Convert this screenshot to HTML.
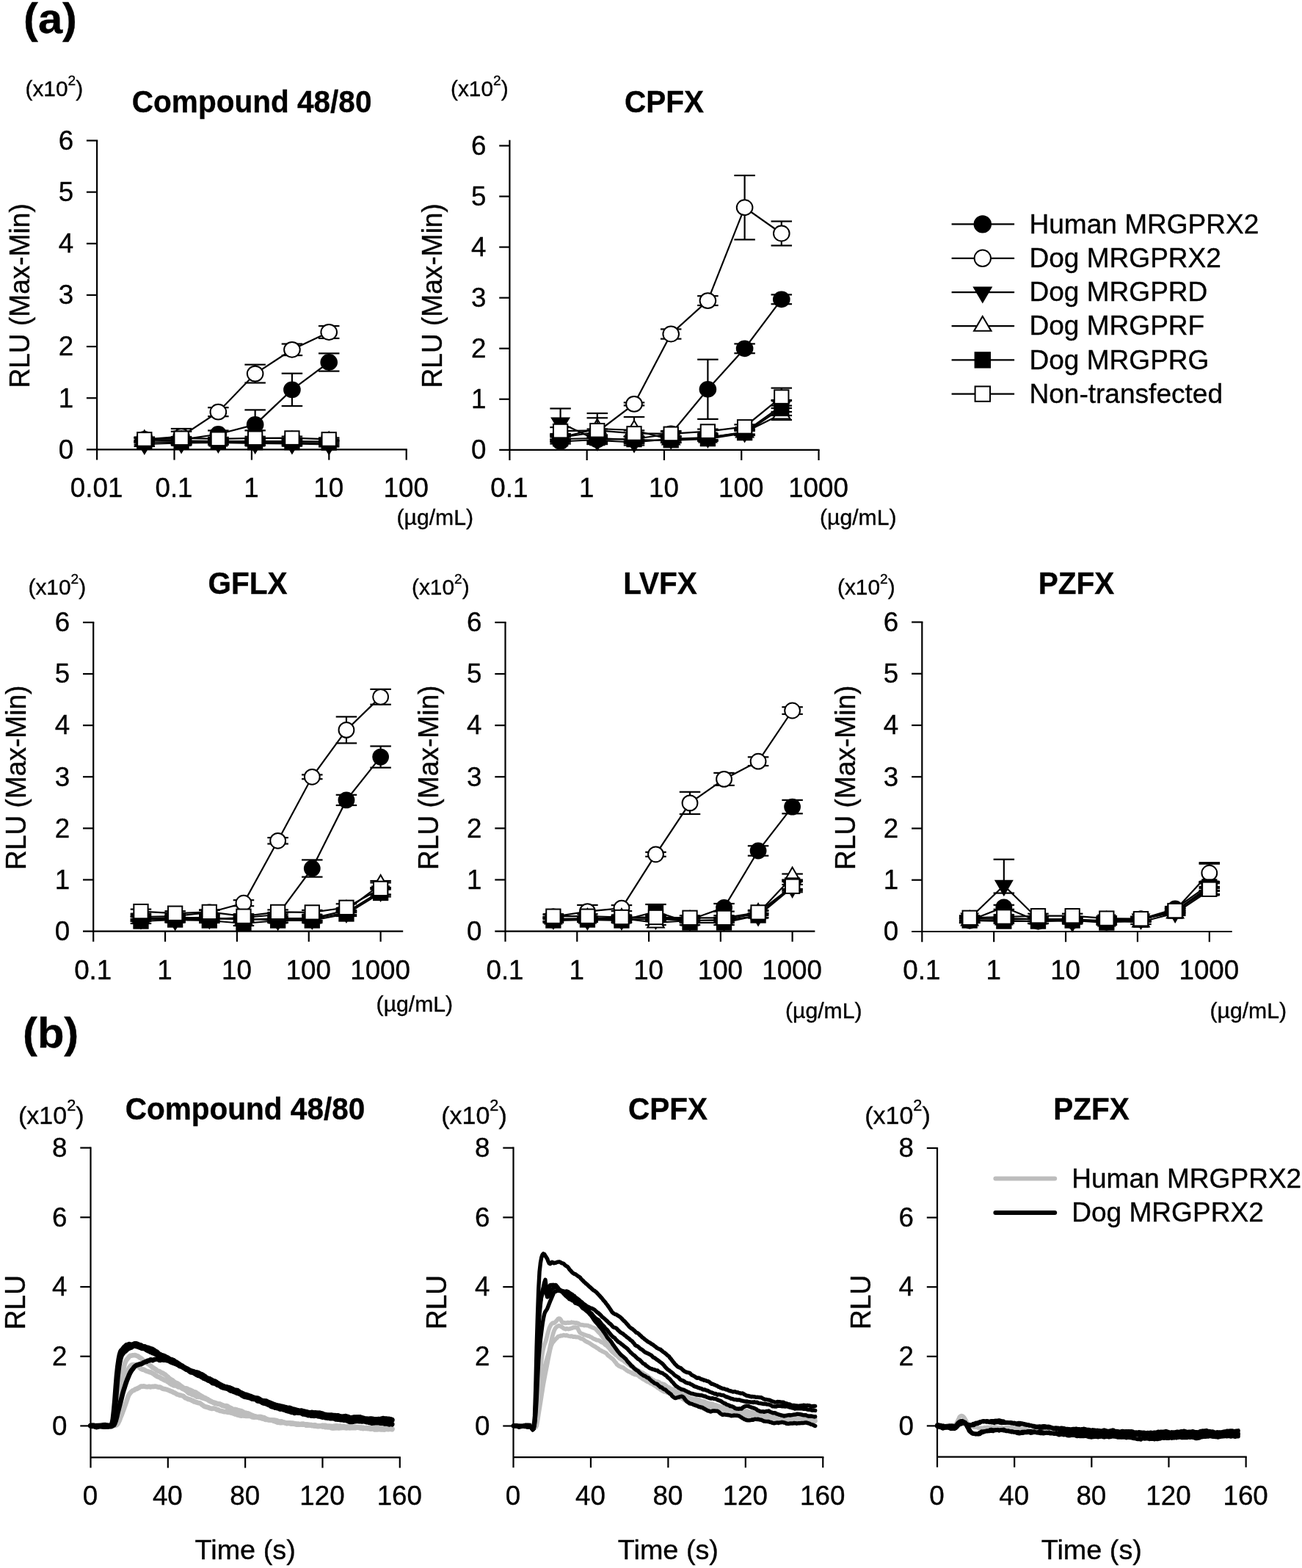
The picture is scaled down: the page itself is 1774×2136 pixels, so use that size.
<!DOCTYPE html>
<html lang="en">
<head>
<meta charset="utf-8">
<title>MRGPRX2 responses</title>
<style>
html,body{margin:0;padding:0;background:#fff;}
svg{display:block;}
text{font-family:"Liberation Sans",Arial,Helvetica,sans-serif;fill:#000;stroke:#000;stroke-width:0.35px;}
</style>
</head>
<body>
<svg width="1774" height="2136" viewBox="0 0 1774 2136">
<rect width="1774" height="2136" fill="#fff"/>
<line x1="132.1" y1="191.4" x2="132.1" y2="626.6" stroke="#000" stroke-width="2.2" stroke-linecap="butt"/>
<line x1="117.9" y1="612.4" x2="554.8" y2="612.4" stroke="#000" stroke-width="2.2" stroke-linecap="butt"/>
<line x1="117.9" y1="542.25" x2="132.1" y2="542.25" stroke="#000" stroke-width="2.2" stroke-linecap="butt"/>
<line x1="117.9" y1="472.1" x2="132.1" y2="472.1" stroke="#000" stroke-width="2.2" stroke-linecap="butt"/>
<line x1="117.9" y1="401.95" x2="132.1" y2="401.95" stroke="#000" stroke-width="2.2" stroke-linecap="butt"/>
<line x1="117.9" y1="331.8" x2="132.1" y2="331.8" stroke="#000" stroke-width="2.2" stroke-linecap="butt"/>
<line x1="117.9" y1="261.65" x2="132.1" y2="261.65" stroke="#000" stroke-width="2.2" stroke-linecap="butt"/>
<line x1="117.9" y1="191.5" x2="133.2" y2="191.5" stroke="#000" stroke-width="2.2" stroke-linecap="butt"/>
<text transform="translate(100.1,624.66) scale(0.98,1)" font-size="37.5" text-anchor="end">0</text>
<text transform="translate(100.1,554.51) scale(0.98,1)" font-size="37.5" text-anchor="end">1</text>
<text transform="translate(100.1,484.36) scale(0.98,1)" font-size="37.5" text-anchor="end">2</text>
<text transform="translate(100.1,414.21) scale(0.98,1)" font-size="37.5" text-anchor="end">3</text>
<text transform="translate(100.1,344.06) scale(0.98,1)" font-size="37.5" text-anchor="end">4</text>
<text transform="translate(100.1,273.91) scale(0.98,1)" font-size="37.5" text-anchor="end">5</text>
<text transform="translate(100.1,203.76) scale(0.98,1)" font-size="37.5" text-anchor="end">6</text>
<text transform="translate(131.6,677.4) scale(0.98,1)" font-size="37.5" text-anchor="middle">0.01</text>
<line x1="237.5" y1="612.4" x2="237.5" y2="626.6" stroke="#000" stroke-width="2.2" stroke-linecap="butt"/>
<text transform="translate(237,677.4) scale(0.98,1)" font-size="37.5" text-anchor="middle">0.1</text>
<line x1="342.9" y1="612.4" x2="342.9" y2="626.6" stroke="#000" stroke-width="2.2" stroke-linecap="butt"/>
<text transform="translate(342.4,677.4) scale(0.98,1)" font-size="37.5" text-anchor="middle">1</text>
<line x1="448.3" y1="612.4" x2="448.3" y2="626.6" stroke="#000" stroke-width="2.2" stroke-linecap="butt"/>
<text transform="translate(447.8,677.4) scale(0.98,1)" font-size="37.5" text-anchor="middle">10</text>
<line x1="553.7" y1="612.4" x2="553.7" y2="626.6" stroke="#000" stroke-width="2.2" stroke-linecap="butt"/>
<text transform="translate(553.2,677.4) scale(0.98,1)" font-size="37.5" text-anchor="middle">100</text>
<text transform="translate(343.1,152.9) scale(0.95,1)" font-size="42.7" text-anchor="middle" font-weight="bold">Compound 48/80</text>
<text transform="translate(34.5,131.2) scale(1.03,1)" font-size="29" text-anchor="start">(x10<tspan font-size="18.56" dy="-14.79">2</tspan><tspan dy="14.79">)</tspan></text>
<text transform="translate(540.5,714.5) scale(1.04,1)" font-size="29" text-anchor="start">(µg/mL)</text>
<text transform="translate(40,402.9) rotate(-90) scale(1.03,1.07)" font-size="36" text-anchor="middle">RLU (Max-Min)</text>
<polyline points="196.8,599.5 247.08,599 297.36,591.5 347.64,578.4 397.92,530.9 448.2,493.5" fill="none" stroke="#000" stroke-width="2.2" stroke-linejoin="miter" stroke-linecap="butt"/>
<line x1="196.8" y1="596.5" x2="196.8" y2="602.5" stroke="#000" stroke-width="2.2" stroke-linecap="butt"/>
<line x1="182.55" y1="596.5" x2="211.05" y2="596.5" stroke="#000" stroke-width="2.2" stroke-linecap="butt"/>
<line x1="182.55" y1="602.5" x2="211.05" y2="602.5" stroke="#000" stroke-width="2.2" stroke-linecap="butt"/>
<line x1="247.08" y1="595" x2="247.08" y2="603" stroke="#000" stroke-width="2.2" stroke-linecap="butt"/>
<line x1="232.83" y1="595" x2="261.33" y2="595" stroke="#000" stroke-width="2.2" stroke-linecap="butt"/>
<line x1="232.83" y1="603" x2="261.33" y2="603" stroke="#000" stroke-width="2.2" stroke-linecap="butt"/>
<line x1="297.36" y1="586.5" x2="297.36" y2="596.5" stroke="#000" stroke-width="2.2" stroke-linecap="butt"/>
<line x1="283.11" y1="586.5" x2="311.61" y2="586.5" stroke="#000" stroke-width="2.2" stroke-linecap="butt"/>
<line x1="283.11" y1="596.5" x2="311.61" y2="596.5" stroke="#000" stroke-width="2.2" stroke-linecap="butt"/>
<line x1="347.64" y1="558.4" x2="347.64" y2="586.4" stroke="#000" stroke-width="2.2" stroke-linecap="butt"/>
<line x1="333.39" y1="558.4" x2="361.89" y2="558.4" stroke="#000" stroke-width="2.2" stroke-linecap="butt"/>
<line x1="333.39" y1="586.4" x2="361.89" y2="586.4" stroke="#000" stroke-width="2.2" stroke-linecap="butt"/>
<line x1="397.92" y1="508.7" x2="397.92" y2="553.1" stroke="#000" stroke-width="2.2" stroke-linecap="butt"/>
<line x1="383.67" y1="508.7" x2="412.17" y2="508.7" stroke="#000" stroke-width="2.2" stroke-linecap="butt"/>
<line x1="383.67" y1="553.1" x2="412.17" y2="553.1" stroke="#000" stroke-width="2.2" stroke-linecap="butt"/>
<line x1="448.2" y1="481.4" x2="448.2" y2="505.6" stroke="#000" stroke-width="2.2" stroke-linecap="butt"/>
<line x1="433.95" y1="481.4" x2="462.45" y2="481.4" stroke="#000" stroke-width="2.2" stroke-linecap="butt"/>
<line x1="433.95" y1="505.6" x2="462.45" y2="505.6" stroke="#000" stroke-width="2.2" stroke-linecap="butt"/>
<ellipse cx="196.8" cy="599.5" rx="10.82" ry="10.4" fill="#000" stroke="#000" stroke-width="2"/>
<ellipse cx="247.08" cy="599" rx="10.82" ry="10.4" fill="#000" stroke="#000" stroke-width="2"/>
<ellipse cx="297.36" cy="591.5" rx="10.82" ry="10.4" fill="#000" stroke="#000" stroke-width="2"/>
<ellipse cx="347.64" cy="578.4" rx="10.82" ry="10.4" fill="#000" stroke="#000" stroke-width="2"/>
<ellipse cx="397.92" cy="530.9" rx="10.82" ry="10.4" fill="#000" stroke="#000" stroke-width="2"/>
<ellipse cx="448.2" cy="493.5" rx="10.82" ry="10.4" fill="#000" stroke="#000" stroke-width="2"/>
<polyline points="196.8,598.5 247.08,594.5 297.36,561.2 347.64,509.1 397.92,476.3 448.2,452.5" fill="none" stroke="#000" stroke-width="2.2" stroke-linejoin="miter" stroke-linecap="butt"/>
<line x1="196.8" y1="595.5" x2="196.8" y2="601.5" stroke="#000" stroke-width="2.2" stroke-linecap="butt"/>
<line x1="182.55" y1="595.5" x2="211.05" y2="595.5" stroke="#000" stroke-width="2.2" stroke-linecap="butt"/>
<line x1="182.55" y1="601.5" x2="211.05" y2="601.5" stroke="#000" stroke-width="2.2" stroke-linecap="butt"/>
<line x1="247.08" y1="584" x2="247.08" y2="605" stroke="#000" stroke-width="2.2" stroke-linecap="butt"/>
<line x1="232.83" y1="584" x2="261.33" y2="584" stroke="#000" stroke-width="2.2" stroke-linecap="butt"/>
<line x1="232.83" y1="605" x2="261.33" y2="605" stroke="#000" stroke-width="2.2" stroke-linecap="butt"/>
<line x1="297.36" y1="555.2" x2="297.36" y2="567.2" stroke="#000" stroke-width="2.2" stroke-linecap="butt"/>
<line x1="283.11" y1="555.2" x2="311.61" y2="555.2" stroke="#000" stroke-width="2.2" stroke-linecap="butt"/>
<line x1="283.11" y1="567.2" x2="311.61" y2="567.2" stroke="#000" stroke-width="2.2" stroke-linecap="butt"/>
<line x1="347.64" y1="496.7" x2="347.64" y2="521.5" stroke="#000" stroke-width="2.2" stroke-linecap="butt"/>
<line x1="333.39" y1="496.7" x2="361.89" y2="496.7" stroke="#000" stroke-width="2.2" stroke-linecap="butt"/>
<line x1="333.39" y1="521.5" x2="361.89" y2="521.5" stroke="#000" stroke-width="2.2" stroke-linecap="butt"/>
<line x1="397.92" y1="468.5" x2="397.92" y2="484.1" stroke="#000" stroke-width="2.2" stroke-linecap="butt"/>
<line x1="383.67" y1="468.5" x2="412.17" y2="468.5" stroke="#000" stroke-width="2.2" stroke-linecap="butt"/>
<line x1="383.67" y1="484.1" x2="412.17" y2="484.1" stroke="#000" stroke-width="2.2" stroke-linecap="butt"/>
<line x1="448.2" y1="444.1" x2="448.2" y2="460.9" stroke="#000" stroke-width="2.2" stroke-linecap="butt"/>
<line x1="433.95" y1="444.1" x2="462.45" y2="444.1" stroke="#000" stroke-width="2.2" stroke-linecap="butt"/>
<line x1="433.95" y1="460.9" x2="462.45" y2="460.9" stroke="#000" stroke-width="2.2" stroke-linecap="butt"/>
<ellipse cx="196.8" cy="598.5" rx="10.82" ry="10.4" fill="#fff" stroke="#000" stroke-width="2"/>
<ellipse cx="247.08" cy="594.5" rx="10.82" ry="10.4" fill="#fff" stroke="#000" stroke-width="2"/>
<ellipse cx="297.36" cy="561.2" rx="10.82" ry="10.4" fill="#fff" stroke="#000" stroke-width="2"/>
<ellipse cx="347.64" cy="509.1" rx="10.82" ry="10.4" fill="#fff" stroke="#000" stroke-width="2"/>
<ellipse cx="397.92" cy="476.3" rx="10.82" ry="10.4" fill="#fff" stroke="#000" stroke-width="2"/>
<ellipse cx="448.2" cy="452.5" rx="10.82" ry="10.4" fill="#fff" stroke="#000" stroke-width="2"/>
<polyline points="196.8,605 247.08,603.5 297.36,603 347.64,604 397.92,604.5 448.2,605.5" fill="none" stroke="#000" stroke-width="2.2" stroke-linejoin="miter" stroke-linecap="butt"/>
<line x1="196.8" y1="602" x2="196.8" y2="608" stroke="#000" stroke-width="2.2" stroke-linecap="butt"/>
<line x1="182.55" y1="602" x2="211.05" y2="602" stroke="#000" stroke-width="2.2" stroke-linecap="butt"/>
<line x1="182.55" y1="608" x2="211.05" y2="608" stroke="#000" stroke-width="2.2" stroke-linecap="butt"/>
<line x1="247.08" y1="600.5" x2="247.08" y2="606.5" stroke="#000" stroke-width="2.2" stroke-linecap="butt"/>
<line x1="232.83" y1="600.5" x2="261.33" y2="600.5" stroke="#000" stroke-width="2.2" stroke-linecap="butt"/>
<line x1="232.83" y1="606.5" x2="261.33" y2="606.5" stroke="#000" stroke-width="2.2" stroke-linecap="butt"/>
<line x1="297.36" y1="600" x2="297.36" y2="606" stroke="#000" stroke-width="2.2" stroke-linecap="butt"/>
<line x1="283.11" y1="600" x2="311.61" y2="600" stroke="#000" stroke-width="2.2" stroke-linecap="butt"/>
<line x1="283.11" y1="606" x2="311.61" y2="606" stroke="#000" stroke-width="2.2" stroke-linecap="butt"/>
<line x1="347.64" y1="601" x2="347.64" y2="607" stroke="#000" stroke-width="2.2" stroke-linecap="butt"/>
<line x1="333.39" y1="601" x2="361.89" y2="601" stroke="#000" stroke-width="2.2" stroke-linecap="butt"/>
<line x1="333.39" y1="607" x2="361.89" y2="607" stroke="#000" stroke-width="2.2" stroke-linecap="butt"/>
<line x1="397.92" y1="601.5" x2="397.92" y2="607.5" stroke="#000" stroke-width="2.2" stroke-linecap="butt"/>
<line x1="383.67" y1="601.5" x2="412.17" y2="601.5" stroke="#000" stroke-width="2.2" stroke-linecap="butt"/>
<line x1="383.67" y1="607.5" x2="412.17" y2="607.5" stroke="#000" stroke-width="2.2" stroke-linecap="butt"/>
<line x1="448.2" y1="602.5" x2="448.2" y2="608.5" stroke="#000" stroke-width="2.2" stroke-linecap="butt"/>
<line x1="433.95" y1="602.5" x2="462.45" y2="602.5" stroke="#000" stroke-width="2.2" stroke-linecap="butt"/>
<line x1="433.95" y1="608.5" x2="462.45" y2="608.5" stroke="#000" stroke-width="2.2" stroke-linecap="butt"/>
<polygon points="196.8,618 185.1,598.5 208.5,598.5" fill="#000" stroke="#000" stroke-width="2" stroke-linejoin="miter"/>
<polygon points="247.08,616.5 235.38,597 258.78,597" fill="#000" stroke="#000" stroke-width="2" stroke-linejoin="miter"/>
<polygon points="297.36,616 285.66,596.5 309.06,596.5" fill="#000" stroke="#000" stroke-width="2" stroke-linejoin="miter"/>
<polygon points="347.64,617 335.94,597.5 359.34,597.5" fill="#000" stroke="#000" stroke-width="2" stroke-linejoin="miter"/>
<polygon points="397.92,617.5 386.22,598 409.62,598" fill="#000" stroke="#000" stroke-width="2" stroke-linejoin="miter"/>
<polygon points="448.2,618.5 436.5,599 459.9,599" fill="#000" stroke="#000" stroke-width="2" stroke-linejoin="miter"/>
<polyline points="196.8,599.5 247.08,600.5 297.36,601 347.64,601 397.92,601 448.2,601.5" fill="none" stroke="#000" stroke-width="2.2" stroke-linejoin="miter" stroke-linecap="butt"/>
<line x1="196.8" y1="596.5" x2="196.8" y2="602.5" stroke="#000" stroke-width="2.2" stroke-linecap="butt"/>
<line x1="182.55" y1="596.5" x2="211.05" y2="596.5" stroke="#000" stroke-width="2.2" stroke-linecap="butt"/>
<line x1="182.55" y1="602.5" x2="211.05" y2="602.5" stroke="#000" stroke-width="2.2" stroke-linecap="butt"/>
<line x1="247.08" y1="597.5" x2="247.08" y2="603.5" stroke="#000" stroke-width="2.2" stroke-linecap="butt"/>
<line x1="232.83" y1="597.5" x2="261.33" y2="597.5" stroke="#000" stroke-width="2.2" stroke-linecap="butt"/>
<line x1="232.83" y1="603.5" x2="261.33" y2="603.5" stroke="#000" stroke-width="2.2" stroke-linecap="butt"/>
<line x1="297.36" y1="598" x2="297.36" y2="604" stroke="#000" stroke-width="2.2" stroke-linecap="butt"/>
<line x1="283.11" y1="598" x2="311.61" y2="598" stroke="#000" stroke-width="2.2" stroke-linecap="butt"/>
<line x1="283.11" y1="604" x2="311.61" y2="604" stroke="#000" stroke-width="2.2" stroke-linecap="butt"/>
<line x1="347.64" y1="598" x2="347.64" y2="604" stroke="#000" stroke-width="2.2" stroke-linecap="butt"/>
<line x1="333.39" y1="598" x2="361.89" y2="598" stroke="#000" stroke-width="2.2" stroke-linecap="butt"/>
<line x1="333.39" y1="604" x2="361.89" y2="604" stroke="#000" stroke-width="2.2" stroke-linecap="butt"/>
<line x1="397.92" y1="598" x2="397.92" y2="604" stroke="#000" stroke-width="2.2" stroke-linecap="butt"/>
<line x1="383.67" y1="598" x2="412.17" y2="598" stroke="#000" stroke-width="2.2" stroke-linecap="butt"/>
<line x1="383.67" y1="604" x2="412.17" y2="604" stroke="#000" stroke-width="2.2" stroke-linecap="butt"/>
<line x1="448.2" y1="598.5" x2="448.2" y2="604.5" stroke="#000" stroke-width="2.2" stroke-linecap="butt"/>
<line x1="433.95" y1="598.5" x2="462.45" y2="598.5" stroke="#000" stroke-width="2.2" stroke-linecap="butt"/>
<line x1="433.95" y1="604.5" x2="462.45" y2="604.5" stroke="#000" stroke-width="2.2" stroke-linecap="butt"/>
<polygon points="196.8,586.5 185.1,606 208.5,606" fill="#fff" stroke="#000" stroke-width="2" stroke-linejoin="miter"/>
<polygon points="247.08,587.5 235.38,607 258.78,607" fill="#fff" stroke="#000" stroke-width="2" stroke-linejoin="miter"/>
<polygon points="297.36,588 285.66,607.5 309.06,607.5" fill="#fff" stroke="#000" stroke-width="2" stroke-linejoin="miter"/>
<polygon points="347.64,588 335.94,607.5 359.34,607.5" fill="#fff" stroke="#000" stroke-width="2" stroke-linejoin="miter"/>
<polygon points="397.92,588 386.22,607.5 409.62,607.5" fill="#fff" stroke="#000" stroke-width="2" stroke-linejoin="miter"/>
<polygon points="448.2,588.5 436.5,608 459.9,608" fill="#fff" stroke="#000" stroke-width="2" stroke-linejoin="miter"/>
<polyline points="196.8,602.5 247.08,602 297.36,602.5 347.64,603 397.92,603 448.2,603.5" fill="none" stroke="#000" stroke-width="2.2" stroke-linejoin="miter" stroke-linecap="butt"/>
<line x1="196.8" y1="599.5" x2="196.8" y2="605.5" stroke="#000" stroke-width="2.2" stroke-linecap="butt"/>
<line x1="182.55" y1="599.5" x2="211.05" y2="599.5" stroke="#000" stroke-width="2.2" stroke-linecap="butt"/>
<line x1="182.55" y1="605.5" x2="211.05" y2="605.5" stroke="#000" stroke-width="2.2" stroke-linecap="butt"/>
<line x1="247.08" y1="599" x2="247.08" y2="605" stroke="#000" stroke-width="2.2" stroke-linecap="butt"/>
<line x1="232.83" y1="599" x2="261.33" y2="599" stroke="#000" stroke-width="2.2" stroke-linecap="butt"/>
<line x1="232.83" y1="605" x2="261.33" y2="605" stroke="#000" stroke-width="2.2" stroke-linecap="butt"/>
<line x1="297.36" y1="599.5" x2="297.36" y2="605.5" stroke="#000" stroke-width="2.2" stroke-linecap="butt"/>
<line x1="283.11" y1="599.5" x2="311.61" y2="599.5" stroke="#000" stroke-width="2.2" stroke-linecap="butt"/>
<line x1="283.11" y1="605.5" x2="311.61" y2="605.5" stroke="#000" stroke-width="2.2" stroke-linecap="butt"/>
<line x1="347.64" y1="600" x2="347.64" y2="606" stroke="#000" stroke-width="2.2" stroke-linecap="butt"/>
<line x1="333.39" y1="600" x2="361.89" y2="600" stroke="#000" stroke-width="2.2" stroke-linecap="butt"/>
<line x1="333.39" y1="606" x2="361.89" y2="606" stroke="#000" stroke-width="2.2" stroke-linecap="butt"/>
<line x1="397.92" y1="600" x2="397.92" y2="606" stroke="#000" stroke-width="2.2" stroke-linecap="butt"/>
<line x1="383.67" y1="600" x2="412.17" y2="600" stroke="#000" stroke-width="2.2" stroke-linecap="butt"/>
<line x1="383.67" y1="606" x2="412.17" y2="606" stroke="#000" stroke-width="2.2" stroke-linecap="butt"/>
<line x1="448.2" y1="600.5" x2="448.2" y2="606.5" stroke="#000" stroke-width="2.2" stroke-linecap="butt"/>
<line x1="433.95" y1="600.5" x2="462.45" y2="600.5" stroke="#000" stroke-width="2.2" stroke-linecap="butt"/>
<line x1="433.95" y1="606.5" x2="462.45" y2="606.5" stroke="#000" stroke-width="2.2" stroke-linecap="butt"/>
<rect x="187.15" y="593.22" width="19.3" height="18.56" fill="#000" stroke="#000" stroke-width="2"/>
<rect x="237.43" y="592.72" width="19.3" height="18.56" fill="#000" stroke="#000" stroke-width="2"/>
<rect x="287.71" y="593.22" width="19.3" height="18.56" fill="#000" stroke="#000" stroke-width="2"/>
<rect x="337.99" y="593.72" width="19.3" height="18.56" fill="#000" stroke="#000" stroke-width="2"/>
<rect x="388.27" y="593.72" width="19.3" height="18.56" fill="#000" stroke="#000" stroke-width="2"/>
<rect x="438.55" y="594.22" width="19.3" height="18.56" fill="#000" stroke="#000" stroke-width="2"/>
<polyline points="196.8,598.4 247.08,596.8 297.36,597.8 347.64,596.8 397.92,596.6 448.2,598.4" fill="none" stroke="#000" stroke-width="2.2" stroke-linejoin="miter" stroke-linecap="butt"/>
<line x1="196.8" y1="596.4" x2="196.8" y2="600.4" stroke="#000" stroke-width="2.2" stroke-linecap="butt"/>
<line x1="182.55" y1="596.4" x2="211.05" y2="596.4" stroke="#000" stroke-width="2.2" stroke-linecap="butt"/>
<line x1="182.55" y1="600.4" x2="211.05" y2="600.4" stroke="#000" stroke-width="2.2" stroke-linecap="butt"/>
<line x1="247.08" y1="587.8" x2="247.08" y2="605.8" stroke="#000" stroke-width="2.2" stroke-linecap="butt"/>
<line x1="232.83" y1="587.8" x2="261.33" y2="587.8" stroke="#000" stroke-width="2.2" stroke-linecap="butt"/>
<line x1="232.83" y1="605.8" x2="261.33" y2="605.8" stroke="#000" stroke-width="2.2" stroke-linecap="butt"/>
<line x1="297.36" y1="595.8" x2="297.36" y2="599.8" stroke="#000" stroke-width="2.2" stroke-linecap="butt"/>
<line x1="283.11" y1="595.8" x2="311.61" y2="595.8" stroke="#000" stroke-width="2.2" stroke-linecap="butt"/>
<line x1="283.11" y1="599.8" x2="311.61" y2="599.8" stroke="#000" stroke-width="2.2" stroke-linecap="butt"/>
<line x1="347.64" y1="594.8" x2="347.64" y2="598.8" stroke="#000" stroke-width="2.2" stroke-linecap="butt"/>
<line x1="333.39" y1="594.8" x2="361.89" y2="594.8" stroke="#000" stroke-width="2.2" stroke-linecap="butt"/>
<line x1="333.39" y1="598.8" x2="361.89" y2="598.8" stroke="#000" stroke-width="2.2" stroke-linecap="butt"/>
<line x1="397.92" y1="594.6" x2="397.92" y2="598.6" stroke="#000" stroke-width="2.2" stroke-linecap="butt"/>
<line x1="383.67" y1="594.6" x2="412.17" y2="594.6" stroke="#000" stroke-width="2.2" stroke-linecap="butt"/>
<line x1="383.67" y1="598.6" x2="412.17" y2="598.6" stroke="#000" stroke-width="2.2" stroke-linecap="butt"/>
<line x1="448.2" y1="596.4" x2="448.2" y2="600.4" stroke="#000" stroke-width="2.2" stroke-linecap="butt"/>
<line x1="433.95" y1="596.4" x2="462.45" y2="596.4" stroke="#000" stroke-width="2.2" stroke-linecap="butt"/>
<line x1="433.95" y1="600.4" x2="462.45" y2="600.4" stroke="#000" stroke-width="2.2" stroke-linecap="butt"/>
<rect x="187.15" y="589.12" width="19.3" height="18.56" fill="#fff" stroke="#000" stroke-width="2"/>
<rect x="237.43" y="587.52" width="19.3" height="18.56" fill="#fff" stroke="#000" stroke-width="2"/>
<rect x="287.71" y="588.52" width="19.3" height="18.56" fill="#fff" stroke="#000" stroke-width="2"/>
<rect x="337.99" y="587.52" width="19.3" height="18.56" fill="#fff" stroke="#000" stroke-width="2"/>
<rect x="388.27" y="587.32" width="19.3" height="18.56" fill="#fff" stroke="#000" stroke-width="2"/>
<rect x="438.55" y="589.12" width="19.3" height="18.56" fill="#fff" stroke="#000" stroke-width="2"/>
<line x1="694.4" y1="190.8" x2="694.4" y2="627" stroke="#000" stroke-width="2.2" stroke-linecap="butt"/>
<line x1="680.2" y1="612.8" x2="1116.6" y2="612.8" stroke="#000" stroke-width="2.2" stroke-linecap="butt"/>
<line x1="680.2" y1="543.75" x2="694.4" y2="543.75" stroke="#000" stroke-width="2.2" stroke-linecap="butt"/>
<line x1="680.2" y1="474.7" x2="694.4" y2="474.7" stroke="#000" stroke-width="2.2" stroke-linecap="butt"/>
<line x1="680.2" y1="405.65" x2="694.4" y2="405.65" stroke="#000" stroke-width="2.2" stroke-linecap="butt"/>
<line x1="680.2" y1="336.6" x2="694.4" y2="336.6" stroke="#000" stroke-width="2.2" stroke-linecap="butt"/>
<line x1="680.2" y1="267.55" x2="694.4" y2="267.55" stroke="#000" stroke-width="2.2" stroke-linecap="butt"/>
<line x1="680.2" y1="198.5" x2="694.4" y2="198.5" stroke="#000" stroke-width="2.2" stroke-linecap="butt"/>
<text transform="translate(662.4,625.06) scale(0.98,1)" font-size="37.5" text-anchor="end">0</text>
<text transform="translate(662.4,556.01) scale(0.98,1)" font-size="37.5" text-anchor="end">1</text>
<text transform="translate(662.4,486.96) scale(0.98,1)" font-size="37.5" text-anchor="end">2</text>
<text transform="translate(662.4,417.91) scale(0.98,1)" font-size="37.5" text-anchor="end">3</text>
<text transform="translate(662.4,348.86) scale(0.98,1)" font-size="37.5" text-anchor="end">4</text>
<text transform="translate(662.4,279.81) scale(0.98,1)" font-size="37.5" text-anchor="end">5</text>
<text transform="translate(662.4,210.76) scale(0.98,1)" font-size="37.5" text-anchor="end">6</text>
<text transform="translate(693.9,677.4) scale(0.98,1)" font-size="37.5" text-anchor="middle">0.1</text>
<line x1="799.68" y1="612.8" x2="799.68" y2="627" stroke="#000" stroke-width="2.2" stroke-linecap="butt"/>
<text transform="translate(799.18,677.4) scale(0.98,1)" font-size="37.5" text-anchor="middle">1</text>
<line x1="904.96" y1="612.8" x2="904.96" y2="627" stroke="#000" stroke-width="2.2" stroke-linecap="butt"/>
<text transform="translate(904.46,677.4) scale(0.98,1)" font-size="37.5" text-anchor="middle">10</text>
<line x1="1010.24" y1="612.8" x2="1010.24" y2="627" stroke="#000" stroke-width="2.2" stroke-linecap="butt"/>
<text transform="translate(1009.74,677.4) scale(0.98,1)" font-size="37.5" text-anchor="middle">100</text>
<line x1="1115.52" y1="612.8" x2="1115.52" y2="627" stroke="#000" stroke-width="2.2" stroke-linecap="butt"/>
<text transform="translate(1115.02,677.4) scale(0.98,1)" font-size="37.5" text-anchor="middle">1000</text>
<text transform="translate(905,152.9) scale(0.95,1)" font-size="42.7" text-anchor="middle" font-weight="bold">CPFX</text>
<text transform="translate(614,131.2) scale(1.03,1)" font-size="29" text-anchor="start">(x10<tspan font-size="18.56" dy="-14.79">2</tspan><tspan dy="14.79">)</tspan></text>
<text transform="translate(1117,714.5) scale(1.04,1)" font-size="29" text-anchor="start">(µg/mL)</text>
<text transform="translate(602,402.8) rotate(-90) scale(1.03,1.07)" font-size="36" text-anchor="middle">RLU (Max-Min)</text>
<polyline points="763.6,601.5 813.8,599 864,598 914.2,591 964.4,530.3 1014.6,474.8 1064.8,407.8" fill="none" stroke="#000" stroke-width="2.2" stroke-linejoin="miter" stroke-linecap="butt"/>
<line x1="763.6" y1="598.5" x2="763.6" y2="604.5" stroke="#000" stroke-width="2.2" stroke-linecap="butt"/>
<line x1="749.35" y1="598.5" x2="777.85" y2="598.5" stroke="#000" stroke-width="2.2" stroke-linecap="butt"/>
<line x1="749.35" y1="604.5" x2="777.85" y2="604.5" stroke="#000" stroke-width="2.2" stroke-linecap="butt"/>
<line x1="813.8" y1="596" x2="813.8" y2="602" stroke="#000" stroke-width="2.2" stroke-linecap="butt"/>
<line x1="799.55" y1="596" x2="828.05" y2="596" stroke="#000" stroke-width="2.2" stroke-linecap="butt"/>
<line x1="799.55" y1="602" x2="828.05" y2="602" stroke="#000" stroke-width="2.2" stroke-linecap="butt"/>
<line x1="864" y1="595" x2="864" y2="601" stroke="#000" stroke-width="2.2" stroke-linecap="butt"/>
<line x1="849.75" y1="595" x2="878.25" y2="595" stroke="#000" stroke-width="2.2" stroke-linecap="butt"/>
<line x1="849.75" y1="601" x2="878.25" y2="601" stroke="#000" stroke-width="2.2" stroke-linecap="butt"/>
<line x1="914.2" y1="587" x2="914.2" y2="595" stroke="#000" stroke-width="2.2" stroke-linecap="butt"/>
<line x1="899.95" y1="587" x2="928.45" y2="587" stroke="#000" stroke-width="2.2" stroke-linecap="butt"/>
<line x1="899.95" y1="595" x2="928.45" y2="595" stroke="#000" stroke-width="2.2" stroke-linecap="butt"/>
<line x1="964.4" y1="489.7" x2="964.4" y2="570.9" stroke="#000" stroke-width="2.2" stroke-linecap="butt"/>
<line x1="950.15" y1="489.7" x2="978.65" y2="489.7" stroke="#000" stroke-width="2.2" stroke-linecap="butt"/>
<line x1="950.15" y1="570.9" x2="978.65" y2="570.9" stroke="#000" stroke-width="2.2" stroke-linecap="butt"/>
<line x1="1014.6" y1="468.4" x2="1014.6" y2="481.2" stroke="#000" stroke-width="2.2" stroke-linecap="butt"/>
<line x1="1000.35" y1="468.4" x2="1028.85" y2="468.4" stroke="#000" stroke-width="2.2" stroke-linecap="butt"/>
<line x1="1000.35" y1="481.2" x2="1028.85" y2="481.2" stroke="#000" stroke-width="2.2" stroke-linecap="butt"/>
<line x1="1064.8" y1="401.4" x2="1064.8" y2="414.2" stroke="#000" stroke-width="2.2" stroke-linecap="butt"/>
<line x1="1050.55" y1="401.4" x2="1079.05" y2="401.4" stroke="#000" stroke-width="2.2" stroke-linecap="butt"/>
<line x1="1050.55" y1="414.2" x2="1079.05" y2="414.2" stroke="#000" stroke-width="2.2" stroke-linecap="butt"/>
<ellipse cx="763.6" cy="601.5" rx="10.82" ry="10.4" fill="#000" stroke="#000" stroke-width="2"/>
<ellipse cx="813.8" cy="599" rx="10.82" ry="10.4" fill="#000" stroke="#000" stroke-width="2"/>
<ellipse cx="864" cy="598" rx="10.82" ry="10.4" fill="#000" stroke="#000" stroke-width="2"/>
<ellipse cx="914.2" cy="591" rx="10.82" ry="10.4" fill="#000" stroke="#000" stroke-width="2"/>
<ellipse cx="964.4" cy="530.3" rx="10.82" ry="10.4" fill="#000" stroke="#000" stroke-width="2"/>
<ellipse cx="1014.6" cy="474.8" rx="10.82" ry="10.4" fill="#000" stroke="#000" stroke-width="2"/>
<ellipse cx="1064.8" cy="407.8" rx="10.82" ry="10.4" fill="#000" stroke="#000" stroke-width="2"/>
<polyline points="763.6,596 813.8,588.5 864,550.4 914.2,455 964.4,409.6 1014.6,282.7 1064.8,318" fill="none" stroke="#000" stroke-width="2.2" stroke-linejoin="miter" stroke-linecap="butt"/>
<line x1="763.6" y1="593" x2="763.6" y2="599" stroke="#000" stroke-width="2.2" stroke-linecap="butt"/>
<line x1="749.35" y1="593" x2="777.85" y2="593" stroke="#000" stroke-width="2.2" stroke-linecap="butt"/>
<line x1="749.35" y1="599" x2="777.85" y2="599" stroke="#000" stroke-width="2.2" stroke-linecap="butt"/>
<line x1="813.8" y1="584.5" x2="813.8" y2="592.5" stroke="#000" stroke-width="2.2" stroke-linecap="butt"/>
<line x1="799.55" y1="584.5" x2="828.05" y2="584.5" stroke="#000" stroke-width="2.2" stroke-linecap="butt"/>
<line x1="799.55" y1="592.5" x2="828.05" y2="592.5" stroke="#000" stroke-width="2.2" stroke-linecap="butt"/>
<line x1="864" y1="548.4" x2="864" y2="552.4" stroke="#000" stroke-width="2.2" stroke-linecap="butt"/>
<line x1="849.75" y1="548.4" x2="878.25" y2="548.4" stroke="#000" stroke-width="2.2" stroke-linecap="butt"/>
<line x1="849.75" y1="552.4" x2="878.25" y2="552.4" stroke="#000" stroke-width="2.2" stroke-linecap="butt"/>
<line x1="914.2" y1="448.4" x2="914.2" y2="461.6" stroke="#000" stroke-width="2.2" stroke-linecap="butt"/>
<line x1="899.95" y1="448.4" x2="928.45" y2="448.4" stroke="#000" stroke-width="2.2" stroke-linecap="butt"/>
<line x1="899.95" y1="461.6" x2="928.45" y2="461.6" stroke="#000" stroke-width="2.2" stroke-linecap="butt"/>
<line x1="964.4" y1="403.2" x2="964.4" y2="416" stroke="#000" stroke-width="2.2" stroke-linecap="butt"/>
<line x1="950.15" y1="403.2" x2="978.65" y2="403.2" stroke="#000" stroke-width="2.2" stroke-linecap="butt"/>
<line x1="950.15" y1="416" x2="978.65" y2="416" stroke="#000" stroke-width="2.2" stroke-linecap="butt"/>
<line x1="1014.6" y1="239" x2="1014.6" y2="326.4" stroke="#000" stroke-width="2.2" stroke-linecap="butt"/>
<line x1="1000.35" y1="239" x2="1028.85" y2="239" stroke="#000" stroke-width="2.2" stroke-linecap="butt"/>
<line x1="1000.35" y1="326.4" x2="1028.85" y2="326.4" stroke="#000" stroke-width="2.2" stroke-linecap="butt"/>
<line x1="1064.8" y1="301.5" x2="1064.8" y2="334.5" stroke="#000" stroke-width="2.2" stroke-linecap="butt"/>
<line x1="1050.55" y1="301.5" x2="1079.05" y2="301.5" stroke="#000" stroke-width="2.2" stroke-linecap="butt"/>
<line x1="1050.55" y1="334.5" x2="1079.05" y2="334.5" stroke="#000" stroke-width="2.2" stroke-linecap="butt"/>
<ellipse cx="763.6" cy="596" rx="10.82" ry="10.4" fill="#fff" stroke="#000" stroke-width="2"/>
<ellipse cx="813.8" cy="588.5" rx="10.82" ry="10.4" fill="#fff" stroke="#000" stroke-width="2"/>
<ellipse cx="864" cy="550.4" rx="10.82" ry="10.4" fill="#fff" stroke="#000" stroke-width="2"/>
<ellipse cx="914.2" cy="455" rx="10.82" ry="10.4" fill="#fff" stroke="#000" stroke-width="2"/>
<ellipse cx="964.4" cy="409.6" rx="10.82" ry="10.4" fill="#fff" stroke="#000" stroke-width="2"/>
<ellipse cx="1014.6" cy="282.7" rx="10.82" ry="10.4" fill="#fff" stroke="#000" stroke-width="2"/>
<ellipse cx="1064.8" cy="318" rx="10.82" ry="10.4" fill="#fff" stroke="#000" stroke-width="2"/>
<polyline points="763.6,576 813.8,600 864,602.5 914.2,597.8 964.4,596 1014.6,588.5 1064.8,553" fill="none" stroke="#000" stroke-width="2.2" stroke-linejoin="miter" stroke-linecap="butt"/>
<line x1="763.6" y1="556.5" x2="763.6" y2="595.5" stroke="#000" stroke-width="2.2" stroke-linecap="butt"/>
<line x1="749.35" y1="556.5" x2="777.85" y2="556.5" stroke="#000" stroke-width="2.2" stroke-linecap="butt"/>
<line x1="749.35" y1="595.5" x2="777.85" y2="595.5" stroke="#000" stroke-width="2.2" stroke-linecap="butt"/>
<line x1="813.8" y1="595" x2="813.8" y2="605" stroke="#000" stroke-width="2.2" stroke-linecap="butt"/>
<line x1="799.55" y1="595" x2="828.05" y2="595" stroke="#000" stroke-width="2.2" stroke-linecap="butt"/>
<line x1="799.55" y1="605" x2="828.05" y2="605" stroke="#000" stroke-width="2.2" stroke-linecap="butt"/>
<line x1="864" y1="598.5" x2="864" y2="606.5" stroke="#000" stroke-width="2.2" stroke-linecap="butt"/>
<line x1="849.75" y1="598.5" x2="878.25" y2="598.5" stroke="#000" stroke-width="2.2" stroke-linecap="butt"/>
<line x1="849.75" y1="606.5" x2="878.25" y2="606.5" stroke="#000" stroke-width="2.2" stroke-linecap="butt"/>
<line x1="914.2" y1="594.8" x2="914.2" y2="600.8" stroke="#000" stroke-width="2.2" stroke-linecap="butt"/>
<line x1="899.95" y1="594.8" x2="928.45" y2="594.8" stroke="#000" stroke-width="2.2" stroke-linecap="butt"/>
<line x1="899.95" y1="600.8" x2="928.45" y2="600.8" stroke="#000" stroke-width="2.2" stroke-linecap="butt"/>
<line x1="964.4" y1="593" x2="964.4" y2="599" stroke="#000" stroke-width="2.2" stroke-linecap="butt"/>
<line x1="950.15" y1="593" x2="978.65" y2="593" stroke="#000" stroke-width="2.2" stroke-linecap="butt"/>
<line x1="950.15" y1="599" x2="978.65" y2="599" stroke="#000" stroke-width="2.2" stroke-linecap="butt"/>
<line x1="1014.6" y1="585.5" x2="1014.6" y2="591.5" stroke="#000" stroke-width="2.2" stroke-linecap="butt"/>
<line x1="1000.35" y1="585.5" x2="1028.85" y2="585.5" stroke="#000" stroke-width="2.2" stroke-linecap="butt"/>
<line x1="1000.35" y1="591.5" x2="1028.85" y2="591.5" stroke="#000" stroke-width="2.2" stroke-linecap="butt"/>
<line x1="1064.8" y1="545" x2="1064.8" y2="561" stroke="#000" stroke-width="2.2" stroke-linecap="butt"/>
<line x1="1050.55" y1="545" x2="1079.05" y2="545" stroke="#000" stroke-width="2.2" stroke-linecap="butt"/>
<line x1="1050.55" y1="561" x2="1079.05" y2="561" stroke="#000" stroke-width="2.2" stroke-linecap="butt"/>
<polygon points="763.6,589 751.9,569.5 775.3,569.5" fill="#000" stroke="#000" stroke-width="2" stroke-linejoin="miter"/>
<polygon points="813.8,613 802.1,593.5 825.5,593.5" fill="#000" stroke="#000" stroke-width="2" stroke-linejoin="miter"/>
<polygon points="864,615.5 852.3,596 875.7,596" fill="#000" stroke="#000" stroke-width="2" stroke-linejoin="miter"/>
<polygon points="914.2,610.8 902.5,591.3 925.9,591.3" fill="#000" stroke="#000" stroke-width="2" stroke-linejoin="miter"/>
<polygon points="964.4,609 952.7,589.5 976.1,589.5" fill="#000" stroke="#000" stroke-width="2" stroke-linejoin="miter"/>
<polygon points="1014.6,601.5 1002.9,582 1026.3,582" fill="#000" stroke="#000" stroke-width="2" stroke-linejoin="miter"/>
<polygon points="1064.8,566 1053.1,546.5 1076.5,546.5" fill="#000" stroke="#000" stroke-width="2" stroke-linejoin="miter"/>
<polyline points="763.6,596 813.8,584 864,586 914.2,599 964.4,596 1014.6,589 1064.8,564" fill="none" stroke="#000" stroke-width="2.2" stroke-linejoin="miter" stroke-linecap="butt"/>
<line x1="763.6" y1="591" x2="763.6" y2="601" stroke="#000" stroke-width="2.2" stroke-linecap="butt"/>
<line x1="749.35" y1="591" x2="777.85" y2="591" stroke="#000" stroke-width="2.2" stroke-linecap="butt"/>
<line x1="749.35" y1="601" x2="777.85" y2="601" stroke="#000" stroke-width="2.2" stroke-linecap="butt"/>
<line x1="813.8" y1="563" x2="813.8" y2="605" stroke="#000" stroke-width="2.2" stroke-linecap="butt"/>
<line x1="799.55" y1="563" x2="828.05" y2="563" stroke="#000" stroke-width="2.2" stroke-linecap="butt"/>
<line x1="799.55" y1="605" x2="828.05" y2="605" stroke="#000" stroke-width="2.2" stroke-linecap="butt"/>
<line x1="864" y1="568" x2="864" y2="604" stroke="#000" stroke-width="2.2" stroke-linecap="butt"/>
<line x1="849.75" y1="568" x2="878.25" y2="568" stroke="#000" stroke-width="2.2" stroke-linecap="butt"/>
<line x1="849.75" y1="604" x2="878.25" y2="604" stroke="#000" stroke-width="2.2" stroke-linecap="butt"/>
<line x1="914.2" y1="595" x2="914.2" y2="603" stroke="#000" stroke-width="2.2" stroke-linecap="butt"/>
<line x1="899.95" y1="595" x2="928.45" y2="595" stroke="#000" stroke-width="2.2" stroke-linecap="butt"/>
<line x1="899.95" y1="603" x2="928.45" y2="603" stroke="#000" stroke-width="2.2" stroke-linecap="butt"/>
<line x1="964.4" y1="592" x2="964.4" y2="600" stroke="#000" stroke-width="2.2" stroke-linecap="butt"/>
<line x1="950.15" y1="592" x2="978.65" y2="592" stroke="#000" stroke-width="2.2" stroke-linecap="butt"/>
<line x1="950.15" y1="600" x2="978.65" y2="600" stroke="#000" stroke-width="2.2" stroke-linecap="butt"/>
<line x1="1014.6" y1="585" x2="1014.6" y2="593" stroke="#000" stroke-width="2.2" stroke-linecap="butt"/>
<line x1="1000.35" y1="585" x2="1028.85" y2="585" stroke="#000" stroke-width="2.2" stroke-linecap="butt"/>
<line x1="1000.35" y1="593" x2="1028.85" y2="593" stroke="#000" stroke-width="2.2" stroke-linecap="butt"/>
<line x1="1064.8" y1="556" x2="1064.8" y2="572" stroke="#000" stroke-width="2.2" stroke-linecap="butt"/>
<line x1="1050.55" y1="556" x2="1079.05" y2="556" stroke="#000" stroke-width="2.2" stroke-linecap="butt"/>
<line x1="1050.55" y1="572" x2="1079.05" y2="572" stroke="#000" stroke-width="2.2" stroke-linecap="butt"/>
<polygon points="763.6,583 751.9,602.5 775.3,602.5" fill="#fff" stroke="#000" stroke-width="2" stroke-linejoin="miter"/>
<polygon points="813.8,571 802.1,590.5 825.5,590.5" fill="#fff" stroke="#000" stroke-width="2" stroke-linejoin="miter"/>
<polygon points="864,573 852.3,592.5 875.7,592.5" fill="#fff" stroke="#000" stroke-width="2" stroke-linejoin="miter"/>
<polygon points="914.2,586 902.5,605.5 925.9,605.5" fill="#fff" stroke="#000" stroke-width="2" stroke-linejoin="miter"/>
<polygon points="964.4,583 952.7,602.5 976.1,602.5" fill="#fff" stroke="#000" stroke-width="2" stroke-linejoin="miter"/>
<polygon points="1014.6,576 1002.9,595.5 1026.3,595.5" fill="#fff" stroke="#000" stroke-width="2" stroke-linejoin="miter"/>
<polygon points="1064.8,551 1053.1,570.5 1076.5,570.5" fill="#fff" stroke="#000" stroke-width="2" stroke-linejoin="miter"/>
<polyline points="763.6,598 813.8,597 864,599 914.2,600 964.4,598 1014.6,590 1064.8,556" fill="none" stroke="#000" stroke-width="2.2" stroke-linejoin="miter" stroke-linecap="butt"/>
<line x1="763.6" y1="594" x2="763.6" y2="602" stroke="#000" stroke-width="2.2" stroke-linecap="butt"/>
<line x1="749.35" y1="594" x2="777.85" y2="594" stroke="#000" stroke-width="2.2" stroke-linecap="butt"/>
<line x1="749.35" y1="602" x2="777.85" y2="602" stroke="#000" stroke-width="2.2" stroke-linecap="butt"/>
<line x1="813.8" y1="593" x2="813.8" y2="601" stroke="#000" stroke-width="2.2" stroke-linecap="butt"/>
<line x1="799.55" y1="593" x2="828.05" y2="593" stroke="#000" stroke-width="2.2" stroke-linecap="butt"/>
<line x1="799.55" y1="601" x2="828.05" y2="601" stroke="#000" stroke-width="2.2" stroke-linecap="butt"/>
<line x1="864" y1="595" x2="864" y2="603" stroke="#000" stroke-width="2.2" stroke-linecap="butt"/>
<line x1="849.75" y1="595" x2="878.25" y2="595" stroke="#000" stroke-width="2.2" stroke-linecap="butt"/>
<line x1="849.75" y1="603" x2="878.25" y2="603" stroke="#000" stroke-width="2.2" stroke-linecap="butt"/>
<line x1="914.2" y1="597" x2="914.2" y2="603" stroke="#000" stroke-width="2.2" stroke-linecap="butt"/>
<line x1="899.95" y1="597" x2="928.45" y2="597" stroke="#000" stroke-width="2.2" stroke-linecap="butt"/>
<line x1="899.95" y1="603" x2="928.45" y2="603" stroke="#000" stroke-width="2.2" stroke-linecap="butt"/>
<line x1="964.4" y1="595" x2="964.4" y2="601" stroke="#000" stroke-width="2.2" stroke-linecap="butt"/>
<line x1="950.15" y1="595" x2="978.65" y2="595" stroke="#000" stroke-width="2.2" stroke-linecap="butt"/>
<line x1="950.15" y1="601" x2="978.65" y2="601" stroke="#000" stroke-width="2.2" stroke-linecap="butt"/>
<line x1="1014.6" y1="587" x2="1014.6" y2="593" stroke="#000" stroke-width="2.2" stroke-linecap="butt"/>
<line x1="1000.35" y1="587" x2="1028.85" y2="587" stroke="#000" stroke-width="2.2" stroke-linecap="butt"/>
<line x1="1000.35" y1="593" x2="1028.85" y2="593" stroke="#000" stroke-width="2.2" stroke-linecap="butt"/>
<line x1="1064.8" y1="546" x2="1064.8" y2="566" stroke="#000" stroke-width="2.2" stroke-linecap="butt"/>
<line x1="1050.55" y1="546" x2="1079.05" y2="546" stroke="#000" stroke-width="2.2" stroke-linecap="butt"/>
<line x1="1050.55" y1="566" x2="1079.05" y2="566" stroke="#000" stroke-width="2.2" stroke-linecap="butt"/>
<rect x="753.95" y="588.72" width="19.3" height="18.56" fill="#000" stroke="#000" stroke-width="2"/>
<rect x="804.15" y="587.72" width="19.3" height="18.56" fill="#000" stroke="#000" stroke-width="2"/>
<rect x="854.35" y="589.72" width="19.3" height="18.56" fill="#000" stroke="#000" stroke-width="2"/>
<rect x="904.55" y="590.72" width="19.3" height="18.56" fill="#000" stroke="#000" stroke-width="2"/>
<rect x="954.75" y="588.72" width="19.3" height="18.56" fill="#000" stroke="#000" stroke-width="2"/>
<rect x="1004.95" y="580.72" width="19.3" height="18.56" fill="#000" stroke="#000" stroke-width="2"/>
<rect x="1055.15" y="546.72" width="19.3" height="18.56" fill="#000" stroke="#000" stroke-width="2"/>
<polyline points="763.6,587.1 813.8,586.3 864,590.4 914.2,590.9 964.4,587.6 1014.6,581.4 1064.8,540.6" fill="none" stroke="#000" stroke-width="2.2" stroke-linejoin="miter" stroke-linecap="butt"/>
<line x1="763.6" y1="582.1" x2="763.6" y2="592.1" stroke="#000" stroke-width="2.2" stroke-linecap="butt"/>
<line x1="749.35" y1="582.1" x2="777.85" y2="582.1" stroke="#000" stroke-width="2.2" stroke-linecap="butt"/>
<line x1="749.35" y1="592.1" x2="777.85" y2="592.1" stroke="#000" stroke-width="2.2" stroke-linecap="butt"/>
<line x1="813.8" y1="569.3" x2="813.8" y2="603.3" stroke="#000" stroke-width="2.2" stroke-linecap="butt"/>
<line x1="799.55" y1="569.3" x2="828.05" y2="569.3" stroke="#000" stroke-width="2.2" stroke-linecap="butt"/>
<line x1="799.55" y1="603.3" x2="828.05" y2="603.3" stroke="#000" stroke-width="2.2" stroke-linecap="butt"/>
<line x1="864" y1="586.4" x2="864" y2="594.4" stroke="#000" stroke-width="2.2" stroke-linecap="butt"/>
<line x1="849.75" y1="586.4" x2="878.25" y2="586.4" stroke="#000" stroke-width="2.2" stroke-linecap="butt"/>
<line x1="849.75" y1="594.4" x2="878.25" y2="594.4" stroke="#000" stroke-width="2.2" stroke-linecap="butt"/>
<line x1="914.2" y1="587.9" x2="914.2" y2="593.9" stroke="#000" stroke-width="2.2" stroke-linecap="butt"/>
<line x1="899.95" y1="587.9" x2="928.45" y2="587.9" stroke="#000" stroke-width="2.2" stroke-linecap="butt"/>
<line x1="899.95" y1="593.9" x2="928.45" y2="593.9" stroke="#000" stroke-width="2.2" stroke-linecap="butt"/>
<line x1="964.4" y1="584.6" x2="964.4" y2="590.6" stroke="#000" stroke-width="2.2" stroke-linecap="butt"/>
<line x1="950.15" y1="584.6" x2="978.65" y2="584.6" stroke="#000" stroke-width="2.2" stroke-linecap="butt"/>
<line x1="950.15" y1="590.6" x2="978.65" y2="590.6" stroke="#000" stroke-width="2.2" stroke-linecap="butt"/>
<line x1="1014.6" y1="578.4" x2="1014.6" y2="584.4" stroke="#000" stroke-width="2.2" stroke-linecap="butt"/>
<line x1="1000.35" y1="578.4" x2="1028.85" y2="578.4" stroke="#000" stroke-width="2.2" stroke-linecap="butt"/>
<line x1="1000.35" y1="584.4" x2="1028.85" y2="584.4" stroke="#000" stroke-width="2.2" stroke-linecap="butt"/>
<line x1="1064.8" y1="528.6" x2="1064.8" y2="552.6" stroke="#000" stroke-width="2.2" stroke-linecap="butt"/>
<line x1="1050.55" y1="528.6" x2="1079.05" y2="528.6" stroke="#000" stroke-width="2.2" stroke-linecap="butt"/>
<line x1="1050.55" y1="552.6" x2="1079.05" y2="552.6" stroke="#000" stroke-width="2.2" stroke-linecap="butt"/>
<rect x="753.95" y="577.82" width="19.3" height="18.56" fill="#fff" stroke="#000" stroke-width="2"/>
<rect x="804.15" y="577.02" width="19.3" height="18.56" fill="#fff" stroke="#000" stroke-width="2"/>
<rect x="854.35" y="581.12" width="19.3" height="18.56" fill="#fff" stroke="#000" stroke-width="2"/>
<rect x="904.55" y="581.62" width="19.3" height="18.56" fill="#fff" stroke="#000" stroke-width="2"/>
<rect x="954.75" y="578.32" width="19.3" height="18.56" fill="#fff" stroke="#000" stroke-width="2"/>
<rect x="1004.95" y="572.12" width="19.3" height="18.56" fill="#fff" stroke="#000" stroke-width="2"/>
<rect x="1055.15" y="531.32" width="19.3" height="18.56" fill="#fff" stroke="#000" stroke-width="2"/>
<line x1="127.2" y1="847.9" x2="127.2" y2="1282.8" stroke="#000" stroke-width="2.2" stroke-linecap="butt"/>
<line x1="113" y1="1268.6" x2="549.2" y2="1268.6" stroke="#000" stroke-width="2.2" stroke-linecap="butt"/>
<line x1="113" y1="1198.48" x2="127.2" y2="1198.48" stroke="#000" stroke-width="2.2" stroke-linecap="butt"/>
<line x1="113" y1="1128.36" x2="127.2" y2="1128.36" stroke="#000" stroke-width="2.2" stroke-linecap="butt"/>
<line x1="113" y1="1058.24" x2="127.2" y2="1058.24" stroke="#000" stroke-width="2.2" stroke-linecap="butt"/>
<line x1="113" y1="988.12" x2="127.2" y2="988.12" stroke="#000" stroke-width="2.2" stroke-linecap="butt"/>
<line x1="113" y1="918" x2="127.2" y2="918" stroke="#000" stroke-width="2.2" stroke-linecap="butt"/>
<line x1="113" y1="847.88" x2="128.3" y2="847.88" stroke="#000" stroke-width="2.2" stroke-linecap="butt"/>
<text transform="translate(95.2,1280.86) scale(0.98,1)" font-size="37.5" text-anchor="end">0</text>
<text transform="translate(95.2,1210.74) scale(0.98,1)" font-size="37.5" text-anchor="end">1</text>
<text transform="translate(95.2,1140.62) scale(0.98,1)" font-size="37.5" text-anchor="end">2</text>
<text transform="translate(95.2,1070.5) scale(0.98,1)" font-size="37.5" text-anchor="end">3</text>
<text transform="translate(95.2,1000.38) scale(0.98,1)" font-size="37.5" text-anchor="end">4</text>
<text transform="translate(95.2,930.26) scale(0.98,1)" font-size="37.5" text-anchor="end">5</text>
<text transform="translate(95.2,860.14) scale(0.98,1)" font-size="37.5" text-anchor="end">6</text>
<text transform="translate(126.7,1334) scale(0.98,1)" font-size="37.5" text-anchor="middle">0.1</text>
<line x1="225.05" y1="1268.6" x2="225.05" y2="1282.8" stroke="#000" stroke-width="2.2" stroke-linecap="butt"/>
<text transform="translate(224.55,1334) scale(0.98,1)" font-size="37.5" text-anchor="middle">1</text>
<line x1="322.9" y1="1268.6" x2="322.9" y2="1282.8" stroke="#000" stroke-width="2.2" stroke-linecap="butt"/>
<text transform="translate(322.4,1334) scale(0.98,1)" font-size="37.5" text-anchor="middle">10</text>
<line x1="420.75" y1="1268.6" x2="420.75" y2="1282.8" stroke="#000" stroke-width="2.2" stroke-linecap="butt"/>
<text transform="translate(420.25,1334) scale(0.98,1)" font-size="37.5" text-anchor="middle">100</text>
<line x1="518.6" y1="1268.6" x2="518.6" y2="1282.8" stroke="#000" stroke-width="2.2" stroke-linecap="butt"/>
<text transform="translate(518.1,1334) scale(0.98,1)" font-size="37.5" text-anchor="middle">1000</text>
<text transform="translate(337.5,808.7) scale(0.95,1)" font-size="42.7" text-anchor="middle" font-weight="bold">GFLX</text>
<text transform="translate(38.5,809.6) scale(1.03,1)" font-size="29" text-anchor="start">(x10<tspan font-size="18.56" dy="-14.79">2</tspan><tspan dy="14.79">)</tspan></text>
<text transform="translate(512.6,1378.2) scale(1.04,1)" font-size="29" text-anchor="start">(µg/mL)</text>
<text transform="translate(35,1059.25) rotate(-90) scale(1.03,1.07)" font-size="36" text-anchor="middle">RLU (Max-Min)</text>
<polyline points="191.98,1252 238.64,1251 285.3,1252 331.96,1250 378.62,1246 425.28,1183 471.94,1089.9 518.6,1031.1" fill="none" stroke="#000" stroke-width="2.2" stroke-linejoin="miter" stroke-linecap="butt"/>
<line x1="191.98" y1="1249" x2="191.98" y2="1255" stroke="#000" stroke-width="2.2" stroke-linecap="butt"/>
<line x1="177.73" y1="1249" x2="206.23" y2="1249" stroke="#000" stroke-width="2.2" stroke-linecap="butt"/>
<line x1="177.73" y1="1255" x2="206.23" y2="1255" stroke="#000" stroke-width="2.2" stroke-linecap="butt"/>
<line x1="238.64" y1="1248" x2="238.64" y2="1254" stroke="#000" stroke-width="2.2" stroke-linecap="butt"/>
<line x1="224.39" y1="1248" x2="252.89" y2="1248" stroke="#000" stroke-width="2.2" stroke-linecap="butt"/>
<line x1="224.39" y1="1254" x2="252.89" y2="1254" stroke="#000" stroke-width="2.2" stroke-linecap="butt"/>
<line x1="285.3" y1="1249" x2="285.3" y2="1255" stroke="#000" stroke-width="2.2" stroke-linecap="butt"/>
<line x1="271.05" y1="1249" x2="299.55" y2="1249" stroke="#000" stroke-width="2.2" stroke-linecap="butt"/>
<line x1="271.05" y1="1255" x2="299.55" y2="1255" stroke="#000" stroke-width="2.2" stroke-linecap="butt"/>
<line x1="331.96" y1="1247" x2="331.96" y2="1253" stroke="#000" stroke-width="2.2" stroke-linecap="butt"/>
<line x1="317.71" y1="1247" x2="346.21" y2="1247" stroke="#000" stroke-width="2.2" stroke-linecap="butt"/>
<line x1="317.71" y1="1253" x2="346.21" y2="1253" stroke="#000" stroke-width="2.2" stroke-linecap="butt"/>
<line x1="378.62" y1="1243" x2="378.62" y2="1249" stroke="#000" stroke-width="2.2" stroke-linecap="butt"/>
<line x1="364.37" y1="1243" x2="392.87" y2="1243" stroke="#000" stroke-width="2.2" stroke-linecap="butt"/>
<line x1="364.37" y1="1249" x2="392.87" y2="1249" stroke="#000" stroke-width="2.2" stroke-linecap="butt"/>
<line x1="425.28" y1="1171.4" x2="425.28" y2="1194.6" stroke="#000" stroke-width="2.2" stroke-linecap="butt"/>
<line x1="411.03" y1="1171.4" x2="439.53" y2="1171.4" stroke="#000" stroke-width="2.2" stroke-linecap="butt"/>
<line x1="411.03" y1="1194.6" x2="439.53" y2="1194.6" stroke="#000" stroke-width="2.2" stroke-linecap="butt"/>
<line x1="471.94" y1="1082.8" x2="471.94" y2="1097" stroke="#000" stroke-width="2.2" stroke-linecap="butt"/>
<line x1="457.69" y1="1082.8" x2="486.19" y2="1082.8" stroke="#000" stroke-width="2.2" stroke-linecap="butt"/>
<line x1="457.69" y1="1097" x2="486.19" y2="1097" stroke="#000" stroke-width="2.2" stroke-linecap="butt"/>
<line x1="518.6" y1="1016.5" x2="518.6" y2="1045.7" stroke="#000" stroke-width="2.2" stroke-linecap="butt"/>
<line x1="504.35" y1="1016.5" x2="532.85" y2="1016.5" stroke="#000" stroke-width="2.2" stroke-linecap="butt"/>
<line x1="504.35" y1="1045.7" x2="532.85" y2="1045.7" stroke="#000" stroke-width="2.2" stroke-linecap="butt"/>
<ellipse cx="191.98" cy="1252" rx="10.4" ry="10.4" fill="#000" stroke="#000" stroke-width="2"/>
<ellipse cx="238.64" cy="1251" rx="10.4" ry="10.4" fill="#000" stroke="#000" stroke-width="2"/>
<ellipse cx="285.3" cy="1252" rx="10.4" ry="10.4" fill="#000" stroke="#000" stroke-width="2"/>
<ellipse cx="331.96" cy="1250" rx="10.4" ry="10.4" fill="#000" stroke="#000" stroke-width="2"/>
<ellipse cx="378.62" cy="1246" rx="10.4" ry="10.4" fill="#000" stroke="#000" stroke-width="2"/>
<ellipse cx="425.28" cy="1183" rx="10.4" ry="10.4" fill="#000" stroke="#000" stroke-width="2"/>
<ellipse cx="471.94" cy="1089.9" rx="10.4" ry="10.4" fill="#000" stroke="#000" stroke-width="2"/>
<ellipse cx="518.6" cy="1031.1" rx="10.4" ry="10.4" fill="#000" stroke="#000" stroke-width="2"/>
<polyline points="191.98,1249 238.64,1248 285.3,1243 331.96,1230.2 378.62,1145.3 425.28,1058.3 471.94,994.4 518.6,949.3" fill="none" stroke="#000" stroke-width="2.2" stroke-linejoin="miter" stroke-linecap="butt"/>
<line x1="191.98" y1="1246" x2="191.98" y2="1252" stroke="#000" stroke-width="2.2" stroke-linecap="butt"/>
<line x1="177.73" y1="1246" x2="206.23" y2="1246" stroke="#000" stroke-width="2.2" stroke-linecap="butt"/>
<line x1="177.73" y1="1252" x2="206.23" y2="1252" stroke="#000" stroke-width="2.2" stroke-linecap="butt"/>
<line x1="238.64" y1="1245" x2="238.64" y2="1251" stroke="#000" stroke-width="2.2" stroke-linecap="butt"/>
<line x1="224.39" y1="1245" x2="252.89" y2="1245" stroke="#000" stroke-width="2.2" stroke-linecap="butt"/>
<line x1="224.39" y1="1251" x2="252.89" y2="1251" stroke="#000" stroke-width="2.2" stroke-linecap="butt"/>
<line x1="285.3" y1="1240" x2="285.3" y2="1246" stroke="#000" stroke-width="2.2" stroke-linecap="butt"/>
<line x1="271.05" y1="1240" x2="299.55" y2="1240" stroke="#000" stroke-width="2.2" stroke-linecap="butt"/>
<line x1="271.05" y1="1246" x2="299.55" y2="1246" stroke="#000" stroke-width="2.2" stroke-linecap="butt"/>
<line x1="331.96" y1="1226.2" x2="331.96" y2="1234.2" stroke="#000" stroke-width="2.2" stroke-linecap="butt"/>
<line x1="317.71" y1="1226.2" x2="346.21" y2="1226.2" stroke="#000" stroke-width="2.2" stroke-linecap="butt"/>
<line x1="317.71" y1="1234.2" x2="346.21" y2="1234.2" stroke="#000" stroke-width="2.2" stroke-linecap="butt"/>
<line x1="378.62" y1="1141.1" x2="378.62" y2="1149.5" stroke="#000" stroke-width="2.2" stroke-linecap="butt"/>
<line x1="364.37" y1="1141.1" x2="392.87" y2="1141.1" stroke="#000" stroke-width="2.2" stroke-linecap="butt"/>
<line x1="364.37" y1="1149.5" x2="392.87" y2="1149.5" stroke="#000" stroke-width="2.2" stroke-linecap="butt"/>
<line x1="425.28" y1="1055.4" x2="425.28" y2="1061.2" stroke="#000" stroke-width="2.2" stroke-linecap="butt"/>
<line x1="411.03" y1="1055.4" x2="439.53" y2="1055.4" stroke="#000" stroke-width="2.2" stroke-linecap="butt"/>
<line x1="411.03" y1="1061.2" x2="439.53" y2="1061.2" stroke="#000" stroke-width="2.2" stroke-linecap="butt"/>
<line x1="471.94" y1="976.4" x2="471.94" y2="1012.4" stroke="#000" stroke-width="2.2" stroke-linecap="butt"/>
<line x1="457.69" y1="976.4" x2="486.19" y2="976.4" stroke="#000" stroke-width="2.2" stroke-linecap="butt"/>
<line x1="457.69" y1="1012.4" x2="486.19" y2="1012.4" stroke="#000" stroke-width="2.2" stroke-linecap="butt"/>
<line x1="518.6" y1="938.9" x2="518.6" y2="959.7" stroke="#000" stroke-width="2.2" stroke-linecap="butt"/>
<line x1="504.35" y1="938.9" x2="532.85" y2="938.9" stroke="#000" stroke-width="2.2" stroke-linecap="butt"/>
<line x1="504.35" y1="959.7" x2="532.85" y2="959.7" stroke="#000" stroke-width="2.2" stroke-linecap="butt"/>
<ellipse cx="191.98" cy="1249" rx="10.4" ry="10.4" fill="#fff" stroke="#000" stroke-width="2"/>
<ellipse cx="238.64" cy="1248" rx="10.4" ry="10.4" fill="#fff" stroke="#000" stroke-width="2"/>
<ellipse cx="285.3" cy="1243" rx="10.4" ry="10.4" fill="#fff" stroke="#000" stroke-width="2"/>
<ellipse cx="331.96" cy="1230.2" rx="10.4" ry="10.4" fill="#fff" stroke="#000" stroke-width="2"/>
<ellipse cx="378.62" cy="1145.3" rx="10.4" ry="10.4" fill="#fff" stroke="#000" stroke-width="2"/>
<ellipse cx="425.28" cy="1058.3" rx="10.4" ry="10.4" fill="#fff" stroke="#000" stroke-width="2"/>
<ellipse cx="471.94" cy="994.4" rx="10.4" ry="10.4" fill="#fff" stroke="#000" stroke-width="2"/>
<ellipse cx="518.6" cy="949.3" rx="10.4" ry="10.4" fill="#fff" stroke="#000" stroke-width="2"/>
<polyline points="191.98,1251.5 238.64,1253.5 285.3,1251.5 331.96,1252 378.62,1253.5 425.28,1252 471.94,1243 518.6,1214" fill="none" stroke="#000" stroke-width="2.2" stroke-linejoin="miter" stroke-linecap="butt"/>
<line x1="191.98" y1="1248.5" x2="191.98" y2="1254.5" stroke="#000" stroke-width="2.2" stroke-linecap="butt"/>
<line x1="177.73" y1="1248.5" x2="206.23" y2="1248.5" stroke="#000" stroke-width="2.2" stroke-linecap="butt"/>
<line x1="177.73" y1="1254.5" x2="206.23" y2="1254.5" stroke="#000" stroke-width="2.2" stroke-linecap="butt"/>
<line x1="238.64" y1="1250.5" x2="238.64" y2="1256.5" stroke="#000" stroke-width="2.2" stroke-linecap="butt"/>
<line x1="224.39" y1="1250.5" x2="252.89" y2="1250.5" stroke="#000" stroke-width="2.2" stroke-linecap="butt"/>
<line x1="224.39" y1="1256.5" x2="252.89" y2="1256.5" stroke="#000" stroke-width="2.2" stroke-linecap="butt"/>
<line x1="285.3" y1="1248.5" x2="285.3" y2="1254.5" stroke="#000" stroke-width="2.2" stroke-linecap="butt"/>
<line x1="271.05" y1="1248.5" x2="299.55" y2="1248.5" stroke="#000" stroke-width="2.2" stroke-linecap="butt"/>
<line x1="271.05" y1="1254.5" x2="299.55" y2="1254.5" stroke="#000" stroke-width="2.2" stroke-linecap="butt"/>
<line x1="331.96" y1="1249" x2="331.96" y2="1255" stroke="#000" stroke-width="2.2" stroke-linecap="butt"/>
<line x1="317.71" y1="1249" x2="346.21" y2="1249" stroke="#000" stroke-width="2.2" stroke-linecap="butt"/>
<line x1="317.71" y1="1255" x2="346.21" y2="1255" stroke="#000" stroke-width="2.2" stroke-linecap="butt"/>
<line x1="378.62" y1="1250.5" x2="378.62" y2="1256.5" stroke="#000" stroke-width="2.2" stroke-linecap="butt"/>
<line x1="364.37" y1="1250.5" x2="392.87" y2="1250.5" stroke="#000" stroke-width="2.2" stroke-linecap="butt"/>
<line x1="364.37" y1="1256.5" x2="392.87" y2="1256.5" stroke="#000" stroke-width="2.2" stroke-linecap="butt"/>
<line x1="425.28" y1="1249" x2="425.28" y2="1255" stroke="#000" stroke-width="2.2" stroke-linecap="butt"/>
<line x1="411.03" y1="1249" x2="439.53" y2="1249" stroke="#000" stroke-width="2.2" stroke-linecap="butt"/>
<line x1="411.03" y1="1255" x2="439.53" y2="1255" stroke="#000" stroke-width="2.2" stroke-linecap="butt"/>
<line x1="471.94" y1="1240" x2="471.94" y2="1246" stroke="#000" stroke-width="2.2" stroke-linecap="butt"/>
<line x1="457.69" y1="1240" x2="486.19" y2="1240" stroke="#000" stroke-width="2.2" stroke-linecap="butt"/>
<line x1="457.69" y1="1246" x2="486.19" y2="1246" stroke="#000" stroke-width="2.2" stroke-linecap="butt"/>
<line x1="518.6" y1="1209" x2="518.6" y2="1219" stroke="#000" stroke-width="2.2" stroke-linecap="butt"/>
<line x1="504.35" y1="1209" x2="532.85" y2="1209" stroke="#000" stroke-width="2.2" stroke-linecap="butt"/>
<line x1="504.35" y1="1219" x2="532.85" y2="1219" stroke="#000" stroke-width="2.2" stroke-linecap="butt"/>
<polygon points="191.98,1264.5 180.73,1245 203.23,1245" fill="#000" stroke="#000" stroke-width="2" stroke-linejoin="miter"/>
<polygon points="238.64,1266.5 227.39,1247 249.89,1247" fill="#000" stroke="#000" stroke-width="2" stroke-linejoin="miter"/>
<polygon points="285.3,1264.5 274.05,1245 296.55,1245" fill="#000" stroke="#000" stroke-width="2" stroke-linejoin="miter"/>
<polygon points="331.96,1265 320.71,1245.5 343.21,1245.5" fill="#000" stroke="#000" stroke-width="2" stroke-linejoin="miter"/>
<polygon points="378.62,1266.5 367.37,1247 389.87,1247" fill="#000" stroke="#000" stroke-width="2" stroke-linejoin="miter"/>
<polygon points="425.28,1265 414.03,1245.5 436.53,1245.5" fill="#000" stroke="#000" stroke-width="2" stroke-linejoin="miter"/>
<polygon points="471.94,1256 460.69,1236.5 483.19,1236.5" fill="#000" stroke="#000" stroke-width="2" stroke-linejoin="miter"/>
<polygon points="518.6,1227 507.35,1207.5 529.85,1207.5" fill="#000" stroke="#000" stroke-width="2" stroke-linejoin="miter"/>
<polyline points="191.98,1251 238.64,1250 285.3,1250 331.96,1253 378.62,1251 425.28,1251 471.94,1240 518.6,1205" fill="none" stroke="#000" stroke-width="2.2" stroke-linejoin="miter" stroke-linecap="butt"/>
<line x1="191.98" y1="1248" x2="191.98" y2="1254" stroke="#000" stroke-width="2.2" stroke-linecap="butt"/>
<line x1="177.73" y1="1248" x2="206.23" y2="1248" stroke="#000" stroke-width="2.2" stroke-linecap="butt"/>
<line x1="177.73" y1="1254" x2="206.23" y2="1254" stroke="#000" stroke-width="2.2" stroke-linecap="butt"/>
<line x1="238.64" y1="1247" x2="238.64" y2="1253" stroke="#000" stroke-width="2.2" stroke-linecap="butt"/>
<line x1="224.39" y1="1247" x2="252.89" y2="1247" stroke="#000" stroke-width="2.2" stroke-linecap="butt"/>
<line x1="224.39" y1="1253" x2="252.89" y2="1253" stroke="#000" stroke-width="2.2" stroke-linecap="butt"/>
<line x1="285.3" y1="1247" x2="285.3" y2="1253" stroke="#000" stroke-width="2.2" stroke-linecap="butt"/>
<line x1="271.05" y1="1247" x2="299.55" y2="1247" stroke="#000" stroke-width="2.2" stroke-linecap="butt"/>
<line x1="271.05" y1="1253" x2="299.55" y2="1253" stroke="#000" stroke-width="2.2" stroke-linecap="butt"/>
<line x1="331.96" y1="1250" x2="331.96" y2="1256" stroke="#000" stroke-width="2.2" stroke-linecap="butt"/>
<line x1="317.71" y1="1250" x2="346.21" y2="1250" stroke="#000" stroke-width="2.2" stroke-linecap="butt"/>
<line x1="317.71" y1="1256" x2="346.21" y2="1256" stroke="#000" stroke-width="2.2" stroke-linecap="butt"/>
<line x1="378.62" y1="1248" x2="378.62" y2="1254" stroke="#000" stroke-width="2.2" stroke-linecap="butt"/>
<line x1="364.37" y1="1248" x2="392.87" y2="1248" stroke="#000" stroke-width="2.2" stroke-linecap="butt"/>
<line x1="364.37" y1="1254" x2="392.87" y2="1254" stroke="#000" stroke-width="2.2" stroke-linecap="butt"/>
<line x1="425.28" y1="1248" x2="425.28" y2="1254" stroke="#000" stroke-width="2.2" stroke-linecap="butt"/>
<line x1="411.03" y1="1248" x2="439.53" y2="1248" stroke="#000" stroke-width="2.2" stroke-linecap="butt"/>
<line x1="411.03" y1="1254" x2="439.53" y2="1254" stroke="#000" stroke-width="2.2" stroke-linecap="butt"/>
<line x1="471.94" y1="1237" x2="471.94" y2="1243" stroke="#000" stroke-width="2.2" stroke-linecap="butt"/>
<line x1="457.69" y1="1237" x2="486.19" y2="1237" stroke="#000" stroke-width="2.2" stroke-linecap="butt"/>
<line x1="457.69" y1="1243" x2="486.19" y2="1243" stroke="#000" stroke-width="2.2" stroke-linecap="butt"/>
<line x1="518.6" y1="1200" x2="518.6" y2="1210" stroke="#000" stroke-width="2.2" stroke-linecap="butt"/>
<line x1="504.35" y1="1200" x2="532.85" y2="1200" stroke="#000" stroke-width="2.2" stroke-linecap="butt"/>
<line x1="504.35" y1="1210" x2="532.85" y2="1210" stroke="#000" stroke-width="2.2" stroke-linecap="butt"/>
<polygon points="191.98,1238 180.73,1257.5 203.23,1257.5" fill="#fff" stroke="#000" stroke-width="2" stroke-linejoin="miter"/>
<polygon points="238.64,1237 227.39,1256.5 249.89,1256.5" fill="#fff" stroke="#000" stroke-width="2" stroke-linejoin="miter"/>
<polygon points="285.3,1237 274.05,1256.5 296.55,1256.5" fill="#fff" stroke="#000" stroke-width="2" stroke-linejoin="miter"/>
<polygon points="331.96,1240 320.71,1259.5 343.21,1259.5" fill="#fff" stroke="#000" stroke-width="2" stroke-linejoin="miter"/>
<polygon points="378.62,1238 367.37,1257.5 389.87,1257.5" fill="#fff" stroke="#000" stroke-width="2" stroke-linejoin="miter"/>
<polygon points="425.28,1238 414.03,1257.5 436.53,1257.5" fill="#fff" stroke="#000" stroke-width="2" stroke-linejoin="miter"/>
<polygon points="471.94,1227 460.69,1246.5 483.19,1246.5" fill="#fff" stroke="#000" stroke-width="2" stroke-linejoin="miter"/>
<polygon points="518.6,1192 507.35,1211.5 529.85,1211.5" fill="#fff" stroke="#000" stroke-width="2" stroke-linejoin="miter"/>
<polyline points="191.98,1255 238.64,1253 285.3,1254 331.96,1258 378.62,1254 425.28,1254 471.94,1245 518.6,1216.5" fill="none" stroke="#000" stroke-width="2.2" stroke-linejoin="miter" stroke-linecap="butt"/>
<line x1="191.98" y1="1252" x2="191.98" y2="1258" stroke="#000" stroke-width="2.2" stroke-linecap="butt"/>
<line x1="177.73" y1="1252" x2="206.23" y2="1252" stroke="#000" stroke-width="2.2" stroke-linecap="butt"/>
<line x1="177.73" y1="1258" x2="206.23" y2="1258" stroke="#000" stroke-width="2.2" stroke-linecap="butt"/>
<line x1="238.64" y1="1250" x2="238.64" y2="1256" stroke="#000" stroke-width="2.2" stroke-linecap="butt"/>
<line x1="224.39" y1="1250" x2="252.89" y2="1250" stroke="#000" stroke-width="2.2" stroke-linecap="butt"/>
<line x1="224.39" y1="1256" x2="252.89" y2="1256" stroke="#000" stroke-width="2.2" stroke-linecap="butt"/>
<line x1="285.3" y1="1251" x2="285.3" y2="1257" stroke="#000" stroke-width="2.2" stroke-linecap="butt"/>
<line x1="271.05" y1="1251" x2="299.55" y2="1251" stroke="#000" stroke-width="2.2" stroke-linecap="butt"/>
<line x1="271.05" y1="1257" x2="299.55" y2="1257" stroke="#000" stroke-width="2.2" stroke-linecap="butt"/>
<line x1="331.96" y1="1255" x2="331.96" y2="1261" stroke="#000" stroke-width="2.2" stroke-linecap="butt"/>
<line x1="317.71" y1="1255" x2="346.21" y2="1255" stroke="#000" stroke-width="2.2" stroke-linecap="butt"/>
<line x1="317.71" y1="1261" x2="346.21" y2="1261" stroke="#000" stroke-width="2.2" stroke-linecap="butt"/>
<line x1="378.62" y1="1251" x2="378.62" y2="1257" stroke="#000" stroke-width="2.2" stroke-linecap="butt"/>
<line x1="364.37" y1="1251" x2="392.87" y2="1251" stroke="#000" stroke-width="2.2" stroke-linecap="butt"/>
<line x1="364.37" y1="1257" x2="392.87" y2="1257" stroke="#000" stroke-width="2.2" stroke-linecap="butt"/>
<line x1="425.28" y1="1251" x2="425.28" y2="1257" stroke="#000" stroke-width="2.2" stroke-linecap="butt"/>
<line x1="411.03" y1="1251" x2="439.53" y2="1251" stroke="#000" stroke-width="2.2" stroke-linecap="butt"/>
<line x1="411.03" y1="1257" x2="439.53" y2="1257" stroke="#000" stroke-width="2.2" stroke-linecap="butt"/>
<line x1="471.94" y1="1242" x2="471.94" y2="1248" stroke="#000" stroke-width="2.2" stroke-linecap="butt"/>
<line x1="457.69" y1="1242" x2="486.19" y2="1242" stroke="#000" stroke-width="2.2" stroke-linecap="butt"/>
<line x1="457.69" y1="1248" x2="486.19" y2="1248" stroke="#000" stroke-width="2.2" stroke-linecap="butt"/>
<line x1="518.6" y1="1211.5" x2="518.6" y2="1221.5" stroke="#000" stroke-width="2.2" stroke-linecap="butt"/>
<line x1="504.35" y1="1211.5" x2="532.85" y2="1211.5" stroke="#000" stroke-width="2.2" stroke-linecap="butt"/>
<line x1="504.35" y1="1221.5" x2="532.85" y2="1221.5" stroke="#000" stroke-width="2.2" stroke-linecap="butt"/>
<rect x="182.33" y="1245.35" width="19.3" height="19.3" fill="#000" stroke="#000" stroke-width="2"/>
<rect x="228.99" y="1243.35" width="19.3" height="19.3" fill="#000" stroke="#000" stroke-width="2"/>
<rect x="275.65" y="1244.35" width="19.3" height="19.3" fill="#000" stroke="#000" stroke-width="2"/>
<rect x="322.31" y="1248.35" width="19.3" height="19.3" fill="#000" stroke="#000" stroke-width="2"/>
<rect x="368.97" y="1244.35" width="19.3" height="19.3" fill="#000" stroke="#000" stroke-width="2"/>
<rect x="415.63" y="1244.35" width="19.3" height="19.3" fill="#000" stroke="#000" stroke-width="2"/>
<rect x="462.29" y="1235.35" width="19.3" height="19.3" fill="#000" stroke="#000" stroke-width="2"/>
<rect x="508.95" y="1206.85" width="19.3" height="19.3" fill="#000" stroke="#000" stroke-width="2"/>
<polyline points="191.98,1241.6 238.64,1244.2 285.3,1242.4 331.96,1248.2 378.62,1242.4 425.28,1242.9 471.94,1236.3 518.6,1210.4" fill="none" stroke="#000" stroke-width="2.2" stroke-linejoin="miter" stroke-linecap="butt"/>
<line x1="191.98" y1="1238.6" x2="191.98" y2="1244.6" stroke="#000" stroke-width="2.2" stroke-linecap="butt"/>
<line x1="177.73" y1="1238.6" x2="206.23" y2="1238.6" stroke="#000" stroke-width="2.2" stroke-linecap="butt"/>
<line x1="177.73" y1="1244.6" x2="206.23" y2="1244.6" stroke="#000" stroke-width="2.2" stroke-linecap="butt"/>
<line x1="238.64" y1="1241.2" x2="238.64" y2="1247.2" stroke="#000" stroke-width="2.2" stroke-linecap="butt"/>
<line x1="224.39" y1="1241.2" x2="252.89" y2="1241.2" stroke="#000" stroke-width="2.2" stroke-linecap="butt"/>
<line x1="224.39" y1="1247.2" x2="252.89" y2="1247.2" stroke="#000" stroke-width="2.2" stroke-linecap="butt"/>
<line x1="285.3" y1="1239.4" x2="285.3" y2="1245.4" stroke="#000" stroke-width="2.2" stroke-linecap="butt"/>
<line x1="271.05" y1="1239.4" x2="299.55" y2="1239.4" stroke="#000" stroke-width="2.2" stroke-linecap="butt"/>
<line x1="271.05" y1="1245.4" x2="299.55" y2="1245.4" stroke="#000" stroke-width="2.2" stroke-linecap="butt"/>
<line x1="331.96" y1="1245.2" x2="331.96" y2="1251.2" stroke="#000" stroke-width="2.2" stroke-linecap="butt"/>
<line x1="317.71" y1="1245.2" x2="346.21" y2="1245.2" stroke="#000" stroke-width="2.2" stroke-linecap="butt"/>
<line x1="317.71" y1="1251.2" x2="346.21" y2="1251.2" stroke="#000" stroke-width="2.2" stroke-linecap="butt"/>
<line x1="378.62" y1="1239.4" x2="378.62" y2="1245.4" stroke="#000" stroke-width="2.2" stroke-linecap="butt"/>
<line x1="364.37" y1="1239.4" x2="392.87" y2="1239.4" stroke="#000" stroke-width="2.2" stroke-linecap="butt"/>
<line x1="364.37" y1="1245.4" x2="392.87" y2="1245.4" stroke="#000" stroke-width="2.2" stroke-linecap="butt"/>
<line x1="425.28" y1="1239.9" x2="425.28" y2="1245.9" stroke="#000" stroke-width="2.2" stroke-linecap="butt"/>
<line x1="411.03" y1="1239.9" x2="439.53" y2="1239.9" stroke="#000" stroke-width="2.2" stroke-linecap="butt"/>
<line x1="411.03" y1="1245.9" x2="439.53" y2="1245.9" stroke="#000" stroke-width="2.2" stroke-linecap="butt"/>
<line x1="471.94" y1="1231.3" x2="471.94" y2="1241.3" stroke="#000" stroke-width="2.2" stroke-linecap="butt"/>
<line x1="457.69" y1="1231.3" x2="486.19" y2="1231.3" stroke="#000" stroke-width="2.2" stroke-linecap="butt"/>
<line x1="457.69" y1="1241.3" x2="486.19" y2="1241.3" stroke="#000" stroke-width="2.2" stroke-linecap="butt"/>
<line x1="518.6" y1="1202.4" x2="518.6" y2="1218.4" stroke="#000" stroke-width="2.2" stroke-linecap="butt"/>
<line x1="504.35" y1="1202.4" x2="532.85" y2="1202.4" stroke="#000" stroke-width="2.2" stroke-linecap="butt"/>
<line x1="504.35" y1="1218.4" x2="532.85" y2="1218.4" stroke="#000" stroke-width="2.2" stroke-linecap="butt"/>
<rect x="182.33" y="1231.95" width="19.3" height="19.3" fill="#fff" stroke="#000" stroke-width="2"/>
<rect x="228.99" y="1234.55" width="19.3" height="19.3" fill="#fff" stroke="#000" stroke-width="2"/>
<rect x="275.65" y="1232.75" width="19.3" height="19.3" fill="#fff" stroke="#000" stroke-width="2"/>
<rect x="322.31" y="1238.55" width="19.3" height="19.3" fill="#fff" stroke="#000" stroke-width="2"/>
<rect x="368.97" y="1232.75" width="19.3" height="19.3" fill="#fff" stroke="#000" stroke-width="2"/>
<rect x="415.63" y="1233.25" width="19.3" height="19.3" fill="#fff" stroke="#000" stroke-width="2"/>
<rect x="462.29" y="1226.65" width="19.3" height="19.3" fill="#fff" stroke="#000" stroke-width="2"/>
<rect x="508.95" y="1200.75" width="19.3" height="19.3" fill="#fff" stroke="#000" stroke-width="2"/>
<line x1="688.5" y1="847.9" x2="688.5" y2="1282.8" stroke="#000" stroke-width="2.2" stroke-linecap="butt"/>
<line x1="674.3" y1="1268.6" x2="1110.4" y2="1268.6" stroke="#000" stroke-width="2.2" stroke-linecap="butt"/>
<line x1="674.3" y1="1198.48" x2="688.5" y2="1198.48" stroke="#000" stroke-width="2.2" stroke-linecap="butt"/>
<line x1="674.3" y1="1128.36" x2="688.5" y2="1128.36" stroke="#000" stroke-width="2.2" stroke-linecap="butt"/>
<line x1="674.3" y1="1058.24" x2="688.5" y2="1058.24" stroke="#000" stroke-width="2.2" stroke-linecap="butt"/>
<line x1="674.3" y1="988.12" x2="688.5" y2="988.12" stroke="#000" stroke-width="2.2" stroke-linecap="butt"/>
<line x1="674.3" y1="918" x2="688.5" y2="918" stroke="#000" stroke-width="2.2" stroke-linecap="butt"/>
<line x1="674.3" y1="847.88" x2="689.6" y2="847.88" stroke="#000" stroke-width="2.2" stroke-linecap="butt"/>
<text transform="translate(656.5,1280.86) scale(0.98,1)" font-size="37.5" text-anchor="end">0</text>
<text transform="translate(656.5,1210.74) scale(0.98,1)" font-size="37.5" text-anchor="end">1</text>
<text transform="translate(656.5,1140.62) scale(0.98,1)" font-size="37.5" text-anchor="end">2</text>
<text transform="translate(656.5,1070.5) scale(0.98,1)" font-size="37.5" text-anchor="end">3</text>
<text transform="translate(656.5,1000.38) scale(0.98,1)" font-size="37.5" text-anchor="end">4</text>
<text transform="translate(656.5,930.26) scale(0.98,1)" font-size="37.5" text-anchor="end">5</text>
<text transform="translate(656.5,860.14) scale(0.98,1)" font-size="37.5" text-anchor="end">6</text>
<text transform="translate(688,1334) scale(0.98,1)" font-size="37.5" text-anchor="middle">0.1</text>
<line x1="786.28" y1="1268.6" x2="786.28" y2="1282.8" stroke="#000" stroke-width="2.2" stroke-linecap="butt"/>
<text transform="translate(785.78,1334) scale(0.98,1)" font-size="37.5" text-anchor="middle">1</text>
<line x1="884.06" y1="1268.6" x2="884.06" y2="1282.8" stroke="#000" stroke-width="2.2" stroke-linecap="butt"/>
<text transform="translate(883.56,1334) scale(0.98,1)" font-size="37.5" text-anchor="middle">10</text>
<line x1="981.84" y1="1268.6" x2="981.84" y2="1282.8" stroke="#000" stroke-width="2.2" stroke-linecap="butt"/>
<text transform="translate(981.34,1334) scale(0.98,1)" font-size="37.5" text-anchor="middle">100</text>
<line x1="1079.62" y1="1268.6" x2="1079.62" y2="1282.8" stroke="#000" stroke-width="2.2" stroke-linecap="butt"/>
<text transform="translate(1079.12,1334) scale(0.98,1)" font-size="37.5" text-anchor="middle">1000</text>
<text transform="translate(899.5,808.7) scale(0.95,1)" font-size="42.7" text-anchor="middle" font-weight="bold">LVFX</text>
<text transform="translate(561,809.6) scale(1.03,1)" font-size="29" text-anchor="start">(x10<tspan font-size="18.56" dy="-14.79">2</tspan><tspan dy="14.79">)</tspan></text>
<text transform="translate(1070,1386.5) scale(1.04,1)" font-size="29" text-anchor="start">(µg/mL)</text>
<text transform="translate(596.5,1059.25) rotate(-90) scale(1.03,1.07)" font-size="36" text-anchor="middle">RLU (Max-Min)</text>
<polyline points="753.89,1253 800.42,1252 846.95,1251 893.48,1250 940.01,1253 986.54,1236.3 1033.07,1159 1079.6,1099.1" fill="none" stroke="#000" stroke-width="2.2" stroke-linejoin="miter" stroke-linecap="butt"/>
<line x1="753.89" y1="1250" x2="753.89" y2="1256" stroke="#000" stroke-width="2.2" stroke-linecap="butt"/>
<line x1="739.64" y1="1250" x2="768.14" y2="1250" stroke="#000" stroke-width="2.2" stroke-linecap="butt"/>
<line x1="739.64" y1="1256" x2="768.14" y2="1256" stroke="#000" stroke-width="2.2" stroke-linecap="butt"/>
<line x1="800.42" y1="1249" x2="800.42" y2="1255" stroke="#000" stroke-width="2.2" stroke-linecap="butt"/>
<line x1="786.17" y1="1249" x2="814.67" y2="1249" stroke="#000" stroke-width="2.2" stroke-linecap="butt"/>
<line x1="786.17" y1="1255" x2="814.67" y2="1255" stroke="#000" stroke-width="2.2" stroke-linecap="butt"/>
<line x1="846.95" y1="1248" x2="846.95" y2="1254" stroke="#000" stroke-width="2.2" stroke-linecap="butt"/>
<line x1="832.7" y1="1248" x2="861.2" y2="1248" stroke="#000" stroke-width="2.2" stroke-linecap="butt"/>
<line x1="832.7" y1="1254" x2="861.2" y2="1254" stroke="#000" stroke-width="2.2" stroke-linecap="butt"/>
<line x1="893.48" y1="1247" x2="893.48" y2="1253" stroke="#000" stroke-width="2.2" stroke-linecap="butt"/>
<line x1="879.23" y1="1247" x2="907.73" y2="1247" stroke="#000" stroke-width="2.2" stroke-linecap="butt"/>
<line x1="879.23" y1="1253" x2="907.73" y2="1253" stroke="#000" stroke-width="2.2" stroke-linecap="butt"/>
<line x1="940.01" y1="1250" x2="940.01" y2="1256" stroke="#000" stroke-width="2.2" stroke-linecap="butt"/>
<line x1="925.76" y1="1250" x2="954.26" y2="1250" stroke="#000" stroke-width="2.2" stroke-linecap="butt"/>
<line x1="925.76" y1="1256" x2="954.26" y2="1256" stroke="#000" stroke-width="2.2" stroke-linecap="butt"/>
<line x1="986.54" y1="1231" x2="986.54" y2="1241.6" stroke="#000" stroke-width="2.2" stroke-linecap="butt"/>
<line x1="972.29" y1="1231" x2="1000.79" y2="1231" stroke="#000" stroke-width="2.2" stroke-linecap="butt"/>
<line x1="972.29" y1="1241.6" x2="1000.79" y2="1241.6" stroke="#000" stroke-width="2.2" stroke-linecap="butt"/>
<line x1="1033.07" y1="1152.3" x2="1033.07" y2="1165.7" stroke="#000" stroke-width="2.2" stroke-linecap="butt"/>
<line x1="1018.82" y1="1152.3" x2="1047.32" y2="1152.3" stroke="#000" stroke-width="2.2" stroke-linecap="butt"/>
<line x1="1018.82" y1="1165.7" x2="1047.32" y2="1165.7" stroke="#000" stroke-width="2.2" stroke-linecap="butt"/>
<line x1="1079.6" y1="1089.9" x2="1079.6" y2="1108.3" stroke="#000" stroke-width="2.2" stroke-linecap="butt"/>
<line x1="1065.35" y1="1089.9" x2="1093.85" y2="1089.9" stroke="#000" stroke-width="2.2" stroke-linecap="butt"/>
<line x1="1065.35" y1="1108.3" x2="1093.85" y2="1108.3" stroke="#000" stroke-width="2.2" stroke-linecap="butt"/>
<ellipse cx="753.89" cy="1253" rx="10.4" ry="10.4" fill="#000" stroke="#000" stroke-width="2"/>
<ellipse cx="800.42" cy="1252" rx="10.4" ry="10.4" fill="#000" stroke="#000" stroke-width="2"/>
<ellipse cx="846.95" cy="1251" rx="10.4" ry="10.4" fill="#000" stroke="#000" stroke-width="2"/>
<ellipse cx="893.48" cy="1250" rx="10.4" ry="10.4" fill="#000" stroke="#000" stroke-width="2"/>
<ellipse cx="940.01" cy="1253" rx="10.4" ry="10.4" fill="#000" stroke="#000" stroke-width="2"/>
<ellipse cx="986.54" cy="1236.3" rx="10.4" ry="10.4" fill="#000" stroke="#000" stroke-width="2"/>
<ellipse cx="1033.07" cy="1159" rx="10.4" ry="10.4" fill="#000" stroke="#000" stroke-width="2"/>
<ellipse cx="1079.6" cy="1099.1" rx="10.4" ry="10.4" fill="#000" stroke="#000" stroke-width="2"/>
<polyline points="753.89,1249 800.42,1241.6 846.95,1237.1 893.48,1163.8 940.01,1093.9 986.54,1061.4 1033.07,1037.2 1079.6,968" fill="none" stroke="#000" stroke-width="2.2" stroke-linejoin="miter" stroke-linecap="butt"/>
<line x1="753.89" y1="1246" x2="753.89" y2="1252" stroke="#000" stroke-width="2.2" stroke-linecap="butt"/>
<line x1="739.64" y1="1246" x2="768.14" y2="1246" stroke="#000" stroke-width="2.2" stroke-linecap="butt"/>
<line x1="739.64" y1="1252" x2="768.14" y2="1252" stroke="#000" stroke-width="2.2" stroke-linecap="butt"/>
<line x1="800.42" y1="1232.9" x2="800.42" y2="1250.3" stroke="#000" stroke-width="2.2" stroke-linecap="butt"/>
<line x1="786.17" y1="1232.9" x2="814.67" y2="1232.9" stroke="#000" stroke-width="2.2" stroke-linecap="butt"/>
<line x1="786.17" y1="1250.3" x2="814.67" y2="1250.3" stroke="#000" stroke-width="2.2" stroke-linecap="butt"/>
<line x1="846.95" y1="1233.1" x2="846.95" y2="1241.1" stroke="#000" stroke-width="2.2" stroke-linecap="butt"/>
<line x1="832.7" y1="1233.1" x2="861.2" y2="1233.1" stroke="#000" stroke-width="2.2" stroke-linecap="butt"/>
<line x1="832.7" y1="1241.1" x2="861.2" y2="1241.1" stroke="#000" stroke-width="2.2" stroke-linecap="butt"/>
<line x1="893.48" y1="1160.8" x2="893.48" y2="1166.8" stroke="#000" stroke-width="2.2" stroke-linecap="butt"/>
<line x1="879.23" y1="1160.8" x2="907.73" y2="1160.8" stroke="#000" stroke-width="2.2" stroke-linecap="butt"/>
<line x1="879.23" y1="1166.8" x2="907.73" y2="1166.8" stroke="#000" stroke-width="2.2" stroke-linecap="butt"/>
<line x1="940.01" y1="1078.8" x2="940.01" y2="1109" stroke="#000" stroke-width="2.2" stroke-linecap="butt"/>
<line x1="925.76" y1="1078.8" x2="954.26" y2="1078.8" stroke="#000" stroke-width="2.2" stroke-linecap="butt"/>
<line x1="925.76" y1="1109" x2="954.26" y2="1109" stroke="#000" stroke-width="2.2" stroke-linecap="butt"/>
<line x1="986.54" y1="1052.9" x2="986.54" y2="1069.9" stroke="#000" stroke-width="2.2" stroke-linecap="butt"/>
<line x1="972.29" y1="1052.9" x2="1000.79" y2="1052.9" stroke="#000" stroke-width="2.2" stroke-linecap="butt"/>
<line x1="972.29" y1="1069.9" x2="1000.79" y2="1069.9" stroke="#000" stroke-width="2.2" stroke-linecap="butt"/>
<line x1="1033.07" y1="1031.3" x2="1033.07" y2="1043.1" stroke="#000" stroke-width="2.2" stroke-linecap="butt"/>
<line x1="1018.82" y1="1031.3" x2="1047.32" y2="1031.3" stroke="#000" stroke-width="2.2" stroke-linecap="butt"/>
<line x1="1018.82" y1="1043.1" x2="1047.32" y2="1043.1" stroke="#000" stroke-width="2.2" stroke-linecap="butt"/>
<line x1="1079.6" y1="963.2" x2="1079.6" y2="972.8" stroke="#000" stroke-width="2.2" stroke-linecap="butt"/>
<line x1="1065.35" y1="963.2" x2="1093.85" y2="963.2" stroke="#000" stroke-width="2.2" stroke-linecap="butt"/>
<line x1="1065.35" y1="972.8" x2="1093.85" y2="972.8" stroke="#000" stroke-width="2.2" stroke-linecap="butt"/>
<ellipse cx="753.89" cy="1249" rx="10.4" ry="10.4" fill="#fff" stroke="#000" stroke-width="2"/>
<ellipse cx="800.42" cy="1241.6" rx="10.4" ry="10.4" fill="#fff" stroke="#000" stroke-width="2"/>
<ellipse cx="846.95" cy="1237.1" rx="10.4" ry="10.4" fill="#fff" stroke="#000" stroke-width="2"/>
<ellipse cx="893.48" cy="1163.8" rx="10.4" ry="10.4" fill="#fff" stroke="#000" stroke-width="2"/>
<ellipse cx="940.01" cy="1093.9" rx="10.4" ry="10.4" fill="#fff" stroke="#000" stroke-width="2"/>
<ellipse cx="986.54" cy="1061.4" rx="10.4" ry="10.4" fill="#fff" stroke="#000" stroke-width="2"/>
<ellipse cx="1033.07" cy="1037.2" rx="10.4" ry="10.4" fill="#fff" stroke="#000" stroke-width="2"/>
<ellipse cx="1079.6" cy="968" rx="10.4" ry="10.4" fill="#fff" stroke="#000" stroke-width="2"/>
<polyline points="753.89,1252 800.42,1253 846.95,1253 893.48,1252 940.01,1254 986.54,1254 1033.07,1247.5 1079.6,1209" fill="none" stroke="#000" stroke-width="2.2" stroke-linejoin="miter" stroke-linecap="butt"/>
<line x1="753.89" y1="1249" x2="753.89" y2="1255" stroke="#000" stroke-width="2.2" stroke-linecap="butt"/>
<line x1="739.64" y1="1249" x2="768.14" y2="1249" stroke="#000" stroke-width="2.2" stroke-linecap="butt"/>
<line x1="739.64" y1="1255" x2="768.14" y2="1255" stroke="#000" stroke-width="2.2" stroke-linecap="butt"/>
<line x1="800.42" y1="1250" x2="800.42" y2="1256" stroke="#000" stroke-width="2.2" stroke-linecap="butt"/>
<line x1="786.17" y1="1250" x2="814.67" y2="1250" stroke="#000" stroke-width="2.2" stroke-linecap="butt"/>
<line x1="786.17" y1="1256" x2="814.67" y2="1256" stroke="#000" stroke-width="2.2" stroke-linecap="butt"/>
<line x1="846.95" y1="1250" x2="846.95" y2="1256" stroke="#000" stroke-width="2.2" stroke-linecap="butt"/>
<line x1="832.7" y1="1250" x2="861.2" y2="1250" stroke="#000" stroke-width="2.2" stroke-linecap="butt"/>
<line x1="832.7" y1="1256" x2="861.2" y2="1256" stroke="#000" stroke-width="2.2" stroke-linecap="butt"/>
<line x1="893.48" y1="1249" x2="893.48" y2="1255" stroke="#000" stroke-width="2.2" stroke-linecap="butt"/>
<line x1="879.23" y1="1249" x2="907.73" y2="1249" stroke="#000" stroke-width="2.2" stroke-linecap="butt"/>
<line x1="879.23" y1="1255" x2="907.73" y2="1255" stroke="#000" stroke-width="2.2" stroke-linecap="butt"/>
<line x1="940.01" y1="1251" x2="940.01" y2="1257" stroke="#000" stroke-width="2.2" stroke-linecap="butt"/>
<line x1="925.76" y1="1251" x2="954.26" y2="1251" stroke="#000" stroke-width="2.2" stroke-linecap="butt"/>
<line x1="925.76" y1="1257" x2="954.26" y2="1257" stroke="#000" stroke-width="2.2" stroke-linecap="butt"/>
<line x1="986.54" y1="1251" x2="986.54" y2="1257" stroke="#000" stroke-width="2.2" stroke-linecap="butt"/>
<line x1="972.29" y1="1251" x2="1000.79" y2="1251" stroke="#000" stroke-width="2.2" stroke-linecap="butt"/>
<line x1="972.29" y1="1257" x2="1000.79" y2="1257" stroke="#000" stroke-width="2.2" stroke-linecap="butt"/>
<line x1="1033.07" y1="1244.5" x2="1033.07" y2="1250.5" stroke="#000" stroke-width="2.2" stroke-linecap="butt"/>
<line x1="1018.82" y1="1244.5" x2="1047.32" y2="1244.5" stroke="#000" stroke-width="2.2" stroke-linecap="butt"/>
<line x1="1018.82" y1="1250.5" x2="1047.32" y2="1250.5" stroke="#000" stroke-width="2.2" stroke-linecap="butt"/>
<line x1="1079.6" y1="1205" x2="1079.6" y2="1213" stroke="#000" stroke-width="2.2" stroke-linecap="butt"/>
<line x1="1065.35" y1="1205" x2="1093.85" y2="1205" stroke="#000" stroke-width="2.2" stroke-linecap="butt"/>
<line x1="1065.35" y1="1213" x2="1093.85" y2="1213" stroke="#000" stroke-width="2.2" stroke-linecap="butt"/>
<polygon points="753.89,1265 742.64,1245.5 765.14,1245.5" fill="#000" stroke="#000" stroke-width="2" stroke-linejoin="miter"/>
<polygon points="800.42,1266 789.17,1246.5 811.67,1246.5" fill="#000" stroke="#000" stroke-width="2" stroke-linejoin="miter"/>
<polygon points="846.95,1266 835.7,1246.5 858.2,1246.5" fill="#000" stroke="#000" stroke-width="2" stroke-linejoin="miter"/>
<polygon points="893.48,1265 882.23,1245.5 904.73,1245.5" fill="#000" stroke="#000" stroke-width="2" stroke-linejoin="miter"/>
<polygon points="940.01,1267 928.76,1247.5 951.26,1247.5" fill="#000" stroke="#000" stroke-width="2" stroke-linejoin="miter"/>
<polygon points="986.54,1267 975.29,1247.5 997.79,1247.5" fill="#000" stroke="#000" stroke-width="2" stroke-linejoin="miter"/>
<polygon points="1033.07,1260.5 1021.82,1241 1044.32,1241" fill="#000" stroke="#000" stroke-width="2" stroke-linejoin="miter"/>
<polygon points="1079.6,1222 1068.35,1202.5 1090.85,1202.5" fill="#000" stroke="#000" stroke-width="2" stroke-linejoin="miter"/>
<polyline points="753.89,1252 800.42,1251 846.95,1251 893.48,1257 940.01,1254 986.54,1253 1033.07,1244 1079.6,1194.5" fill="none" stroke="#000" stroke-width="2.2" stroke-linejoin="miter" stroke-linecap="butt"/>
<line x1="753.89" y1="1249" x2="753.89" y2="1255" stroke="#000" stroke-width="2.2" stroke-linecap="butt"/>
<line x1="739.64" y1="1249" x2="768.14" y2="1249" stroke="#000" stroke-width="2.2" stroke-linecap="butt"/>
<line x1="739.64" y1="1255" x2="768.14" y2="1255" stroke="#000" stroke-width="2.2" stroke-linecap="butt"/>
<line x1="800.42" y1="1248" x2="800.42" y2="1254" stroke="#000" stroke-width="2.2" stroke-linecap="butt"/>
<line x1="786.17" y1="1248" x2="814.67" y2="1248" stroke="#000" stroke-width="2.2" stroke-linecap="butt"/>
<line x1="786.17" y1="1254" x2="814.67" y2="1254" stroke="#000" stroke-width="2.2" stroke-linecap="butt"/>
<line x1="846.95" y1="1248" x2="846.95" y2="1254" stroke="#000" stroke-width="2.2" stroke-linecap="butt"/>
<line x1="832.7" y1="1248" x2="861.2" y2="1248" stroke="#000" stroke-width="2.2" stroke-linecap="butt"/>
<line x1="832.7" y1="1254" x2="861.2" y2="1254" stroke="#000" stroke-width="2.2" stroke-linecap="butt"/>
<line x1="893.48" y1="1254" x2="893.48" y2="1260" stroke="#000" stroke-width="2.2" stroke-linecap="butt"/>
<line x1="879.23" y1="1254" x2="907.73" y2="1254" stroke="#000" stroke-width="2.2" stroke-linecap="butt"/>
<line x1="879.23" y1="1260" x2="907.73" y2="1260" stroke="#000" stroke-width="2.2" stroke-linecap="butt"/>
<line x1="940.01" y1="1251" x2="940.01" y2="1257" stroke="#000" stroke-width="2.2" stroke-linecap="butt"/>
<line x1="925.76" y1="1251" x2="954.26" y2="1251" stroke="#000" stroke-width="2.2" stroke-linecap="butt"/>
<line x1="925.76" y1="1257" x2="954.26" y2="1257" stroke="#000" stroke-width="2.2" stroke-linecap="butt"/>
<line x1="986.54" y1="1250" x2="986.54" y2="1256" stroke="#000" stroke-width="2.2" stroke-linecap="butt"/>
<line x1="972.29" y1="1250" x2="1000.79" y2="1250" stroke="#000" stroke-width="2.2" stroke-linecap="butt"/>
<line x1="972.29" y1="1256" x2="1000.79" y2="1256" stroke="#000" stroke-width="2.2" stroke-linecap="butt"/>
<line x1="1033.07" y1="1241" x2="1033.07" y2="1247" stroke="#000" stroke-width="2.2" stroke-linecap="butt"/>
<line x1="1018.82" y1="1241" x2="1047.32" y2="1241" stroke="#000" stroke-width="2.2" stroke-linecap="butt"/>
<line x1="1018.82" y1="1247" x2="1047.32" y2="1247" stroke="#000" stroke-width="2.2" stroke-linecap="butt"/>
<line x1="1079.6" y1="1190.5" x2="1079.6" y2="1198.5" stroke="#000" stroke-width="2.2" stroke-linecap="butt"/>
<line x1="1065.35" y1="1190.5" x2="1093.85" y2="1190.5" stroke="#000" stroke-width="2.2" stroke-linecap="butt"/>
<line x1="1065.35" y1="1198.5" x2="1093.85" y2="1198.5" stroke="#000" stroke-width="2.2" stroke-linecap="butt"/>
<polygon points="753.89,1239 742.64,1258.5 765.14,1258.5" fill="#fff" stroke="#000" stroke-width="2" stroke-linejoin="miter"/>
<polygon points="800.42,1238 789.17,1257.5 811.67,1257.5" fill="#fff" stroke="#000" stroke-width="2" stroke-linejoin="miter"/>
<polygon points="846.95,1238 835.7,1257.5 858.2,1257.5" fill="#fff" stroke="#000" stroke-width="2" stroke-linejoin="miter"/>
<polygon points="893.48,1244 882.23,1263.5 904.73,1263.5" fill="#fff" stroke="#000" stroke-width="2" stroke-linejoin="miter"/>
<polygon points="940.01,1241 928.76,1260.5 951.26,1260.5" fill="#fff" stroke="#000" stroke-width="2" stroke-linejoin="miter"/>
<polygon points="986.54,1240 975.29,1259.5 997.79,1259.5" fill="#fff" stroke="#000" stroke-width="2" stroke-linejoin="miter"/>
<polygon points="1033.07,1231 1021.82,1250.5 1044.32,1250.5" fill="#fff" stroke="#000" stroke-width="2" stroke-linejoin="miter"/>
<polygon points="1079.6,1181.5 1068.35,1201 1090.85,1201" fill="#fff" stroke="#000" stroke-width="2" stroke-linejoin="miter"/>
<polyline points="753.89,1254 800.42,1253 846.95,1254 893.48,1242 940.01,1257 986.54,1257 1033.07,1247 1079.6,1206" fill="none" stroke="#000" stroke-width="2.2" stroke-linejoin="miter" stroke-linecap="butt"/>
<line x1="753.89" y1="1251" x2="753.89" y2="1257" stroke="#000" stroke-width="2.2" stroke-linecap="butt"/>
<line x1="739.64" y1="1251" x2="768.14" y2="1251" stroke="#000" stroke-width="2.2" stroke-linecap="butt"/>
<line x1="739.64" y1="1257" x2="768.14" y2="1257" stroke="#000" stroke-width="2.2" stroke-linecap="butt"/>
<line x1="800.42" y1="1250" x2="800.42" y2="1256" stroke="#000" stroke-width="2.2" stroke-linecap="butt"/>
<line x1="786.17" y1="1250" x2="814.67" y2="1250" stroke="#000" stroke-width="2.2" stroke-linecap="butt"/>
<line x1="786.17" y1="1256" x2="814.67" y2="1256" stroke="#000" stroke-width="2.2" stroke-linecap="butt"/>
<line x1="846.95" y1="1251" x2="846.95" y2="1257" stroke="#000" stroke-width="2.2" stroke-linecap="butt"/>
<line x1="832.7" y1="1251" x2="861.2" y2="1251" stroke="#000" stroke-width="2.2" stroke-linecap="butt"/>
<line x1="832.7" y1="1257" x2="861.2" y2="1257" stroke="#000" stroke-width="2.2" stroke-linecap="butt"/>
<line x1="893.48" y1="1232" x2="893.48" y2="1246" stroke="#000" stroke-width="2.2" stroke-linecap="butt"/>
<line x1="879.23" y1="1232" x2="907.73" y2="1232" stroke="#000" stroke-width="2.2" stroke-linecap="butt"/>
<line x1="879.23" y1="1246" x2="907.73" y2="1246" stroke="#000" stroke-width="2.2" stroke-linecap="butt"/>
<line x1="940.01" y1="1254" x2="940.01" y2="1260" stroke="#000" stroke-width="2.2" stroke-linecap="butt"/>
<line x1="925.76" y1="1254" x2="954.26" y2="1254" stroke="#000" stroke-width="2.2" stroke-linecap="butt"/>
<line x1="925.76" y1="1260" x2="954.26" y2="1260" stroke="#000" stroke-width="2.2" stroke-linecap="butt"/>
<line x1="986.54" y1="1254" x2="986.54" y2="1260" stroke="#000" stroke-width="2.2" stroke-linecap="butt"/>
<line x1="972.29" y1="1254" x2="1000.79" y2="1254" stroke="#000" stroke-width="2.2" stroke-linecap="butt"/>
<line x1="972.29" y1="1260" x2="1000.79" y2="1260" stroke="#000" stroke-width="2.2" stroke-linecap="butt"/>
<line x1="1033.07" y1="1244" x2="1033.07" y2="1250" stroke="#000" stroke-width="2.2" stroke-linecap="butt"/>
<line x1="1018.82" y1="1244" x2="1047.32" y2="1244" stroke="#000" stroke-width="2.2" stroke-linecap="butt"/>
<line x1="1018.82" y1="1250" x2="1047.32" y2="1250" stroke="#000" stroke-width="2.2" stroke-linecap="butt"/>
<line x1="1079.6" y1="1201" x2="1079.6" y2="1211" stroke="#000" stroke-width="2.2" stroke-linecap="butt"/>
<line x1="1065.35" y1="1201" x2="1093.85" y2="1201" stroke="#000" stroke-width="2.2" stroke-linecap="butt"/>
<line x1="1065.35" y1="1211" x2="1093.85" y2="1211" stroke="#000" stroke-width="2.2" stroke-linecap="butt"/>
<rect x="744.24" y="1244.35" width="19.3" height="19.3" fill="#000" stroke="#000" stroke-width="2"/>
<rect x="790.77" y="1243.35" width="19.3" height="19.3" fill="#000" stroke="#000" stroke-width="2"/>
<rect x="837.3" y="1244.35" width="19.3" height="19.3" fill="#000" stroke="#000" stroke-width="2"/>
<rect x="883.83" y="1232.35" width="19.3" height="19.3" fill="#000" stroke="#000" stroke-width="2"/>
<rect x="930.36" y="1247.35" width="19.3" height="19.3" fill="#000" stroke="#000" stroke-width="2"/>
<rect x="976.89" y="1247.35" width="19.3" height="19.3" fill="#000" stroke="#000" stroke-width="2"/>
<rect x="1023.42" y="1237.35" width="19.3" height="19.3" fill="#000" stroke="#000" stroke-width="2"/>
<rect x="1069.95" y="1196.35" width="19.3" height="19.3" fill="#000" stroke="#000" stroke-width="2"/>
<polyline points="753.89,1248.2 800.42,1248.2 846.95,1249.5 893.48,1249.5 940.01,1250.3 986.54,1250.3 1033.07,1242.9 1079.6,1207.3" fill="none" stroke="#000" stroke-width="2.2" stroke-linejoin="miter" stroke-linecap="butt"/>
<line x1="753.89" y1="1245.2" x2="753.89" y2="1251.2" stroke="#000" stroke-width="2.2" stroke-linecap="butt"/>
<line x1="739.64" y1="1245.2" x2="768.14" y2="1245.2" stroke="#000" stroke-width="2.2" stroke-linecap="butt"/>
<line x1="739.64" y1="1251.2" x2="768.14" y2="1251.2" stroke="#000" stroke-width="2.2" stroke-linecap="butt"/>
<line x1="800.42" y1="1245.2" x2="800.42" y2="1251.2" stroke="#000" stroke-width="2.2" stroke-linecap="butt"/>
<line x1="786.17" y1="1245.2" x2="814.67" y2="1245.2" stroke="#000" stroke-width="2.2" stroke-linecap="butt"/>
<line x1="786.17" y1="1251.2" x2="814.67" y2="1251.2" stroke="#000" stroke-width="2.2" stroke-linecap="butt"/>
<line x1="846.95" y1="1246.5" x2="846.95" y2="1252.5" stroke="#000" stroke-width="2.2" stroke-linecap="butt"/>
<line x1="832.7" y1="1246.5" x2="861.2" y2="1246.5" stroke="#000" stroke-width="2.2" stroke-linecap="butt"/>
<line x1="832.7" y1="1252.5" x2="861.2" y2="1252.5" stroke="#000" stroke-width="2.2" stroke-linecap="butt"/>
<line x1="893.48" y1="1246.5" x2="893.48" y2="1252.5" stroke="#000" stroke-width="2.2" stroke-linecap="butt"/>
<line x1="879.23" y1="1246.5" x2="907.73" y2="1246.5" stroke="#000" stroke-width="2.2" stroke-linecap="butt"/>
<line x1="879.23" y1="1252.5" x2="907.73" y2="1252.5" stroke="#000" stroke-width="2.2" stroke-linecap="butt"/>
<line x1="940.01" y1="1247.3" x2="940.01" y2="1253.3" stroke="#000" stroke-width="2.2" stroke-linecap="butt"/>
<line x1="925.76" y1="1247.3" x2="954.26" y2="1247.3" stroke="#000" stroke-width="2.2" stroke-linecap="butt"/>
<line x1="925.76" y1="1253.3" x2="954.26" y2="1253.3" stroke="#000" stroke-width="2.2" stroke-linecap="butt"/>
<line x1="986.54" y1="1247.3" x2="986.54" y2="1253.3" stroke="#000" stroke-width="2.2" stroke-linecap="butt"/>
<line x1="972.29" y1="1247.3" x2="1000.79" y2="1247.3" stroke="#000" stroke-width="2.2" stroke-linecap="butt"/>
<line x1="972.29" y1="1253.3" x2="1000.79" y2="1253.3" stroke="#000" stroke-width="2.2" stroke-linecap="butt"/>
<line x1="1033.07" y1="1239.9" x2="1033.07" y2="1245.9" stroke="#000" stroke-width="2.2" stroke-linecap="butt"/>
<line x1="1018.82" y1="1239.9" x2="1047.32" y2="1239.9" stroke="#000" stroke-width="2.2" stroke-linecap="butt"/>
<line x1="1018.82" y1="1245.9" x2="1047.32" y2="1245.9" stroke="#000" stroke-width="2.2" stroke-linecap="butt"/>
<line x1="1079.6" y1="1199.3" x2="1079.6" y2="1215.3" stroke="#000" stroke-width="2.2" stroke-linecap="butt"/>
<line x1="1065.35" y1="1199.3" x2="1093.85" y2="1199.3" stroke="#000" stroke-width="2.2" stroke-linecap="butt"/>
<line x1="1065.35" y1="1215.3" x2="1093.85" y2="1215.3" stroke="#000" stroke-width="2.2" stroke-linecap="butt"/>
<rect x="744.24" y="1238.55" width="19.3" height="19.3" fill="#fff" stroke="#000" stroke-width="2"/>
<rect x="790.77" y="1238.55" width="19.3" height="19.3" fill="#fff" stroke="#000" stroke-width="2"/>
<rect x="837.3" y="1239.85" width="19.3" height="19.3" fill="#fff" stroke="#000" stroke-width="2"/>
<rect x="883.83" y="1239.85" width="19.3" height="19.3" fill="#fff" stroke="#000" stroke-width="2"/>
<rect x="930.36" y="1240.65" width="19.3" height="19.3" fill="#fff" stroke="#000" stroke-width="2"/>
<rect x="976.89" y="1240.65" width="19.3" height="19.3" fill="#fff" stroke="#000" stroke-width="2"/>
<rect x="1023.42" y="1233.25" width="19.3" height="19.3" fill="#fff" stroke="#000" stroke-width="2"/>
<rect x="1069.95" y="1197.65" width="19.3" height="19.3" fill="#fff" stroke="#000" stroke-width="2"/>
<line x1="1256.3" y1="847.5" x2="1256.3" y2="1283.2" stroke="#000" stroke-width="2.2" stroke-linecap="butt"/>
<line x1="1242.1" y1="1269" x2="1678.7" y2="1269" stroke="#000" stroke-width="2.2" stroke-linecap="butt"/>
<line x1="1242.1" y1="1198.75" x2="1256.3" y2="1198.75" stroke="#000" stroke-width="2.2" stroke-linecap="butt"/>
<line x1="1242.1" y1="1128.5" x2="1256.3" y2="1128.5" stroke="#000" stroke-width="2.2" stroke-linecap="butt"/>
<line x1="1242.1" y1="1058.25" x2="1256.3" y2="1058.25" stroke="#000" stroke-width="2.2" stroke-linecap="butt"/>
<line x1="1242.1" y1="988" x2="1256.3" y2="988" stroke="#000" stroke-width="2.2" stroke-linecap="butt"/>
<line x1="1242.1" y1="917.75" x2="1256.3" y2="917.75" stroke="#000" stroke-width="2.2" stroke-linecap="butt"/>
<line x1="1242.1" y1="847.5" x2="1257.4" y2="847.5" stroke="#000" stroke-width="2.2" stroke-linecap="butt"/>
<text transform="translate(1224.3,1281.26) scale(0.98,1)" font-size="37.5" text-anchor="end">0</text>
<text transform="translate(1224.3,1211.01) scale(0.98,1)" font-size="37.5" text-anchor="end">1</text>
<text transform="translate(1224.3,1140.76) scale(0.98,1)" font-size="37.5" text-anchor="end">2</text>
<text transform="translate(1224.3,1070.51) scale(0.98,1)" font-size="37.5" text-anchor="end">3</text>
<text transform="translate(1224.3,1000.26) scale(0.98,1)" font-size="37.5" text-anchor="end">4</text>
<text transform="translate(1224.3,930.01) scale(0.98,1)" font-size="37.5" text-anchor="end">5</text>
<text transform="translate(1224.3,859.76) scale(0.98,1)" font-size="37.5" text-anchor="end">6</text>
<text transform="translate(1255.8,1334) scale(0.98,1)" font-size="37.5" text-anchor="middle">0.1</text>
<line x1="1354.18" y1="1269" x2="1354.18" y2="1283.2" stroke="#000" stroke-width="2.2" stroke-linecap="butt"/>
<text transform="translate(1353.68,1334) scale(0.98,1)" font-size="37.5" text-anchor="middle">1</text>
<line x1="1452.06" y1="1269" x2="1452.06" y2="1283.2" stroke="#000" stroke-width="2.2" stroke-linecap="butt"/>
<text transform="translate(1451.56,1334) scale(0.98,1)" font-size="37.5" text-anchor="middle">10</text>
<line x1="1549.94" y1="1269" x2="1549.94" y2="1283.2" stroke="#000" stroke-width="2.2" stroke-linecap="butt"/>
<text transform="translate(1549.44,1334) scale(0.98,1)" font-size="37.5" text-anchor="middle">100</text>
<line x1="1647.82" y1="1269" x2="1647.82" y2="1283.2" stroke="#000" stroke-width="2.2" stroke-linecap="butt"/>
<text transform="translate(1647.32,1334) scale(0.98,1)" font-size="37.5" text-anchor="middle">1000</text>
<text transform="translate(1466.5,808.7) scale(0.95,1)" font-size="42.7" text-anchor="middle" font-weight="bold">PZFX</text>
<text transform="translate(1141,809.6) scale(1.03,1)" font-size="29" text-anchor="start">(x10<tspan font-size="18.56" dy="-14.79">2</tspan><tspan dy="14.79">)</tspan></text>
<text transform="translate(1648.5,1386.5) scale(1.04,1)" font-size="29" text-anchor="start">(µg/mL)</text>
<text transform="translate(1165,1059.25) rotate(-90) scale(1.03,1.07)" font-size="36" text-anchor="middle">RLU (Max-Min)</text>
<polyline points="1321.18,1254 1367.84,1235.8 1414.5,1255 1461.16,1254 1507.82,1256 1554.48,1252 1601.14,1238 1647.8,1205" fill="none" stroke="#000" stroke-width="2.2" stroke-linejoin="miter" stroke-linecap="butt"/>
<line x1="1321.18" y1="1251" x2="1321.18" y2="1257" stroke="#000" stroke-width="2.2" stroke-linecap="butt"/>
<line x1="1306.93" y1="1251" x2="1335.43" y2="1251" stroke="#000" stroke-width="2.2" stroke-linecap="butt"/>
<line x1="1306.93" y1="1257" x2="1335.43" y2="1257" stroke="#000" stroke-width="2.2" stroke-linecap="butt"/>
<line x1="1367.84" y1="1232.8" x2="1367.84" y2="1238.8" stroke="#000" stroke-width="2.2" stroke-linecap="butt"/>
<line x1="1353.59" y1="1232.8" x2="1382.09" y2="1232.8" stroke="#000" stroke-width="2.2" stroke-linecap="butt"/>
<line x1="1353.59" y1="1238.8" x2="1382.09" y2="1238.8" stroke="#000" stroke-width="2.2" stroke-linecap="butt"/>
<line x1="1414.5" y1="1252" x2="1414.5" y2="1258" stroke="#000" stroke-width="2.2" stroke-linecap="butt"/>
<line x1="1400.25" y1="1252" x2="1428.75" y2="1252" stroke="#000" stroke-width="2.2" stroke-linecap="butt"/>
<line x1="1400.25" y1="1258" x2="1428.75" y2="1258" stroke="#000" stroke-width="2.2" stroke-linecap="butt"/>
<line x1="1461.16" y1="1251" x2="1461.16" y2="1257" stroke="#000" stroke-width="2.2" stroke-linecap="butt"/>
<line x1="1446.91" y1="1251" x2="1475.41" y2="1251" stroke="#000" stroke-width="2.2" stroke-linecap="butt"/>
<line x1="1446.91" y1="1257" x2="1475.41" y2="1257" stroke="#000" stroke-width="2.2" stroke-linecap="butt"/>
<line x1="1507.82" y1="1253" x2="1507.82" y2="1259" stroke="#000" stroke-width="2.2" stroke-linecap="butt"/>
<line x1="1493.57" y1="1253" x2="1522.07" y2="1253" stroke="#000" stroke-width="2.2" stroke-linecap="butt"/>
<line x1="1493.57" y1="1259" x2="1522.07" y2="1259" stroke="#000" stroke-width="2.2" stroke-linecap="butt"/>
<line x1="1554.48" y1="1249" x2="1554.48" y2="1255" stroke="#000" stroke-width="2.2" stroke-linecap="butt"/>
<line x1="1540.23" y1="1249" x2="1568.73" y2="1249" stroke="#000" stroke-width="2.2" stroke-linecap="butt"/>
<line x1="1540.23" y1="1255" x2="1568.73" y2="1255" stroke="#000" stroke-width="2.2" stroke-linecap="butt"/>
<line x1="1601.14" y1="1235" x2="1601.14" y2="1241" stroke="#000" stroke-width="2.2" stroke-linecap="butt"/>
<line x1="1586.89" y1="1235" x2="1615.39" y2="1235" stroke="#000" stroke-width="2.2" stroke-linecap="butt"/>
<line x1="1586.89" y1="1241" x2="1615.39" y2="1241" stroke="#000" stroke-width="2.2" stroke-linecap="butt"/>
<line x1="1647.8" y1="1175.2" x2="1647.8" y2="1210" stroke="#000" stroke-width="2.2" stroke-linecap="butt"/>
<line x1="1633.55" y1="1175.2" x2="1662.05" y2="1175.2" stroke="#000" stroke-width="2.2" stroke-linecap="butt"/>
<line x1="1633.55" y1="1210" x2="1662.05" y2="1210" stroke="#000" stroke-width="2.2" stroke-linecap="butt"/>
<ellipse cx="1321.18" cy="1254" rx="10.4" ry="10.4" fill="#000" stroke="#000" stroke-width="2"/>
<ellipse cx="1367.84" cy="1235.8" rx="10.4" ry="10.4" fill="#000" stroke="#000" stroke-width="2"/>
<ellipse cx="1414.5" cy="1255" rx="10.4" ry="10.4" fill="#000" stroke="#000" stroke-width="2"/>
<ellipse cx="1461.16" cy="1254" rx="10.4" ry="10.4" fill="#000" stroke="#000" stroke-width="2"/>
<ellipse cx="1507.82" cy="1256" rx="10.4" ry="10.4" fill="#000" stroke="#000" stroke-width="2"/>
<ellipse cx="1554.48" cy="1252" rx="10.4" ry="10.4" fill="#000" stroke="#000" stroke-width="2"/>
<ellipse cx="1601.14" cy="1238" rx="10.4" ry="10.4" fill="#000" stroke="#000" stroke-width="2"/>
<ellipse cx="1647.8" cy="1205" rx="10.4" ry="10.4" fill="#000" stroke="#000" stroke-width="2"/>
<polyline points="1321.18,1252 1367.84,1251 1414.5,1252 1461.16,1253 1507.82,1254 1554.48,1252 1601.14,1240 1647.8,1189.2" fill="none" stroke="#000" stroke-width="2.2" stroke-linejoin="miter" stroke-linecap="butt"/>
<line x1="1321.18" y1="1249" x2="1321.18" y2="1255" stroke="#000" stroke-width="2.2" stroke-linecap="butt"/>
<line x1="1306.93" y1="1249" x2="1335.43" y2="1249" stroke="#000" stroke-width="2.2" stroke-linecap="butt"/>
<line x1="1306.93" y1="1255" x2="1335.43" y2="1255" stroke="#000" stroke-width="2.2" stroke-linecap="butt"/>
<line x1="1367.84" y1="1248" x2="1367.84" y2="1254" stroke="#000" stroke-width="2.2" stroke-linecap="butt"/>
<line x1="1353.59" y1="1248" x2="1382.09" y2="1248" stroke="#000" stroke-width="2.2" stroke-linecap="butt"/>
<line x1="1353.59" y1="1254" x2="1382.09" y2="1254" stroke="#000" stroke-width="2.2" stroke-linecap="butt"/>
<line x1="1414.5" y1="1249" x2="1414.5" y2="1255" stroke="#000" stroke-width="2.2" stroke-linecap="butt"/>
<line x1="1400.25" y1="1249" x2="1428.75" y2="1249" stroke="#000" stroke-width="2.2" stroke-linecap="butt"/>
<line x1="1400.25" y1="1255" x2="1428.75" y2="1255" stroke="#000" stroke-width="2.2" stroke-linecap="butt"/>
<line x1="1461.16" y1="1250" x2="1461.16" y2="1256" stroke="#000" stroke-width="2.2" stroke-linecap="butt"/>
<line x1="1446.91" y1="1250" x2="1475.41" y2="1250" stroke="#000" stroke-width="2.2" stroke-linecap="butt"/>
<line x1="1446.91" y1="1256" x2="1475.41" y2="1256" stroke="#000" stroke-width="2.2" stroke-linecap="butt"/>
<line x1="1507.82" y1="1251" x2="1507.82" y2="1257" stroke="#000" stroke-width="2.2" stroke-linecap="butt"/>
<line x1="1493.57" y1="1251" x2="1522.07" y2="1251" stroke="#000" stroke-width="2.2" stroke-linecap="butt"/>
<line x1="1493.57" y1="1257" x2="1522.07" y2="1257" stroke="#000" stroke-width="2.2" stroke-linecap="butt"/>
<line x1="1554.48" y1="1249" x2="1554.48" y2="1255" stroke="#000" stroke-width="2.2" stroke-linecap="butt"/>
<line x1="1540.23" y1="1249" x2="1568.73" y2="1249" stroke="#000" stroke-width="2.2" stroke-linecap="butt"/>
<line x1="1540.23" y1="1255" x2="1568.73" y2="1255" stroke="#000" stroke-width="2.2" stroke-linecap="butt"/>
<line x1="1601.14" y1="1237" x2="1601.14" y2="1243" stroke="#000" stroke-width="2.2" stroke-linecap="butt"/>
<line x1="1586.89" y1="1237" x2="1615.39" y2="1237" stroke="#000" stroke-width="2.2" stroke-linecap="butt"/>
<line x1="1586.89" y1="1243" x2="1615.39" y2="1243" stroke="#000" stroke-width="2.2" stroke-linecap="butt"/>
<line x1="1647.8" y1="1176.7" x2="1647.8" y2="1201.7" stroke="#000" stroke-width="2.2" stroke-linecap="butt"/>
<line x1="1633.55" y1="1176.7" x2="1662.05" y2="1176.7" stroke="#000" stroke-width="2.2" stroke-linecap="butt"/>
<line x1="1633.55" y1="1201.7" x2="1662.05" y2="1201.7" stroke="#000" stroke-width="2.2" stroke-linecap="butt"/>
<ellipse cx="1321.18" cy="1252" rx="10.4" ry="10.4" fill="#fff" stroke="#000" stroke-width="2"/>
<ellipse cx="1367.84" cy="1251" rx="10.4" ry="10.4" fill="#fff" stroke="#000" stroke-width="2"/>
<ellipse cx="1414.5" cy="1252" rx="10.4" ry="10.4" fill="#fff" stroke="#000" stroke-width="2"/>
<ellipse cx="1461.16" cy="1253" rx="10.4" ry="10.4" fill="#fff" stroke="#000" stroke-width="2"/>
<ellipse cx="1507.82" cy="1254" rx="10.4" ry="10.4" fill="#fff" stroke="#000" stroke-width="2"/>
<ellipse cx="1554.48" cy="1252" rx="10.4" ry="10.4" fill="#fff" stroke="#000" stroke-width="2"/>
<ellipse cx="1601.14" cy="1240" rx="10.4" ry="10.4" fill="#fff" stroke="#000" stroke-width="2"/>
<ellipse cx="1647.8" cy="1189.2" rx="10.4" ry="10.4" fill="#fff" stroke="#000" stroke-width="2"/>
<polyline points="1321.18,1251 1367.84,1206.2 1414.5,1252 1461.16,1255.5 1507.82,1253 1554.48,1252 1601.14,1243 1647.8,1207" fill="none" stroke="#000" stroke-width="2.2" stroke-linejoin="miter" stroke-linecap="butt"/>
<line x1="1321.18" y1="1248" x2="1321.18" y2="1254" stroke="#000" stroke-width="2.2" stroke-linecap="butt"/>
<line x1="1306.93" y1="1248" x2="1335.43" y2="1248" stroke="#000" stroke-width="2.2" stroke-linecap="butt"/>
<line x1="1306.93" y1="1254" x2="1335.43" y2="1254" stroke="#000" stroke-width="2.2" stroke-linecap="butt"/>
<line x1="1367.84" y1="1170.7" x2="1367.84" y2="1216.6" stroke="#000" stroke-width="2.2" stroke-linecap="butt"/>
<line x1="1353.59" y1="1170.7" x2="1382.09" y2="1170.7" stroke="#000" stroke-width="2.2" stroke-linecap="butt"/>
<line x1="1353.59" y1="1216.6" x2="1382.09" y2="1216.6" stroke="#000" stroke-width="2.2" stroke-linecap="butt"/>
<line x1="1414.5" y1="1249" x2="1414.5" y2="1255" stroke="#000" stroke-width="2.2" stroke-linecap="butt"/>
<line x1="1400.25" y1="1249" x2="1428.75" y2="1249" stroke="#000" stroke-width="2.2" stroke-linecap="butt"/>
<line x1="1400.25" y1="1255" x2="1428.75" y2="1255" stroke="#000" stroke-width="2.2" stroke-linecap="butt"/>
<line x1="1461.16" y1="1252.5" x2="1461.16" y2="1258.5" stroke="#000" stroke-width="2.2" stroke-linecap="butt"/>
<line x1="1446.91" y1="1252.5" x2="1475.41" y2="1252.5" stroke="#000" stroke-width="2.2" stroke-linecap="butt"/>
<line x1="1446.91" y1="1258.5" x2="1475.41" y2="1258.5" stroke="#000" stroke-width="2.2" stroke-linecap="butt"/>
<line x1="1507.82" y1="1250" x2="1507.82" y2="1256" stroke="#000" stroke-width="2.2" stroke-linecap="butt"/>
<line x1="1493.57" y1="1250" x2="1522.07" y2="1250" stroke="#000" stroke-width="2.2" stroke-linecap="butt"/>
<line x1="1493.57" y1="1256" x2="1522.07" y2="1256" stroke="#000" stroke-width="2.2" stroke-linecap="butt"/>
<line x1="1554.48" y1="1249" x2="1554.48" y2="1255" stroke="#000" stroke-width="2.2" stroke-linecap="butt"/>
<line x1="1540.23" y1="1249" x2="1568.73" y2="1249" stroke="#000" stroke-width="2.2" stroke-linecap="butt"/>
<line x1="1540.23" y1="1255" x2="1568.73" y2="1255" stroke="#000" stroke-width="2.2" stroke-linecap="butt"/>
<line x1="1601.14" y1="1240" x2="1601.14" y2="1246" stroke="#000" stroke-width="2.2" stroke-linecap="butt"/>
<line x1="1586.89" y1="1240" x2="1615.39" y2="1240" stroke="#000" stroke-width="2.2" stroke-linecap="butt"/>
<line x1="1586.89" y1="1246" x2="1615.39" y2="1246" stroke="#000" stroke-width="2.2" stroke-linecap="butt"/>
<line x1="1647.8" y1="1201" x2="1647.8" y2="1213" stroke="#000" stroke-width="2.2" stroke-linecap="butt"/>
<line x1="1633.55" y1="1201" x2="1662.05" y2="1201" stroke="#000" stroke-width="2.2" stroke-linecap="butt"/>
<line x1="1633.55" y1="1213" x2="1662.05" y2="1213" stroke="#000" stroke-width="2.2" stroke-linecap="butt"/>
<polygon points="1321.18,1264 1309.93,1244.5 1332.43,1244.5" fill="#000" stroke="#000" stroke-width="2" stroke-linejoin="miter"/>
<polygon points="1367.84,1219.2 1356.59,1199.7 1379.09,1199.7" fill="#000" stroke="#000" stroke-width="2" stroke-linejoin="miter"/>
<polygon points="1414.5,1265 1403.25,1245.5 1425.75,1245.5" fill="#000" stroke="#000" stroke-width="2" stroke-linejoin="miter"/>
<polygon points="1461.16,1268.5 1449.91,1249 1472.41,1249" fill="#000" stroke="#000" stroke-width="2" stroke-linejoin="miter"/>
<polygon points="1507.82,1266 1496.57,1246.5 1519.07,1246.5" fill="#000" stroke="#000" stroke-width="2" stroke-linejoin="miter"/>
<polygon points="1554.48,1265 1543.23,1245.5 1565.73,1245.5" fill="#000" stroke="#000" stroke-width="2" stroke-linejoin="miter"/>
<polygon points="1601.14,1256 1589.89,1236.5 1612.39,1236.5" fill="#000" stroke="#000" stroke-width="2" stroke-linejoin="miter"/>
<polygon points="1647.8,1220 1636.55,1200.5 1659.05,1200.5" fill="#000" stroke="#000" stroke-width="2" stroke-linejoin="miter"/>
<polyline points="1321.18,1254 1367.84,1253 1414.5,1252 1461.16,1252 1507.82,1255 1554.48,1256 1601.14,1244 1647.8,1213" fill="none" stroke="#000" stroke-width="2.2" stroke-linejoin="miter" stroke-linecap="butt"/>
<line x1="1321.18" y1="1251" x2="1321.18" y2="1257" stroke="#000" stroke-width="2.2" stroke-linecap="butt"/>
<line x1="1306.93" y1="1251" x2="1335.43" y2="1251" stroke="#000" stroke-width="2.2" stroke-linecap="butt"/>
<line x1="1306.93" y1="1257" x2="1335.43" y2="1257" stroke="#000" stroke-width="2.2" stroke-linecap="butt"/>
<line x1="1367.84" y1="1250" x2="1367.84" y2="1256" stroke="#000" stroke-width="2.2" stroke-linecap="butt"/>
<line x1="1353.59" y1="1250" x2="1382.09" y2="1250" stroke="#000" stroke-width="2.2" stroke-linecap="butt"/>
<line x1="1353.59" y1="1256" x2="1382.09" y2="1256" stroke="#000" stroke-width="2.2" stroke-linecap="butt"/>
<line x1="1414.5" y1="1249" x2="1414.5" y2="1255" stroke="#000" stroke-width="2.2" stroke-linecap="butt"/>
<line x1="1400.25" y1="1249" x2="1428.75" y2="1249" stroke="#000" stroke-width="2.2" stroke-linecap="butt"/>
<line x1="1400.25" y1="1255" x2="1428.75" y2="1255" stroke="#000" stroke-width="2.2" stroke-linecap="butt"/>
<line x1="1461.16" y1="1249" x2="1461.16" y2="1255" stroke="#000" stroke-width="2.2" stroke-linecap="butt"/>
<line x1="1446.91" y1="1249" x2="1475.41" y2="1249" stroke="#000" stroke-width="2.2" stroke-linecap="butt"/>
<line x1="1446.91" y1="1255" x2="1475.41" y2="1255" stroke="#000" stroke-width="2.2" stroke-linecap="butt"/>
<line x1="1507.82" y1="1252" x2="1507.82" y2="1258" stroke="#000" stroke-width="2.2" stroke-linecap="butt"/>
<line x1="1493.57" y1="1252" x2="1522.07" y2="1252" stroke="#000" stroke-width="2.2" stroke-linecap="butt"/>
<line x1="1493.57" y1="1258" x2="1522.07" y2="1258" stroke="#000" stroke-width="2.2" stroke-linecap="butt"/>
<line x1="1554.48" y1="1253" x2="1554.48" y2="1259" stroke="#000" stroke-width="2.2" stroke-linecap="butt"/>
<line x1="1540.23" y1="1253" x2="1568.73" y2="1253" stroke="#000" stroke-width="2.2" stroke-linecap="butt"/>
<line x1="1540.23" y1="1259" x2="1568.73" y2="1259" stroke="#000" stroke-width="2.2" stroke-linecap="butt"/>
<line x1="1601.14" y1="1241" x2="1601.14" y2="1247" stroke="#000" stroke-width="2.2" stroke-linecap="butt"/>
<line x1="1586.89" y1="1241" x2="1615.39" y2="1241" stroke="#000" stroke-width="2.2" stroke-linecap="butt"/>
<line x1="1586.89" y1="1247" x2="1615.39" y2="1247" stroke="#000" stroke-width="2.2" stroke-linecap="butt"/>
<line x1="1647.8" y1="1208" x2="1647.8" y2="1218" stroke="#000" stroke-width="2.2" stroke-linecap="butt"/>
<line x1="1633.55" y1="1208" x2="1662.05" y2="1208" stroke="#000" stroke-width="2.2" stroke-linecap="butt"/>
<line x1="1633.55" y1="1218" x2="1662.05" y2="1218" stroke="#000" stroke-width="2.2" stroke-linecap="butt"/>
<polygon points="1321.18,1241 1309.93,1260.5 1332.43,1260.5" fill="#fff" stroke="#000" stroke-width="2" stroke-linejoin="miter"/>
<polygon points="1367.84,1240 1356.59,1259.5 1379.09,1259.5" fill="#fff" stroke="#000" stroke-width="2" stroke-linejoin="miter"/>
<polygon points="1414.5,1239 1403.25,1258.5 1425.75,1258.5" fill="#fff" stroke="#000" stroke-width="2" stroke-linejoin="miter"/>
<polygon points="1461.16,1239 1449.91,1258.5 1472.41,1258.5" fill="#fff" stroke="#000" stroke-width="2" stroke-linejoin="miter"/>
<polygon points="1507.82,1242 1496.57,1261.5 1519.07,1261.5" fill="#fff" stroke="#000" stroke-width="2" stroke-linejoin="miter"/>
<polygon points="1554.48,1243 1543.23,1262.5 1565.73,1262.5" fill="#fff" stroke="#000" stroke-width="2" stroke-linejoin="miter"/>
<polygon points="1601.14,1231 1589.89,1250.5 1612.39,1250.5" fill="#fff" stroke="#000" stroke-width="2" stroke-linejoin="miter"/>
<polygon points="1647.8,1200 1636.55,1219.5 1659.05,1219.5" fill="#fff" stroke="#000" stroke-width="2" stroke-linejoin="miter"/>
<polyline points="1321.18,1254 1367.84,1255 1414.5,1255 1461.16,1254 1507.82,1257 1554.48,1253 1601.14,1241 1647.8,1208" fill="none" stroke="#000" stroke-width="2.2" stroke-linejoin="miter" stroke-linecap="butt"/>
<line x1="1321.18" y1="1251" x2="1321.18" y2="1257" stroke="#000" stroke-width="2.2" stroke-linecap="butt"/>
<line x1="1306.93" y1="1251" x2="1335.43" y2="1251" stroke="#000" stroke-width="2.2" stroke-linecap="butt"/>
<line x1="1306.93" y1="1257" x2="1335.43" y2="1257" stroke="#000" stroke-width="2.2" stroke-linecap="butt"/>
<line x1="1367.84" y1="1252" x2="1367.84" y2="1258" stroke="#000" stroke-width="2.2" stroke-linecap="butt"/>
<line x1="1353.59" y1="1252" x2="1382.09" y2="1252" stroke="#000" stroke-width="2.2" stroke-linecap="butt"/>
<line x1="1353.59" y1="1258" x2="1382.09" y2="1258" stroke="#000" stroke-width="2.2" stroke-linecap="butt"/>
<line x1="1414.5" y1="1252" x2="1414.5" y2="1258" stroke="#000" stroke-width="2.2" stroke-linecap="butt"/>
<line x1="1400.25" y1="1252" x2="1428.75" y2="1252" stroke="#000" stroke-width="2.2" stroke-linecap="butt"/>
<line x1="1400.25" y1="1258" x2="1428.75" y2="1258" stroke="#000" stroke-width="2.2" stroke-linecap="butt"/>
<line x1="1461.16" y1="1251" x2="1461.16" y2="1257" stroke="#000" stroke-width="2.2" stroke-linecap="butt"/>
<line x1="1446.91" y1="1251" x2="1475.41" y2="1251" stroke="#000" stroke-width="2.2" stroke-linecap="butt"/>
<line x1="1446.91" y1="1257" x2="1475.41" y2="1257" stroke="#000" stroke-width="2.2" stroke-linecap="butt"/>
<line x1="1507.82" y1="1254" x2="1507.82" y2="1260" stroke="#000" stroke-width="2.2" stroke-linecap="butt"/>
<line x1="1493.57" y1="1254" x2="1522.07" y2="1254" stroke="#000" stroke-width="2.2" stroke-linecap="butt"/>
<line x1="1493.57" y1="1260" x2="1522.07" y2="1260" stroke="#000" stroke-width="2.2" stroke-linecap="butt"/>
<line x1="1554.48" y1="1250" x2="1554.48" y2="1256" stroke="#000" stroke-width="2.2" stroke-linecap="butt"/>
<line x1="1540.23" y1="1250" x2="1568.73" y2="1250" stroke="#000" stroke-width="2.2" stroke-linecap="butt"/>
<line x1="1540.23" y1="1256" x2="1568.73" y2="1256" stroke="#000" stroke-width="2.2" stroke-linecap="butt"/>
<line x1="1601.14" y1="1238" x2="1601.14" y2="1244" stroke="#000" stroke-width="2.2" stroke-linecap="butt"/>
<line x1="1586.89" y1="1238" x2="1615.39" y2="1238" stroke="#000" stroke-width="2.2" stroke-linecap="butt"/>
<line x1="1586.89" y1="1244" x2="1615.39" y2="1244" stroke="#000" stroke-width="2.2" stroke-linecap="butt"/>
<line x1="1647.8" y1="1202" x2="1647.8" y2="1214" stroke="#000" stroke-width="2.2" stroke-linecap="butt"/>
<line x1="1633.55" y1="1202" x2="1662.05" y2="1202" stroke="#000" stroke-width="2.2" stroke-linecap="butt"/>
<line x1="1633.55" y1="1214" x2="1662.05" y2="1214" stroke="#000" stroke-width="2.2" stroke-linecap="butt"/>
<rect x="1311.53" y="1244.35" width="19.3" height="19.3" fill="#000" stroke="#000" stroke-width="2"/>
<rect x="1358.19" y="1245.35" width="19.3" height="19.3" fill="#000" stroke="#000" stroke-width="2"/>
<rect x="1404.85" y="1245.35" width="19.3" height="19.3" fill="#000" stroke="#000" stroke-width="2"/>
<rect x="1451.51" y="1244.35" width="19.3" height="19.3" fill="#000" stroke="#000" stroke-width="2"/>
<rect x="1498.17" y="1247.35" width="19.3" height="19.3" fill="#000" stroke="#000" stroke-width="2"/>
<rect x="1544.83" y="1243.35" width="19.3" height="19.3" fill="#000" stroke="#000" stroke-width="2"/>
<rect x="1591.49" y="1231.35" width="19.3" height="19.3" fill="#000" stroke="#000" stroke-width="2"/>
<rect x="1638.15" y="1198.35" width="19.3" height="19.3" fill="#000" stroke="#000" stroke-width="2"/>
<polyline points="1321.18,1250.3 1367.84,1249 1414.5,1247.7 1461.16,1247.7 1507.82,1251.1 1554.48,1251.7 1601.14,1240.6 1647.8,1211.3" fill="none" stroke="#000" stroke-width="2.2" stroke-linejoin="miter" stroke-linecap="butt"/>
<line x1="1321.18" y1="1247.3" x2="1321.18" y2="1253.3" stroke="#000" stroke-width="2.2" stroke-linecap="butt"/>
<line x1="1306.93" y1="1247.3" x2="1335.43" y2="1247.3" stroke="#000" stroke-width="2.2" stroke-linecap="butt"/>
<line x1="1306.93" y1="1253.3" x2="1335.43" y2="1253.3" stroke="#000" stroke-width="2.2" stroke-linecap="butt"/>
<line x1="1367.84" y1="1246" x2="1367.84" y2="1252" stroke="#000" stroke-width="2.2" stroke-linecap="butt"/>
<line x1="1353.59" y1="1246" x2="1382.09" y2="1246" stroke="#000" stroke-width="2.2" stroke-linecap="butt"/>
<line x1="1353.59" y1="1252" x2="1382.09" y2="1252" stroke="#000" stroke-width="2.2" stroke-linecap="butt"/>
<line x1="1414.5" y1="1244.7" x2="1414.5" y2="1250.7" stroke="#000" stroke-width="2.2" stroke-linecap="butt"/>
<line x1="1400.25" y1="1244.7" x2="1428.75" y2="1244.7" stroke="#000" stroke-width="2.2" stroke-linecap="butt"/>
<line x1="1400.25" y1="1250.7" x2="1428.75" y2="1250.7" stroke="#000" stroke-width="2.2" stroke-linecap="butt"/>
<line x1="1461.16" y1="1244.7" x2="1461.16" y2="1250.7" stroke="#000" stroke-width="2.2" stroke-linecap="butt"/>
<line x1="1446.91" y1="1244.7" x2="1475.41" y2="1244.7" stroke="#000" stroke-width="2.2" stroke-linecap="butt"/>
<line x1="1446.91" y1="1250.7" x2="1475.41" y2="1250.7" stroke="#000" stroke-width="2.2" stroke-linecap="butt"/>
<line x1="1507.82" y1="1248.1" x2="1507.82" y2="1254.1" stroke="#000" stroke-width="2.2" stroke-linecap="butt"/>
<line x1="1493.57" y1="1248.1" x2="1522.07" y2="1248.1" stroke="#000" stroke-width="2.2" stroke-linecap="butt"/>
<line x1="1493.57" y1="1254.1" x2="1522.07" y2="1254.1" stroke="#000" stroke-width="2.2" stroke-linecap="butt"/>
<line x1="1554.48" y1="1248.7" x2="1554.48" y2="1254.7" stroke="#000" stroke-width="2.2" stroke-linecap="butt"/>
<line x1="1540.23" y1="1248.7" x2="1568.73" y2="1248.7" stroke="#000" stroke-width="2.2" stroke-linecap="butt"/>
<line x1="1540.23" y1="1254.7" x2="1568.73" y2="1254.7" stroke="#000" stroke-width="2.2" stroke-linecap="butt"/>
<line x1="1601.14" y1="1237.6" x2="1601.14" y2="1243.6" stroke="#000" stroke-width="2.2" stroke-linecap="butt"/>
<line x1="1586.89" y1="1237.6" x2="1615.39" y2="1237.6" stroke="#000" stroke-width="2.2" stroke-linecap="butt"/>
<line x1="1586.89" y1="1243.6" x2="1615.39" y2="1243.6" stroke="#000" stroke-width="2.2" stroke-linecap="butt"/>
<line x1="1647.8" y1="1203.3" x2="1647.8" y2="1219.3" stroke="#000" stroke-width="2.2" stroke-linecap="butt"/>
<line x1="1633.55" y1="1203.3" x2="1662.05" y2="1203.3" stroke="#000" stroke-width="2.2" stroke-linecap="butt"/>
<line x1="1633.55" y1="1219.3" x2="1662.05" y2="1219.3" stroke="#000" stroke-width="2.2" stroke-linecap="butt"/>
<rect x="1311.53" y="1240.65" width="19.3" height="19.3" fill="#fff" stroke="#000" stroke-width="2"/>
<rect x="1358.19" y="1239.35" width="19.3" height="19.3" fill="#fff" stroke="#000" stroke-width="2"/>
<rect x="1404.85" y="1238.05" width="19.3" height="19.3" fill="#fff" stroke="#000" stroke-width="2"/>
<rect x="1451.51" y="1238.05" width="19.3" height="19.3" fill="#fff" stroke="#000" stroke-width="2"/>
<rect x="1498.17" y="1241.45" width="19.3" height="19.3" fill="#fff" stroke="#000" stroke-width="2"/>
<rect x="1544.83" y="1242.05" width="19.3" height="19.3" fill="#fff" stroke="#000" stroke-width="2"/>
<rect x="1591.49" y="1230.95" width="19.3" height="19.3" fill="#fff" stroke="#000" stroke-width="2"/>
<rect x="1638.15" y="1201.65" width="19.3" height="19.3" fill="#fff" stroke="#000" stroke-width="2"/>
<line x1="1296.6" y1="305.4" x2="1382.1" y2="305.4" stroke="#000" stroke-width="2.2" stroke-linecap="butt"/>
<ellipse cx="1338.8" cy="305.4" rx="11.2" ry="11.2" fill="#000" stroke="#000" stroke-width="2"/>
<text transform="translate(1402.4,317.6) scale(1.01,1)" font-size="36.7" text-anchor="start">Human MRGPRX2</text>
<line x1="1296.6" y1="351.8" x2="1382.1" y2="351.8" stroke="#000" stroke-width="2.2" stroke-linecap="butt"/>
<ellipse cx="1338.8" cy="351.8" rx="11.2" ry="11.2" fill="#fff" stroke="#000" stroke-width="2"/>
<text transform="translate(1402.4,364) scale(1.01,1)" font-size="36.7" text-anchor="start">Dog MRGPRX2</text>
<line x1="1296.6" y1="398.1" x2="1382.1" y2="398.1" stroke="#000" stroke-width="2.2" stroke-linecap="butt"/>
<polygon points="1338.8,411.43 1327.05,391.43 1350.55,391.43" fill="#000" stroke="#000" stroke-width="2" stroke-linejoin="miter"/>
<text transform="translate(1402.4,410.3) scale(1.01,1)" font-size="36.7" text-anchor="start">Dog MRGPRD</text>
<line x1="1296.6" y1="444.2" x2="1382.1" y2="444.2" stroke="#000" stroke-width="2.2" stroke-linecap="butt"/>
<polygon points="1338.8,430.87 1327.05,450.87 1350.55,450.87" fill="#fff" stroke="#000" stroke-width="2" stroke-linejoin="miter"/>
<text transform="translate(1402.4,456.4) scale(1.01,1)" font-size="36.7" text-anchor="start">Dog MRGPRF</text>
<line x1="1296.6" y1="490.4" x2="1382.1" y2="490.4" stroke="#000" stroke-width="2.2" stroke-linecap="butt"/>
<rect x="1328.6" y="480.2" width="20.4" height="20.4" fill="#000" stroke="#000" stroke-width="2"/>
<text transform="translate(1402.4,502.6) scale(1.01,1)" font-size="36.7" text-anchor="start">Dog MRGPRG</text>
<line x1="1296.6" y1="536.6" x2="1382.1" y2="536.6" stroke="#000" stroke-width="2.2" stroke-linecap="butt"/>
<rect x="1328.6" y="526.4" width="20.4" height="20.4" fill="#fff" stroke="#000" stroke-width="2"/>
<text transform="translate(1402.4,548.8) scale(1.01,1)" font-size="36.7" text-anchor="start">Non-transfected</text>
<text transform="translate(32,45) scale(1.03,1)" font-size="58" text-anchor="start" font-weight="bold">(a)</text>
<text transform="translate(31,1426.6) scale(1.03,1)" font-size="58" text-anchor="start" font-weight="bold">(b)</text>
<polyline points="123.5,1942.17 124.82,1941.91 126.13,1941.91 127.45,1942.51 128.77,1942.54 130.08,1942.88 131.4,1942.68 132.72,1943.04 134.03,1942.61 135.35,1942.4 136.66,1941.64 137.98,1941.52 139.3,1941.36 140.61,1941.62 141.93,1941.95 143.25,1941.47 144.56,1941.55 145.88,1941.47 147.2,1941.49 148.51,1941.34 149.83,1942.11 151.15,1942.78 152.46,1942.52 153.78,1941.61 155.1,1942 156.41,1941.11 157.73,1938.79 159.05,1933.56 160.36,1924.25 161.68,1912.64 163,1899.86 164.31,1888.45 165.63,1879.36 166.94,1871.95 168.26,1864.91 169.58,1859.07 170.89,1855.17 172.21,1852.69 173.53,1851.24 174.84,1849.52 176.16,1847.97 177.48,1846.84 178.79,1846.8 180.11,1846.39 181.43,1846.31 182.74,1846.3 184.06,1845.98 185.38,1846.5 186.69,1847.12 188.01,1847.45 189.32,1848.66 190.64,1849.48 191.96,1850.11 193.27,1851.29 194.59,1852.78 195.91,1853.58 197.22,1854.19 198.54,1855.77 199.86,1856.72 201.17,1857.71 202.49,1858.04 203.81,1859.49 205.12,1860.37 206.44,1861.69 207.76,1862.77 209.07,1863.46 210.39,1864.31 211.71,1865.1 213.02,1866.12 214.34,1867.41 215.66,1867.75 216.97,1867.96 218.29,1868.81 219.6,1869.78 220.92,1870.14 222.24,1870.88 223.55,1871.72 224.87,1872.36 226.19,1873.69 227.5,1874.95 228.82,1875.85 230.14,1877.23 231.45,1878.14 232.77,1879.01 234.09,1879.76 235.4,1880.57 236.72,1882.06 238.04,1883 239.35,1883.72 240.67,1884.18 241.99,1884.67 243.3,1885.63 244.62,1886.5 245.93,1887.69 247.25,1888.54 248.57,1889.47 249.88,1890.52 251.2,1891.15 252.52,1891.3 253.83,1891.33 255.15,1891.89 256.47,1892.62 257.78,1893.17 259.1,1893.58 260.42,1894.13 261.73,1894.75 263.05,1895.61 264.37,1896.46 265.68,1896.4 267,1896.88 268.31,1898.06 269.63,1898.58 270.95,1899.68 272.26,1900.35 273.58,1901.29 274.9,1901.91 276.21,1902.82 277.53,1903.6 278.85,1904.08 280.16,1904.54 281.48,1905.88 282.8,1906.02 284.11,1907.43 285.43,1908.48 286.75,1909.12 288.06,1909.37 289.38,1909.87 290.7,1910.54 292.01,1910.63 293.33,1911.13 294.64,1911.67 295.96,1911.89 297.28,1912.69 298.59,1912.42 299.91,1912.59 301.23,1913.26 302.54,1913.88 303.86,1914.43 305.18,1914.77 306.49,1915.24 307.81,1916.15 309.13,1917.06 310.44,1917.15 311.76,1918.19 313.08,1918.94 314.39,1918.94 315.71,1919.93 317.03,1920.13 318.34,1920.19 319.66,1919.83 320.98,1919.98 322.29,1920.57 323.61,1921.58 324.92,1921.65 326.24,1921.82 327.56,1921.91 328.87,1922.06 330.19,1922.8 331.51,1923.62 332.82,1924.65 334.14,1925.04 335.46,1925.29 336.77,1926.09 338.09,1926.52 339.41,1926.67 340.72,1926.65 342.04,1927.5 343.36,1928.1 344.67,1928.92 345.99,1929.67 347.31,1929.71 348.62,1929.75 349.94,1930.32 351.25,1930.77 352.57,1931.33 353.89,1930.97 355.2,1931.55 356.52,1931.98 357.84,1932.56 359.15,1932.55 360.47,1932.98 361.79,1933.86 363.1,1933.9 364.42,1934 365.74,1934.24 367.05,1934.39 368.37,1934.5 369.69,1934.59 371,1934.44 372.32,1934.52 373.63,1934.52 374.95,1934.68 376.27,1934.93 377.58,1935.41 378.9,1935.8 380.22,1936.65 381.53,1936.56 382.85,1936.19 384.17,1936.68 385.48,1937.42 386.8,1937.64 388.12,1938.07 389.43,1938.03 390.75,1938.91 392.07,1938.54 393.38,1938.3 394.7,1938.45 396.02,1939.48 397.33,1939.74 398.65,1939.32 399.96,1939.45 401.28,1939.94 402.6,1940 403.91,1940.11 405.23,1940.65 406.55,1940.72 407.86,1940.43 409.18,1940.21 410.5,1940.01 411.81,1940.11 413.13,1940.57 414.45,1940.78 415.76,1940.27 417.08,1940.34 418.4,1940.38 419.71,1941.07 421.03,1940.91 422.35,1941.14 423.66,1940.86 424.98,1941.35 426.3,1941.69 427.61,1942.06 428.93,1942.52 430.24,1942.82 431.56,1942.94 432.88,1943.11 434.19,1943.14 435.51,1942.61 436.83,1942.65 438.14,1942.71 439.46,1943.2 440.78,1942.72 442.09,1943.25 443.41,1944.18 444.73,1944.18 446.04,1944.09 447.36,1944.48 448.68,1944.01 449.99,1944.68 451.31,1945.21 452.62,1945.16 453.94,1945.22 455.26,1945.23 456.57,1944.94 457.89,1944.96 459.21,1944.43 460.52,1945.02 461.84,1944.8 463.16,1944.07 464.47,1944.13 465.79,1943.97 467.11,1943.65 468.42,1943.82 469.74,1944.1 471.06,1945.17 472.37,1945.42 473.69,1945.01 475.01,1945.05 476.32,1945.4 477.64,1945.26 478.95,1945.22 480.27,1945.07 481.59,1945.17 482.9,1945.01 484.22,1945.31 485.54,1944.67 486.85,1944.59 488.17,1944.86 489.49,1944.75 490.8,1944.88 492.12,1944.91 493.44,1945.24 494.75,1945.44 496.07,1945.66 497.39,1945.86 498.7,1945.74 500.02,1946.05 501.34,1946.3 502.65,1946.23 503.97,1946.65 505.29,1946.66 506.6,1946.57 507.92,1946.49 509.23,1946.56 510.55,1947.55 511.87,1947.38 513.18,1947.16 514.5,1947.37 515.82,1947 517.13,1947.04 518.45,1947.36 519.77,1947.45 521.08,1947.37 522.4,1947.53 523.72,1947.63 525.03,1947.3 526.35,1946.72 527.67,1946.98 528.98,1947.25 530.3,1946.68 531.62,1946.88 532.93,1947.03 534.25,1947.15" fill="none" stroke="#bdbdbd" stroke-width="6.6" stroke-linejoin="round" stroke-linecap="round"/>
<polyline points="123.5,1942.6 124.82,1942.68 126.13,1941.88 127.45,1942.12 128.77,1942.66 130.08,1942.52 131.4,1942.45 132.72,1942.2 134.03,1942.36 135.35,1941.86 136.66,1941.73 137.98,1940.94 139.3,1940.96 140.61,1941.08 141.93,1940.78 143.25,1940.72 144.56,1941.23 145.88,1941.12 147.2,1941.53 148.51,1941.23 149.83,1941.6 151.15,1941.59 152.46,1941.97 153.78,1941.91 155.1,1941.44 156.41,1940.75 157.73,1940.02 159.05,1938.4 160.36,1934.12 161.68,1928.32 163,1921.03 164.31,1912.33 165.63,1904.04 166.94,1895.28 168.26,1887.35 169.58,1881.29 170.89,1876.7 172.21,1872.61 173.53,1868.6 174.84,1865.7 176.16,1862.95 177.48,1861.2 178.79,1859.93 180.11,1859.15 181.43,1858.93 182.74,1859.03 184.06,1859.15 185.38,1859.35 186.69,1860.18 188.01,1861.33 189.32,1862.33 190.64,1863.35 191.96,1864.64 193.27,1865.08 194.59,1865.81 195.91,1865.62 197.22,1866.38 198.54,1867.42 199.86,1867.77 201.17,1868.31 202.49,1868.56 203.81,1869.11 205.12,1869.09 206.44,1870.07 207.76,1870.68 209.07,1871.54 210.39,1872.39 211.71,1873.63 213.02,1874 214.34,1875.21 215.66,1875.65 216.97,1876.11 218.29,1876.62 219.6,1877.86 220.92,1878.2 222.24,1879.14 223.55,1879.69 224.87,1880.55 226.19,1880.59 227.5,1881.62 228.82,1882.49 230.14,1883.17 231.45,1884.45 232.77,1885.3 234.09,1886.04 235.4,1886.59 236.72,1887.38 238.04,1887.42 239.35,1887.51 240.67,1887.93 241.99,1888.82 243.3,1889.45 244.62,1889.58 245.93,1889.9 247.25,1890.64 248.57,1891.78 249.88,1892.26 251.2,1892.88 252.52,1893.73 253.83,1894.62 255.15,1895.86 256.47,1897.05 257.78,1898.06 259.1,1898.46 260.42,1898.9 261.73,1899.67 263.05,1900.24 264.37,1900.22 265.68,1901.18 267,1901.8 268.31,1902.67 269.63,1902.38 270.95,1903.02 272.26,1903.01 273.58,1903.3 274.9,1904.11 276.21,1904.42 277.53,1904.91 278.85,1905.29 280.16,1905.79 281.48,1906.14 282.8,1906.52 284.11,1907.38 285.43,1907.65 286.75,1908.48 288.06,1909.43 289.38,1909.99 290.7,1910.71 292.01,1911.3 293.33,1912.02 294.64,1912.03 295.96,1912.09 297.28,1912.73 298.59,1912.66 299.91,1913.16 301.23,1913.87 302.54,1914.63 303.86,1914.84 305.18,1915.27 306.49,1915.57 307.81,1914.97 309.13,1915.21 310.44,1915.83 311.76,1916.76 313.08,1917.39 314.39,1918.08 315.71,1918.71 317.03,1919.91 318.34,1920.13 319.66,1920.82 320.98,1920.32 322.29,1920.81 323.61,1920.89 324.92,1921.21 326.24,1921.94 327.56,1922.29 328.87,1922.86 330.19,1923.4 331.51,1923.8 332.82,1924.87 334.14,1924.68 335.46,1924.86 336.77,1925.32 338.09,1925.24 339.41,1926.05 340.72,1927.33 342.04,1927.5 343.36,1928.1 344.67,1928.38 345.99,1928.85 347.31,1929.18 348.62,1929.78 349.94,1930.01 351.25,1929.99 352.57,1930.14 353.89,1929.85 355.2,1930.05 356.52,1930.33 357.84,1930.69 359.15,1930.92 360.47,1931.41 361.79,1932.27 363.1,1932.97 364.42,1933.86 365.74,1934.13 367.05,1934.28 368.37,1934.32 369.69,1934.18 371,1934.64 372.32,1935.66 373.63,1936.06 374.95,1936.21 376.27,1937.03 377.58,1937.53 378.9,1937.95 380.22,1937.26 381.53,1937.03 382.85,1937.49 384.17,1937.83 385.48,1937.95 386.8,1938.03 388.12,1938.14 389.43,1938.74 390.75,1939.21 392.07,1938.82 393.38,1939 394.7,1938.81 396.02,1939.04 397.33,1939.16 398.65,1939.27 399.96,1939.58 401.28,1939.36 402.6,1939.32 403.91,1939.61 405.23,1939.8 406.55,1939.49 407.86,1940.12 409.18,1940.06 410.5,1939.92 411.81,1939.67 413.13,1939.51 414.45,1940.17 415.76,1940.19 417.08,1940.63 418.4,1940.61 419.71,1940.84 421.03,1940.8 422.35,1941.32 423.66,1941.48 424.98,1941.51 426.3,1941.55 427.61,1941.47 428.93,1941.1 430.24,1941.74 431.56,1941.95 432.88,1942.74 434.19,1942.63 435.51,1942.22 436.83,1942.35 438.14,1942.13 439.46,1941.66 440.78,1941.82 442.09,1941.8 443.41,1941.77 444.73,1942.34 446.04,1942.99 447.36,1943.27 448.68,1943.68 449.99,1943.52 451.31,1944.38 452.62,1945.05 453.94,1945.55 455.26,1945.28 456.57,1945.22 457.89,1945.15 459.21,1945.15 460.52,1945.21 461.84,1945.37 463.16,1945.17 464.47,1945.15 465.79,1944.97 467.11,1944.94 468.42,1944.87 469.74,1944.83 471.06,1944.11 472.37,1943.49 473.69,1943.29 475.01,1944.17 476.32,1944.06 477.64,1943.7 478.95,1943.72 480.27,1944.42 481.59,1944.6 482.9,1943.75 484.22,1944 485.54,1944.66 486.85,1944.79 488.17,1944.49 489.49,1944.55 490.8,1945.04 492.12,1945.81 493.44,1945.64 494.75,1946.16 496.07,1945.69 497.39,1945.21 498.7,1945.09 500.02,1945.12 501.34,1945.19 502.65,1945.29 503.97,1945.56 505.29,1945.86 506.6,1946.12 507.92,1945.48 509.23,1944.85 510.55,1944.93 511.87,1944.83 513.18,1945.04 514.5,1945.07 515.82,1944.67 517.13,1944.46 518.45,1944.28 519.77,1944.23 521.08,1944.16 522.4,1944.63 523.72,1944.53 525.03,1945.29 526.35,1945.28 527.67,1945.23 528.98,1945.17 530.3,1945.92 531.62,1945.58 532.93,1946.05 534.25,1946.87" fill="none" stroke="#bdbdbd" stroke-width="6.6" stroke-linejoin="round" stroke-linecap="round"/>
<polyline points="123.5,1942.12 124.82,1941.78 126.13,1941.61 127.45,1941.26 128.77,1941.69 130.08,1942.01 131.4,1942.39 132.72,1942.69 134.03,1942.24 135.35,1942.16 136.66,1942.49 137.98,1942.76 139.3,1942.3 140.61,1942.7 141.93,1942.83 143.25,1942.59 144.56,1942.13 145.88,1941.73 147.2,1942 148.51,1942.49 149.83,1942.86 151.15,1942.64 152.46,1942.53 153.78,1942.1 155.1,1941.86 156.41,1941.49 157.73,1941.61 159.05,1941.18 160.36,1939.61 161.68,1937.12 163,1934.5 164.31,1930.7 165.63,1927.73 166.94,1924.03 168.26,1920.65 169.58,1916.95 170.89,1913.09 172.21,1909.36 173.53,1905.47 174.84,1901.65 176.16,1899.22 177.48,1897.43 178.79,1896.12 180.11,1894.89 181.43,1894.14 182.74,1893.8 184.06,1892.62 185.38,1892.15 186.69,1892 188.01,1890.86 189.32,1890.49 190.64,1889.58 191.96,1888.64 193.27,1888.63 194.59,1888.77 195.91,1888.2 197.22,1888.72 198.54,1889.03 199.86,1889.17 201.17,1889.31 202.49,1888.77 203.81,1888.82 205.12,1889.48 206.44,1888.95 207.76,1888.84 209.07,1889.06 210.39,1888.61 211.71,1888.6 213.02,1888.69 214.34,1889.31 215.66,1889.7 216.97,1889.58 218.29,1889.85 219.6,1890.47 220.92,1891.47 222.24,1891.76 223.55,1892.18 224.87,1892.33 226.19,1892.63 227.5,1892.9 228.82,1893.49 230.14,1893.96 231.45,1894.73 232.77,1895.2 234.09,1895.66 235.4,1896.15 236.72,1897.05 238.04,1897.48 239.35,1898.13 240.67,1899.07 241.99,1899.59 243.3,1899.91 244.62,1900.63 245.93,1900.63 247.25,1901.13 248.57,1901.38 249.88,1901.81 251.2,1903.1 252.52,1904.3 253.83,1904.63 255.15,1905.29 256.47,1905.97 257.78,1906.27 259.1,1906.67 260.42,1907.12 261.73,1908 263.05,1908.03 264.37,1909.36 265.68,1909.48 267,1910.17 268.31,1910.38 269.63,1910.89 270.95,1911.32 272.26,1911.37 273.58,1912.19 274.9,1913.46 276.21,1914.12 277.53,1915.35 278.85,1915.88 280.16,1916.45 281.48,1916.58 282.8,1917.13 284.11,1917.34 285.43,1918.22 286.75,1918.42 288.06,1918.83 289.38,1918.83 290.7,1918.44 292.01,1918.71 293.33,1918.95 294.64,1919.81 295.96,1920.52 297.28,1920.32 298.59,1921.41 299.91,1921.9 301.23,1922.1 302.54,1922.16 303.86,1922.76 305.18,1923.11 306.49,1923.27 307.81,1923.17 309.13,1923.54 310.44,1924.01 311.76,1923.92 313.08,1923.96 314.39,1924.56 315.71,1924.8 317.03,1925.19 318.34,1925.49 319.66,1926.38 320.98,1926.52 322.29,1926.77 323.61,1927.44 324.92,1927.63 326.24,1928.12 327.56,1928.49 328.87,1928.72 330.19,1928.13 331.51,1928.02 332.82,1928.71 334.14,1928.56 335.46,1928.99 336.77,1928.83 338.09,1928.94 339.41,1928.87 340.72,1928.96 342.04,1929.55 343.36,1930.15 344.67,1930.43 345.99,1930.67 347.31,1930.6 348.62,1930.15 349.94,1930.55 351.25,1930.31 352.57,1930.64 353.89,1930.93 355.2,1931.75 356.52,1932.11 357.84,1932.25 359.15,1932.71 360.47,1933.29 361.79,1933.56 363.1,1933.44 364.42,1933.43 365.74,1934 367.05,1933.96 368.37,1934.34 369.69,1934.77 371,1934.53 372.32,1934.67 373.63,1934.92 374.95,1935.23 376.27,1936.57 377.58,1936.34 378.9,1935.99 380.22,1937.12 381.53,1938.1 382.85,1938.23 384.17,1937.84 385.48,1937.75 386.8,1937.64 388.12,1938.04 389.43,1938.47 390.75,1938.37 392.07,1938.9 393.38,1938.49 394.7,1938.35 396.02,1938.53 397.33,1938.93 398.65,1938.48 399.96,1938.68 401.28,1939.48 402.6,1939.87 403.91,1940.59 405.23,1940.26 406.55,1940.67 407.86,1940.67 409.18,1940.52 410.5,1940.12 411.81,1940.74 413.13,1940.57 414.45,1940.81 415.76,1940.92 417.08,1941.76 418.4,1941.69 419.71,1941.59 421.03,1941.48 422.35,1941.3 423.66,1941.65 424.98,1942.26 426.3,1942.01 427.61,1942.5 428.93,1941.55 430.24,1941.79 431.56,1942.6 432.88,1942.29 434.19,1942.39 435.51,1942.68 436.83,1942.87 438.14,1942.97 439.46,1943.47 440.78,1943.03 442.09,1942.61 443.41,1942.66 444.73,1943 446.04,1942.92 447.36,1942.6 448.68,1942.55 449.99,1942.75 451.31,1942.72 452.62,1943.26 453.94,1943.01 455.26,1942.57 456.57,1942.45 457.89,1942.3 459.21,1942.33 460.52,1943 461.84,1942.63 463.16,1942.39 464.47,1942.97 465.79,1943.21 467.11,1943.05 468.42,1943.03 469.74,1943.57 471.06,1944.03 472.37,1944.48 473.69,1944.35 475.01,1944.05 476.32,1943.82 477.64,1944.02 478.95,1944 480.27,1944.27 481.59,1943.95 482.9,1944.05 484.22,1944.28 485.54,1943.94 486.85,1944.1 488.17,1944.35 489.49,1944.8 490.8,1944.87 492.12,1944.4 493.44,1944.91 494.75,1944.58 496.07,1945.09 497.39,1945.44 498.7,1945.09 500.02,1945.5 501.34,1945.64 502.65,1945.8 503.97,1945.34 505.29,1945.24 506.6,1945.52 507.92,1945.74 509.23,1945.66 510.55,1945.98 511.87,1945.78 513.18,1945.47 514.5,1945.35 515.82,1945.88 517.13,1945.48 518.45,1945.64 519.77,1945.25 521.08,1945.29 522.4,1945.56 523.72,1946.39 525.03,1945.83 526.35,1946.27 527.67,1946.23 528.98,1946.02 530.3,1945.69 531.62,1946.27 532.93,1945.82 534.25,1946.28" fill="none" stroke="#bdbdbd" stroke-width="6.6" stroke-linejoin="round" stroke-linecap="round"/>
<polyline points="123.5,1942.18 124.82,1942.15 126.13,1942.23 127.45,1942.44 128.77,1942.26 130.08,1942.49 131.4,1942.11 132.72,1942.13 134.03,1942.14 135.35,1942.12 136.66,1942.23 137.98,1941.88 139.3,1941.73 140.61,1941.2 141.93,1941.55 143.25,1941.17 144.56,1941.45 145.88,1941.46 147.2,1942.08 148.51,1941.92 149.83,1942.39 151.15,1941.73 152.46,1939.92 153.78,1933.49 155.1,1921.55 156.41,1907.35 157.73,1889.39 159.05,1873.32 160.36,1861.17 161.68,1851.85 163,1845.17 164.31,1841.05 165.63,1839.1 166.94,1838.18 168.26,1836.21 169.58,1834.59 170.89,1833.61 172.21,1832.28 173.53,1832.13 174.84,1831.74 176.16,1830.95 177.48,1831.51 178.79,1832.15 180.11,1831.46 181.43,1831.38 182.74,1830.59 184.06,1830.32 185.38,1830.32 186.69,1830.43 188.01,1831.25 189.32,1832.19 190.64,1832.17 191.96,1832.47 193.27,1833.49 194.59,1834.18 195.91,1834.28 197.22,1834.38 198.54,1834.96 199.86,1835.73 201.17,1835.82 202.49,1836.09 203.81,1836.74 205.12,1837.19 206.44,1837.7 207.76,1837.86 209.07,1838.75 210.39,1839.73 211.71,1840.73 213.02,1841.35 214.34,1842.01 215.66,1843.67 216.97,1844.52 218.29,1845.09 219.6,1845.89 220.92,1846.2 222.24,1846.86 223.55,1847.11 224.87,1847.7 226.19,1848.55 227.5,1849.22 228.82,1849.7 230.14,1850.61 231.45,1851.43 232.77,1852.11 234.09,1852.02 235.4,1852.83 236.72,1853.25 238.04,1854.3 239.35,1855.02 240.67,1855.88 241.99,1856.75 243.3,1857.59 244.62,1858.34 245.93,1859.54 247.25,1860.03 248.57,1860.75 249.88,1861.9 251.2,1862.48 252.52,1863.34 253.83,1864 255.15,1864.59 256.47,1865.38 257.78,1866.5 259.1,1866.84 260.42,1867.35 261.73,1867.9 263.05,1867.96 264.37,1868.65 265.68,1869.11 267,1869.28 268.31,1869.47 269.63,1869.85 270.95,1870.48 272.26,1871.23 273.58,1871.92 274.9,1872.22 276.21,1872.87 277.53,1873.89 278.85,1874.61 280.16,1875.73 281.48,1876.92 282.8,1877.41 284.11,1878.02 285.43,1878.14 286.75,1878.98 288.06,1879.51 289.38,1880.48 290.7,1881.46 292.01,1881.3 293.33,1881.85 294.64,1882.58 295.96,1883.71 297.28,1884.23 298.59,1885.47 299.91,1885.94 301.23,1886.5 302.54,1887.42 303.86,1887.89 305.18,1888.45 306.49,1889.07 307.81,1889.27 309.13,1889.45 310.44,1889.86 311.76,1890.35 313.08,1890.4 314.39,1891.09 315.71,1891.73 317.03,1892.15 318.34,1893.06 319.66,1893.46 320.98,1893.7 322.29,1894.21 323.61,1894.08 324.92,1895.2 326.24,1895.93 327.56,1896.86 328.87,1897.32 330.19,1897.91 331.51,1898.5 332.82,1899.47 334.14,1899.64 335.46,1899.77 336.77,1900.72 338.09,1900.76 339.41,1901.38 340.72,1901.88 342.04,1902.07 343.36,1902.82 344.67,1903.11 345.99,1903.8 347.31,1904.31 348.62,1904.39 349.94,1904.51 351.25,1904.49 352.57,1905.26 353.89,1906.09 355.2,1907.01 356.52,1907.78 357.84,1908.02 359.15,1908.53 360.47,1908.41 361.79,1908.56 363.1,1908.66 364.42,1909.51 365.74,1910.94 367.05,1911.59 368.37,1911.87 369.69,1912.38 371,1912.99 372.32,1913.92 373.63,1914.29 374.95,1913.95 376.27,1913.99 377.58,1914.62 378.9,1915.38 380.22,1915.47 381.53,1915.63 382.85,1916.45 384.17,1916.33 385.48,1916.68 386.8,1917.08 388.12,1917.19 389.43,1917.59 390.75,1918.29 392.07,1919.37 393.38,1920.13 394.7,1919.77 396.02,1920.3 397.33,1920.54 398.65,1920.76 399.96,1921.11 401.28,1921.15 402.6,1922.2 403.91,1921.99 405.23,1922.56 406.55,1922.76 407.86,1923 409.18,1923.18 410.5,1922.79 411.81,1923.19 413.13,1923.43 414.45,1923.16 415.76,1923.59 417.08,1924.26 418.4,1924.12 419.71,1924.11 421.03,1924.36 422.35,1924.64 423.66,1924.29 424.98,1923.85 426.3,1924.25 427.61,1924.59 428.93,1924.45 430.24,1924.86 431.56,1924.99 432.88,1925.21 434.19,1925.08 435.51,1924.78 436.83,1925.46 438.14,1926.24 439.46,1926.74 440.78,1927.39 442.09,1927.66 443.41,1927.45 444.73,1928.12 446.04,1928.03 447.36,1928.53 448.68,1928.18 449.99,1928.28 451.31,1928.07 452.62,1928.43 453.94,1928.66 455.26,1928.42 456.57,1928.38 457.89,1928.45 459.21,1928.38 460.52,1928.28 461.84,1928.87 463.16,1929.38 464.47,1929.96 465.79,1930.1 467.11,1930.01 468.42,1930.17 469.74,1930.11 471.06,1930.13 472.37,1929.93 473.69,1930.68 475.01,1931.02 476.32,1931.29 477.64,1931.42 478.95,1931.76 480.27,1931.61 481.59,1931.17 482.9,1930.65 484.22,1930.78 485.54,1930.52 486.85,1930.69 488.17,1930.64 489.49,1930.81 490.8,1930.39 492.12,1931 493.44,1931.94 494.75,1931.86 496.07,1932.11 497.39,1932.71 498.7,1932.69 500.02,1933.01 501.34,1933.8 502.65,1934.17 503.97,1934.22 505.29,1934.06 506.6,1934.27 507.92,1934.48 509.23,1934.5 510.55,1934.81 511.87,1935 513.18,1934.39 514.5,1934.37 515.82,1934.1 517.13,1934.36 518.45,1933.66 519.77,1933.74 521.08,1934.23 522.4,1933.99 523.72,1933.78 525.03,1933.94 526.35,1934.12 527.67,1934.64 528.98,1935.45 530.3,1934.95 531.62,1934.77 532.93,1934.8 534.25,1934.69" fill="none" stroke="#000" stroke-width="6.6" stroke-linejoin="round" stroke-linecap="round"/>
<polyline points="123.5,1942.12 124.82,1942.04 126.13,1941.82 127.45,1941.9 128.77,1941.96 130.08,1942.55 131.4,1943.09 132.72,1942.88 134.03,1943.46 135.35,1943.09 136.66,1943.13 137.98,1943.14 139.3,1943.39 140.61,1943.4 141.93,1943.48 143.25,1943.37 144.56,1943.3 145.88,1943.37 147.2,1943.3 148.51,1942.93 149.83,1942.86 151.15,1942.35 152.46,1941.34 153.78,1939.25 155.1,1931.73 156.41,1921.17 157.73,1908.03 159.05,1890.95 160.36,1875.95 161.68,1864.76 163,1856.15 164.31,1850.36 165.63,1846.36 166.94,1844.49 168.26,1842.89 169.58,1841.38 170.89,1840.6 172.21,1839.37 173.53,1838.01 174.84,1837.15 176.16,1836.72 177.48,1835.6 178.79,1835.72 180.11,1834.65 181.43,1833.88 182.74,1833.63 184.06,1833.09 185.38,1833.92 186.69,1834.32 188.01,1834.55 189.32,1835.12 190.64,1835.62 191.96,1836.09 193.27,1836.77 194.59,1836.94 195.91,1836.91 197.22,1837.35 198.54,1838.27 199.86,1839.13 201.17,1839.84 202.49,1840.34 203.81,1840.83 205.12,1841.83 206.44,1841.79 207.76,1842.94 209.07,1843.47 210.39,1843.89 211.71,1844.47 213.02,1845.1 214.34,1846.08 215.66,1846.39 216.97,1846.99 218.29,1847.99 219.6,1848.55 220.92,1848.93 222.24,1849.81 223.55,1850.36 224.87,1851.36 226.19,1851.1 227.5,1852.19 228.82,1852.58 230.14,1852.81 231.45,1853.41 232.77,1854.06 234.09,1854.65 235.4,1855.76 236.72,1856.55 238.04,1857.36 239.35,1857.49 240.67,1858.43 241.99,1858.98 243.3,1859.92 244.62,1860.93 245.93,1861.22 247.25,1861.61 248.57,1862.34 249.88,1863.07 251.2,1863.73 252.52,1864.57 253.83,1865.63 255.15,1865.87 256.47,1866.71 257.78,1867.88 259.1,1868.85 260.42,1869.42 261.73,1869.2 263.05,1869.22 264.37,1869.86 265.68,1871.12 267,1871.91 268.31,1872.9 269.63,1873.59 270.95,1874.02 272.26,1874.35 273.58,1875.2 274.9,1876.06 276.21,1876.52 277.53,1877.66 278.85,1878.08 280.16,1878.65 281.48,1879.03 282.8,1880.03 284.11,1880.36 285.43,1880.7 286.75,1881.91 288.06,1882.69 289.38,1884.06 290.7,1884.43 292.01,1884.25 293.33,1884.84 294.64,1885.6 295.96,1886.57 297.28,1887.02 298.59,1887.52 299.91,1888.3 301.23,1889.37 302.54,1890.02 303.86,1890.52 305.18,1890.68 306.49,1890.97 307.81,1891.29 309.13,1891.68 310.44,1892.03 311.76,1892.6 313.08,1893.78 314.39,1894.49 315.71,1894.69 317.03,1895.21 318.34,1895.89 319.66,1896.23 320.98,1896.82 322.29,1897.4 323.61,1897.87 324.92,1898.21 326.24,1898.64 327.56,1899.48 328.87,1900.25 330.19,1901.29 331.51,1901.82 332.82,1902.54 334.14,1903.02 335.46,1902.95 336.77,1903.5 338.09,1903.63 339.41,1904.1 340.72,1904.39 342.04,1905.06 343.36,1905.64 344.67,1905.7 345.99,1905.99 347.31,1906.07 348.62,1906.43 349.94,1907.84 351.25,1908.55 352.57,1908.72 353.89,1908.85 355.2,1909.35 356.52,1910.18 357.84,1911.16 359.15,1911.52 360.47,1911.76 361.79,1912.08 363.1,1912.06 364.42,1913.15 365.74,1913.67 367.05,1914.25 368.37,1915.03 369.69,1915.97 371,1916.43 372.32,1916.54 373.63,1917.07 374.95,1917.7 376.27,1917.76 377.58,1918.26 378.9,1918.23 380.22,1919 381.53,1919.7 382.85,1919.58 384.17,1919.44 385.48,1920.12 386.8,1920.44 388.12,1920.55 389.43,1921.33 390.75,1921.86 392.07,1922.21 393.38,1922.52 394.7,1922.95 396.02,1923.5 397.33,1923.96 398.65,1923.64 399.96,1924.15 401.28,1924.98 402.6,1924.12 403.91,1924.17 405.23,1924.38 406.55,1924.75 407.86,1924.75 409.18,1924.67 410.5,1925.27 411.81,1925.76 413.13,1926.51 414.45,1926.26 415.76,1926.88 417.08,1927.05 418.4,1927.36 419.71,1928.09 421.03,1928.04 422.35,1928 423.66,1928.75 424.98,1928.67 426.3,1928.43 427.61,1928.85 428.93,1928.7 430.24,1928.5 431.56,1928.42 432.88,1929.19 434.19,1929.37 435.51,1929.52 436.83,1930.02 438.14,1930.19 439.46,1930.68 440.78,1930.37 442.09,1930.6 443.41,1931.33 444.73,1931.08 446.04,1931.64 447.36,1931.68 448.68,1931.65 449.99,1932.25 451.31,1931.53 452.62,1932.13 453.94,1932.3 455.26,1932.08 456.57,1933.11 457.89,1933.51 459.21,1933.48 460.52,1933.73 461.84,1933.82 463.16,1934.07 464.47,1934.31 465.79,1933.85 467.11,1934.13 468.42,1934.7 469.74,1934.58 471.06,1934.7 472.37,1935.06 473.69,1935.52 475.01,1936.25 476.32,1936.98 477.64,1936.99 478.95,1936.95 480.27,1936.92 481.59,1936.8 482.9,1935.72 484.22,1936.11 485.54,1936.04 486.85,1935.95 488.17,1936.05 489.49,1936.29 490.8,1936.11 492.12,1936.22 493.44,1936.45 494.75,1935.91 496.07,1936.16 497.39,1936.45 498.7,1936.97 500.02,1937.27 501.34,1937.24 502.65,1937.86 503.97,1937.99 505.29,1938.21 506.6,1938.8 507.92,1938.41 509.23,1938.42 510.55,1938.2 511.87,1938.32 513.18,1938.19 514.5,1938.3 515.82,1938.2 517.13,1938.01 518.45,1938.78 519.77,1938.64 521.08,1938.64 522.4,1938.74 523.72,1939.36 525.03,1939.5 526.35,1939.27 527.67,1939.16 528.98,1940.01 530.3,1940.34 531.62,1939.84 532.93,1940.1 534.25,1940.31" fill="none" stroke="#000" stroke-width="6.6" stroke-linejoin="round" stroke-linecap="round"/>
<polyline points="123.5,1942.36 124.82,1942.85 126.13,1942.98 127.45,1942.77 128.77,1943.11 130.08,1943.81 131.4,1944.2 132.72,1943.64 134.03,1943.04 135.35,1942.85 136.66,1942.67 137.98,1942.25 139.3,1942.78 140.61,1943.16 141.93,1943.72 143.25,1943.62 144.56,1943.52 145.88,1943.2 147.2,1943.6 148.51,1943.31 149.83,1943.19 151.15,1943.17 152.46,1942.91 153.78,1941.98 155.1,1941.35 156.41,1938.89 157.73,1935.34 159.05,1930.44 160.36,1924.48 161.68,1919.54 163,1914.49 164.31,1909.45 165.63,1904.34 166.94,1899.2 168.26,1894.54 169.58,1890.42 170.89,1886.26 172.21,1882.37 173.53,1878.85 174.84,1875.8 176.16,1872.43 177.48,1869.72 178.79,1867.48 180.11,1865.7 181.43,1864.28 182.74,1862.28 184.06,1861 185.38,1860.2 186.69,1859.7 188.01,1859.19 189.32,1858.75 190.64,1858.12 191.96,1858.18 193.27,1857.62 194.59,1856.98 195.91,1855.99 197.22,1855.51 198.54,1854.92 199.86,1854.9 201.17,1853.65 202.49,1853.42 203.81,1853.23 205.12,1852.2 206.44,1852.47 207.76,1853.23 209.07,1852.56 210.39,1852.01 211.71,1851.67 213.02,1851.53 214.34,1851.14 215.66,1851.78 216.97,1852.72 218.29,1852.91 219.6,1852.44 220.92,1852.36 222.24,1852.6 223.55,1852.66 224.87,1852.56 226.19,1852.89 227.5,1853.23 228.82,1853.37 230.14,1853.85 231.45,1854.61 232.77,1855.43 234.09,1855.98 235.4,1856.53 236.72,1856.7 238.04,1857.02 239.35,1857.62 240.67,1858.22 241.99,1858.42 243.3,1858.97 244.62,1859.34 245.93,1860.25 247.25,1860.81 248.57,1861.61 249.88,1862.64 251.2,1863.92 252.52,1864.44 253.83,1864.71 255.15,1864.99 256.47,1865.62 257.78,1866.34 259.1,1867.45 260.42,1868.03 261.73,1868.92 263.05,1869.72 264.37,1870.63 265.68,1871.27 267,1871.88 268.31,1872.86 269.63,1873.21 270.95,1873.69 272.26,1873.8 273.58,1874.07 274.9,1874.71 276.21,1874.93 277.53,1875.86 278.85,1877.27 280.16,1877.9 281.48,1878.65 282.8,1879.63 284.11,1880.67 285.43,1880.67 286.75,1881.62 288.06,1882.31 289.38,1882.97 290.7,1883.34 292.01,1883.71 293.33,1883.85 294.64,1885.05 295.96,1885.71 297.28,1886.53 298.59,1886.88 299.91,1887.6 301.23,1888.14 302.54,1888.11 303.86,1888.75 305.18,1889.38 306.49,1889.49 307.81,1889.59 309.13,1890.9 310.44,1891.61 311.76,1892.74 313.08,1893 314.39,1893.72 315.71,1894.44 317.03,1894.62 318.34,1894.61 319.66,1894.97 320.98,1896.08 322.29,1896.73 323.61,1897.67 324.92,1897.26 326.24,1897.81 327.56,1898.77 328.87,1899.1 330.19,1898.78 331.51,1899.55 332.82,1900.52 334.14,1900.89 335.46,1901.13 336.77,1901.35 338.09,1901.14 339.41,1902.24 340.72,1902.56 342.04,1903.3 343.36,1904.35 344.67,1904.77 345.99,1904.92 347.31,1905.14 348.62,1905.61 349.94,1905.69 351.25,1906.16 352.57,1906.32 353.89,1906.77 355.2,1907.21 356.52,1908.03 357.84,1908.34 359.15,1908.65 360.47,1908.65 361.79,1908.99 363.1,1909.82 364.42,1909.85 365.74,1910.12 367.05,1910.4 368.37,1911.17 369.69,1911.69 371,1912.18 372.32,1912.8 373.63,1913.13 374.95,1913.96 376.27,1914.67 377.58,1914.59 378.9,1915.29 380.22,1914.86 381.53,1915.19 382.85,1915.78 384.17,1915.77 385.48,1916.47 386.8,1916.37 388.12,1917.09 389.43,1916.98 390.75,1917.52 392.07,1918.11 393.38,1917.88 394.7,1917.82 396.02,1918.36 397.33,1918.78 398.65,1919.54 399.96,1919.88 401.28,1919.89 402.6,1920.29 403.91,1920.66 405.23,1921.43 406.55,1921.37 407.86,1921.81 409.18,1921.7 410.5,1921.45 411.81,1921.81 413.13,1922.26 414.45,1922.52 415.76,1922.71 417.08,1923.22 418.4,1923.54 419.71,1924.48 421.03,1924.36 422.35,1924.61 423.66,1924.18 424.98,1924.52 426.3,1924.57 427.61,1924.58 428.93,1924.71 430.24,1924.39 431.56,1924.63 432.88,1924.83 434.19,1924.9 435.51,1925.15 436.83,1925.13 438.14,1925.7 439.46,1925.67 440.78,1926.46 442.09,1926.68 443.41,1927.09 444.73,1927.38 446.04,1927.45 447.36,1927.52 448.68,1927.52 449.99,1928.11 451.31,1927.59 452.62,1927.76 453.94,1928.02 455.26,1928.34 456.57,1928.13 457.89,1928.69 459.21,1928.84 460.52,1928.82 461.84,1929.13 463.16,1929.54 464.47,1929.98 465.79,1929.79 467.11,1929.83 468.42,1929.56 469.74,1929.37 471.06,1929.11 472.37,1929.9 473.69,1929.81 475.01,1930.34 476.32,1930.82 477.64,1931.21 478.95,1931.34 480.27,1930.97 481.59,1930.83 482.9,1930.71 484.22,1931.41 485.54,1930.81 486.85,1930.85 488.17,1930.61 489.49,1930.69 490.8,1930.83 492.12,1931.46 493.44,1931.6 494.75,1932.69 496.07,1932.77 497.39,1933.17 498.7,1932.98 500.02,1932.77 501.34,1932.85 502.65,1932.79 503.97,1932.95 505.29,1932.49 506.6,1932.93 507.92,1932.8 509.23,1933.48 510.55,1933.28 511.87,1933.22 513.18,1933.32 514.5,1933.25 515.82,1933.08 517.13,1933.23 518.45,1933.21 519.77,1932.71 521.08,1932.31 522.4,1932.09 523.72,1932.58 525.03,1932.42 526.35,1932.57 527.67,1932.88 528.98,1933.06 530.3,1932.88 531.62,1933.14 532.93,1933.57 534.25,1933.88" fill="none" stroke="#000" stroke-width="6.6" stroke-linejoin="round" stroke-linecap="round"/>
<line x1="123.5" y1="1562.5" x2="123.5" y2="1999.6" stroke="#000" stroke-width="2.2" stroke-linecap="butt"/>
<line x1="123.5" y1="1985.4" x2="545.88" y2="1985.4" stroke="#000" stroke-width="2.2" stroke-linecap="butt"/>
<line x1="109.3" y1="1942.4" x2="123.5" y2="1942.4" stroke="#000" stroke-width="2.2" stroke-linecap="butt"/>
<text transform="translate(91.5,1954.66) scale(0.98,1)" font-size="37.5" text-anchor="end">0</text>
<line x1="109.3" y1="1847.7" x2="123.5" y2="1847.7" stroke="#000" stroke-width="2.2" stroke-linecap="butt"/>
<text transform="translate(91.5,1859.96) scale(0.98,1)" font-size="37.5" text-anchor="end">2</text>
<line x1="109.3" y1="1753" x2="123.5" y2="1753" stroke="#000" stroke-width="2.2" stroke-linecap="butt"/>
<text transform="translate(91.5,1765.26) scale(0.98,1)" font-size="37.5" text-anchor="end">4</text>
<line x1="109.3" y1="1658.3" x2="123.5" y2="1658.3" stroke="#000" stroke-width="2.2" stroke-linecap="butt"/>
<text transform="translate(91.5,1670.56) scale(0.98,1)" font-size="37.5" text-anchor="end">6</text>
<line x1="109.3" y1="1563.6" x2="123.5" y2="1563.6" stroke="#000" stroke-width="2.2" stroke-linecap="butt"/>
<text transform="translate(91.5,1575.86) scale(0.98,1)" font-size="37.5" text-anchor="end">8</text>
<text transform="translate(123,2050.2) scale(0.98,1)" font-size="37.5" text-anchor="middle">0</text>
<line x1="228.82" y1="1985.4" x2="228.82" y2="1999.6" stroke="#000" stroke-width="2.2" stroke-linecap="butt"/>
<text transform="translate(228.32,2050.2) scale(0.98,1)" font-size="37.5" text-anchor="middle">40</text>
<line x1="334.14" y1="1985.4" x2="334.14" y2="1999.6" stroke="#000" stroke-width="2.2" stroke-linecap="butt"/>
<text transform="translate(333.64,2050.2) scale(0.98,1)" font-size="37.5" text-anchor="middle">80</text>
<line x1="439.46" y1="1985.4" x2="439.46" y2="1999.6" stroke="#000" stroke-width="2.2" stroke-linecap="butt"/>
<text transform="translate(438.96,2050.2) scale(0.98,1)" font-size="37.5" text-anchor="middle">120</text>
<line x1="544.78" y1="1985.4" x2="544.78" y2="1999.6" stroke="#000" stroke-width="2.2" stroke-linecap="butt"/>
<text transform="translate(544.28,2050.2) scale(0.98,1)" font-size="37.5" text-anchor="middle">160</text>
<text transform="translate(334,1524.9) scale(0.95,1)" font-size="42.7" text-anchor="middle" font-weight="bold">Compound 48/80</text>
<text transform="translate(25,1530.6) scale(1,1)" font-size="34" text-anchor="start">(x10<tspan font-size="21.76" dy="-17.34">2</tspan><tspan dy="17.34">)</tspan></text>
<text transform="translate(33.7,1774.1) rotate(-90) scale(1.03,1.07)" font-size="36" text-anchor="middle">RLU</text>
<text transform="translate(334.14,2124.2) scale(1.05,1)" font-size="36" text-anchor="middle">Time (s)</text>
<polyline points="699.5,1942.27 700.82,1942.01 702.14,1942.01 703.45,1942.61 704.77,1942.64 706.09,1942.98 707.41,1942.78 708.73,1943.14 710.04,1942.71 711.36,1942.5 712.68,1941.74 714,1941.62 715.32,1941.46 716.63,1941.72 717.95,1942.05 719.27,1941.57 720.59,1941.65 721.91,1941.57 723.22,1941.59 724.54,1941.44 725.86,1942.83 727.18,1944.63 728.5,1944.98 729.81,1940.19 731.13,1931.26 732.45,1919.13 733.77,1903.61 735.09,1885.21 736.4,1867.11 737.72,1853.01 739.04,1843.26 740.36,1836.67 741.68,1831.88 742.99,1828.54 744.31,1824.51 745.63,1819.28 746.95,1814 748.27,1809.54 749.58,1806.62 750.9,1804.31 752.22,1802.87 753.54,1802.15 754.86,1802.26 756.17,1801.41 757.49,1800.18 758.81,1798.63 760.13,1796.86 761.45,1796.21 762.76,1796.44 764.08,1797.74 765.4,1800.38 766.72,1801.99 768.04,1801.85 769.35,1802 770.67,1802.42 771.99,1802.11 773.31,1801.59 774.63,1802.07 775.94,1801.95 777.26,1801.89 778.58,1801.19 779.9,1801.64 781.22,1801.54 782.53,1801.9 783.85,1802.07 785.17,1802 786.49,1802.34 787.81,1802.79 789.12,1803.56 790.44,1804.66 791.76,1804.78 793.08,1804.68 794.4,1805.09 795.71,1805.55 797.03,1805.33 798.35,1805.43 799.67,1805.63 800.99,1805.59 802.3,1806.26 803.62,1806.89 804.94,1807.18 806.26,1808 807.58,1808.43 808.89,1808.92 810.21,1809.44 811.53,1810.18 812.85,1811.87 814.17,1813.27 815.48,1814.65 816.8,1815.92 818.12,1817.3 819.44,1819.13 820.76,1820.82 822.07,1822.77 823.39,1824.41 824.71,1826.15 826.03,1828.04 827.35,1829.51 828.66,1830.5 829.98,1831.36 831.3,1832.74 832.62,1834.26 833.94,1835.58 835.25,1836.72 836.57,1837.94 837.89,1839.21 839.21,1840.68 840.53,1842.13 841.84,1842.64 843.16,1843.67 844.48,1845.39 845.8,1846.43 847.12,1848.03 848.43,1849.19 849.75,1850.61 851.07,1851.69 852.39,1853.05 853.71,1854.27 855.02,1855.18 856.34,1856.07 857.66,1857.84 858.98,1858.4 860.3,1860.22 861.61,1861.68 862.93,1862.73 864.25,1863.39 865.57,1864.31 866.89,1865.38 868.2,1865.88 869.52,1866.78 870.84,1867.71 872.16,1868.32 873.48,1869.51 874.79,1869.63 876.11,1870.17 877.43,1871.22 878.75,1872.2 880.07,1873.11 881.38,1873.8 882.7,1874.62 884.02,1875.87 885.34,1877.11 886.66,1877.52 887.97,1878.86 889.29,1879.9 890.61,1880.17 891.93,1881.43 893.25,1881.89 894.56,1882.2 895.88,1882.08 897.2,1882.46 898.52,1883.27 899.84,1884.5 901.15,1884.78 902.47,1885.16 903.79,1885.46 905.11,1885.82 906.43,1886.76 907.74,1887.78 909.06,1889.02 910.38,1889.63 911.7,1890.1 913.02,1891.11 914.33,1891.76 915.65,1892.14 916.97,1892.33 918.29,1893.41 919.61,1894.23 920.92,1895.27 922.24,1896.25 923.56,1896.52 924.88,1896.79 926.2,1897.59 927.51,1898.29 928.83,1899.09 930.15,1898.99 931.47,1899.85 932.79,1900.55 934.1,1901.4 935.42,1901.67 936.74,1902.38 938.06,1903.53 939.38,1903.84 940.69,1904.2 942.01,1904.7 943.33,1905.1 944.65,1905.44 945.97,1905.75 947.28,1905.8 948.6,1906.07 949.92,1906.24 951.24,1906.57 952.56,1906.97 953.87,1907.59 955.19,1908.11 956.51,1909.09 957.83,1909.13 959.15,1908.88 960.46,1909.49 961.78,1910.36 963.1,1910.7 964.42,1911.26 965.74,1911.36 967.05,1912.39 968.37,1912.18 969.69,1912.11 971.01,1912.44 972.33,1913.67 973.64,1914.13 974.96,1913.9 976.28,1914.25 977.6,1914.95 978.92,1915.23 980.23,1915.55 981.55,1916.3 982.87,1916.57 984.19,1916.49 985.51,1916.45 986.82,1916.44 988.14,1916.71 989.46,1917.33 990.78,1917.68 992.1,1917.3 993.41,1917.5 994.73,1917.66 996.05,1918.46 997.37,1918.4 998.69,1918.73 1000,1918.54 1001.32,1919.12 1002.64,1919.54 1003.96,1919.99 1005.28,1920.53 1006.59,1920.92 1007.91,1921.11 1009.23,1921.36 1010.55,1921.48 1011.87,1921.04 1013.18,1921.17 1014.5,1921.33 1015.82,1921.93 1017.14,1921.57 1018.46,1922.21 1019.77,1923.27 1021.09,1923.4 1022.41,1923.45 1023.73,1923.98 1025.05,1923.66 1026.36,1924.47 1027.68,1925.15 1029,1925.25 1030.32,1925.46 1031.64,1925.62 1032.95,1925.49 1034.27,1925.66 1035.59,1925.28 1036.91,1926.01 1038.23,1925.93 1039.54,1925.34 1040.86,1925.53 1042.18,1925.5 1043.5,1925.31 1044.82,1925.59 1046.13,1925.99 1047.45,1927.17 1048.77,1927.54 1050.09,1927.24 1051.41,1927.38 1052.72,1927.84 1054.04,1927.8 1055.36,1927.87 1056.68,1927.81 1058,1928.01 1059.31,1927.94 1060.63,1928.34 1061.95,1927.79 1063.27,1927.79 1064.59,1928.15 1065.9,1928.12 1067.22,1928.33 1068.54,1928.44 1069.86,1928.85 1071.18,1929.12 1072.49,1929.42 1073.81,1929.68 1075.13,1929.62 1076.45,1930 1077.77,1930.3 1079.08,1930.29 1080.4,1930.77 1081.72,1930.83 1083.04,1930.8 1084.36,1930.77 1085.67,1930.89 1086.99,1931.94 1088.31,1931.82 1089.63,1931.65 1090.95,1931.92 1092.26,1931.6 1093.58,1931.69 1094.9,1932.06 1096.22,1932.22 1097.54,1932.19 1098.85,1932.41 1100.17,1932.57 1101.49,1932.29 1102.81,1931.77 1104.13,1932.09 1105.44,1932.42 1106.76,1931.91 1108.08,1932.17 1109.4,1932.39 1110.72,1932.57" fill="none" stroke="#bdbdbd" stroke-width="5.8" stroke-linejoin="round" stroke-linecap="round"/>
<polyline points="699.5,1942.7 700.82,1942.78 702.14,1941.98 703.45,1942.22 704.77,1942.76 706.09,1942.62 707.41,1942.55 708.73,1942.3 710.04,1942.46 711.36,1941.96 712.68,1941.83 714,1941.04 715.32,1941.06 716.63,1941.18 717.95,1940.88 719.27,1940.82 720.59,1941.33 721.91,1941.22 723.22,1941.63 724.54,1941.33 725.86,1941.81 727.18,1942.75 728.5,1944.19 729.81,1943.74 731.13,1937.26 732.45,1927.35 733.77,1918.04 735.09,1909.38 736.4,1899.09 737.72,1889.18 739.04,1879.88 740.36,1871.35 741.68,1865.11 742.99,1859.2 744.31,1853.94 745.63,1849.43 746.95,1845.17 748.27,1840.18 749.58,1833.96 750.9,1828.03 752.22,1821.93 753.54,1816.95 754.86,1813.03 756.17,1810.28 757.49,1808.43 758.81,1807.25 760.13,1806.44 761.45,1805.95 762.76,1806.23 764.08,1806.95 765.4,1807.65 766.72,1808.47 768.04,1809.65 769.35,1809.98 770.67,1810.51 771.99,1809.97 773.31,1810.18 774.63,1810.56 775.94,1810.19 777.26,1809.95 778.58,1809.39 779.9,1809.12 781.22,1808.27 782.53,1808.43 783.85,1808.24 785.17,1808.35 786.49,1808.5 787.81,1810.94 789.12,1813.6 790.44,1815.59 791.76,1816.4 793.08,1816.95 794.4,1817.36 795.71,1818.34 797.03,1818.36 798.35,1818.97 799.67,1819.25 800.99,1819.96 802.3,1819.86 803.62,1820.71 804.94,1821.39 806.26,1821.88 807.58,1822.99 808.89,1823.7 810.21,1824.33 811.53,1824.83 812.85,1825.62 814.17,1825.7 815.48,1825.89 816.8,1826.46 818.12,1827.54 819.44,1828.4 820.76,1828.79 822.07,1829.4 823.39,1830.47 824.71,1831.96 826.03,1832.81 827.35,1833.82 828.66,1835.09 829.98,1836.43 831.3,1838.17 832.62,1839.89 833.94,1841.46 835.25,1842.44 836.57,1843.49 837.89,1844.87 839.21,1846.05 840.53,1846.65 841.84,1848.21 843.16,1849.42 844.48,1850.86 845.8,1851.13 847.12,1852.33 848.43,1852.88 849.75,1853.72 851.07,1855.07 852.39,1855.93 853.71,1856.95 855.02,1857.86 856.34,1858.88 857.66,1859.74 858.98,1860.63 860.3,1861.98 861.61,1862.75 862.93,1864.06 864.25,1865.5 865.57,1866.54 866.89,1867.74 868.2,1868.81 869.52,1870 870.84,1870.48 872.16,1871 873.48,1872.1 874.79,1872.47 876.11,1873.41 877.43,1874.55 878.75,1875.73 880.07,1876.36 881.38,1877.18 882.7,1877.87 884.02,1877.65 885.34,1878.25 886.66,1879.22 887.97,1880.5 889.29,1881.46 890.61,1882.48 891.93,1883.42 893.25,1884.92 894.56,1885.44 895.88,1886.41 897.2,1886.19 898.52,1886.95 899.84,1887.28 901.15,1887.87 902.47,1888.84 903.79,1889.43 905.11,1890.25 906.43,1891.03 907.74,1891.67 909.06,1892.97 910.38,1893.01 911.7,1893.43 913.02,1894.12 914.33,1894.26 915.65,1895.3 916.97,1896.8 918.29,1897.2 919.61,1898.02 920.92,1898.52 922.24,1899.21 923.56,1899.76 924.88,1900.58 926.2,1901.04 927.51,1901.23 928.83,1901.61 930.15,1901.53 931.47,1901.94 932.79,1902.43 934.1,1902.99 935.42,1903.43 936.74,1904.12 938.06,1905.17 939.38,1906.07 940.69,1907.16 942.01,1907.63 943.33,1907.97 944.65,1908.21 945.97,1908.26 947.28,1908.92 948.6,1910.12 949.92,1910.71 951.24,1911.05 952.56,1912.05 953.87,1912.74 955.19,1913.34 956.51,1912.83 957.83,1912.78 959.15,1913.41 960.46,1913.92 961.78,1914.21 963.1,1914.46 964.42,1914.73 965.74,1915.49 967.05,1916.11 968.37,1915.88 969.69,1916.22 971.01,1916.18 972.33,1916.55 973.64,1916.82 974.96,1917.09 976.28,1917.54 977.6,1917.47 978.92,1917.56 980.23,1918 981.55,1918.33 982.87,1918.16 984.19,1918.94 985.51,1919.02 986.82,1919.03 988.14,1918.91 989.46,1918.9 990.78,1919.7 992.1,1919.87 993.41,1920.45 994.73,1920.57 996.05,1920.94 997.37,1921.04 998.69,1921.7 1000,1922.01 1001.32,1922.17 1002.64,1922.34 1003.96,1922.39 1005.28,1922.15 1006.59,1922.93 1007.91,1923.28 1009.23,1924.2 1010.55,1924.23 1011.87,1923.95 1013.18,1924.22 1014.5,1924.14 1015.82,1923.8 1017.14,1924.1 1018.46,1924.22 1019.77,1924.33 1021.09,1925.03 1022.41,1925.82 1023.73,1926.24 1025.05,1926.78 1026.36,1926.76 1027.68,1927.75 1029,1928.55 1030.32,1929.19 1031.64,1929.05 1032.95,1929.11 1034.27,1929.16 1035.59,1929.29 1036.91,1929.47 1038.23,1929.74 1039.54,1929.66 1040.86,1929.75 1042.18,1929.67 1043.5,1929.75 1044.82,1929.78 1046.13,1929.85 1047.45,1929.23 1048.77,1928.71 1050.09,1928.61 1051.41,1929.59 1052.72,1929.58 1054.04,1929.32 1055.36,1929.44 1056.68,1930.23 1058,1930.52 1059.31,1929.76 1060.63,1930.11 1061.95,1930.86 1063.27,1931.08 1064.59,1930.87 1065.9,1931.03 1067.22,1931.61 1068.54,1932.47 1069.86,1932.4 1071.18,1933 1072.49,1932.61 1073.81,1932.21 1075.13,1932.17 1076.45,1932.28 1077.77,1932.42 1079.08,1932.59 1080.4,1932.93 1081.72,1933.29 1083.04,1933.62 1084.36,1933.04 1085.67,1932.47 1086.99,1932.61 1088.31,1932.56 1089.63,1932.83 1090.95,1932.92 1092.26,1932.58 1093.58,1932.42 1094.9,1932.3 1096.22,1932.31 1097.54,1932.29 1098.85,1932.82 1100.17,1932.78 1101.49,1933.6 1102.81,1933.65 1104.13,1933.66 1105.44,1933.65 1106.76,1934.47 1108.08,1934.19 1109.4,1934.72 1110.72,1935.61" fill="none" stroke="#bdbdbd" stroke-width="5.8" stroke-linejoin="round" stroke-linecap="round"/>
<polyline points="699.5,1942.22 700.82,1941.88 702.14,1941.71 703.45,1941.36 704.77,1941.79 706.09,1942.11 707.41,1942.49 708.73,1942.79 710.04,1942.34 711.36,1942.26 712.68,1942.59 714,1942.86 715.32,1942.4 716.63,1942.8 717.95,1942.93 719.27,1942.69 720.59,1942.23 721.91,1941.83 723.22,1942.1 724.54,1942.59 725.86,1942.96 727.18,1943.29 728.5,1944.25 729.81,1944.54 731.13,1942.35 732.45,1935.43 733.77,1927.03 735.09,1918.88 736.4,1910.87 737.72,1902.17 739.04,1893.9 740.36,1885.37 741.68,1878.57 742.99,1871.52 744.31,1865.01 745.63,1858.17 746.95,1851.17 748.27,1844.61 749.58,1838.5 750.9,1833.33 752.22,1830.29 753.54,1828.22 754.86,1826.74 756.17,1825.16 757.49,1823.78 758.81,1822.78 760.13,1821.06 761.45,1820.31 762.76,1820.21 764.08,1819.41 765.4,1819.62 766.72,1819.23 768.04,1818.72 769.35,1819.04 770.67,1819.4 771.99,1818.95 773.31,1819.57 774.63,1819.98 775.94,1820.24 777.26,1820.52 778.58,1820.12 779.9,1820.35 781.22,1821.2 782.53,1820.89 783.85,1821.01 785.17,1821.48 786.49,1821.31 787.81,1821.57 789.12,1821.96 790.44,1822.87 791.76,1823.55 793.08,1823.71 794.4,1824.27 795.71,1825.21 797.03,1826.55 798.35,1827.2 799.67,1828 800.99,1828.54 802.3,1829.23 803.62,1829.89 804.94,1830.86 806.26,1831.66 807.58,1832.73 808.89,1833.46 810.21,1834.17 811.53,1834.88 812.85,1835.98 814.17,1836.63 815.48,1837.49 816.8,1838.65 818.12,1839.41 819.44,1839.99 820.76,1841.02 822.07,1841.34 823.39,1842.15 824.71,1842.71 826.03,1843.47 827.35,1845.09 828.66,1846.66 829.98,1847.39 831.3,1848.52 832.62,1849.73 833.94,1850.63 835.25,1851.75 836.57,1853.18 837.89,1855.21 839.21,1856.41 840.53,1858.75 841.84,1859.56 843.16,1860.71 844.48,1861.24 845.8,1861.95 847.12,1862.5 848.43,1862.61 849.75,1863.46 851.07,1864.75 852.39,1865.45 853.71,1866.75 855.02,1867.43 856.34,1868.23 857.66,1868.6 858.98,1869.41 860.3,1869.89 861.61,1871.06 862.93,1871.56 864.25,1872.28 865.57,1872.61 866.89,1872.55 868.2,1873.17 869.52,1873.75 870.84,1874.98 872.16,1876.07 873.48,1876.29 874.79,1877.8 876.11,1878.72 877.43,1879.38 878.75,1879.89 880.07,1880.96 881.38,1881.79 882.7,1882.41 884.02,1882.79 885.34,1883.65 886.66,1884.61 887.97,1885.02 889.29,1885.55 890.61,1886.65 891.93,1887.38 893.25,1888.27 894.56,1889.07 895.88,1890.45 897.2,1891.07 898.52,1891.8 899.84,1892.93 901.15,1893.58 902.47,1894.52 903.79,1895.32 905.11,1895.98 906.43,1895.81 907.74,1896.1 909.06,1897.2 910.38,1897.44 911.7,1898.27 913.02,1898.51 914.33,1899.02 915.65,1899.35 916.97,1899.83 918.29,1900.83 919.61,1901.81 920.92,1902.48 922.24,1903.11 923.56,1903.42 924.88,1903.34 926.2,1904.1 927.51,1904.22 928.83,1904.89 930.15,1905.51 931.47,1906.65 932.79,1907.33 934.1,1907.79 935.42,1908.55 936.74,1909.45 938.06,1910.02 939.38,1910.2 940.69,1910.49 942.01,1911.35 943.33,1911.6 944.65,1912.26 945.97,1912.97 947.28,1913 948.6,1913.41 949.92,1913.92 951.24,1914.49 952.56,1916.07 953.87,1916.09 955.19,1915.98 956.51,1917.34 957.83,1918.55 959.15,1918.89 960.46,1918.71 961.78,1918.83 963.1,1918.91 964.42,1919.5 965.74,1920.11 967.05,1920.19 968.37,1920.9 969.69,1920.65 971.01,1920.68 972.33,1921.02 973.64,1921.58 974.96,1921.28 976.28,1921.64 977.6,1922.59 978.92,1923.12 980.23,1923.99 981.55,1923.81 982.87,1924.37 984.19,1924.52 985.51,1924.51 986.82,1924.26 988.14,1925.02 989.46,1924.99 990.78,1925.37 992.1,1925.61 993.41,1926.59 994.73,1926.65 996.05,1926.68 997.37,1926.7 998.69,1926.65 1000,1927.12 1001.32,1927.85 1002.64,1927.72 1003.96,1928.33 1005.28,1927.5 1006.59,1927.86 1007.91,1928.78 1009.23,1928.59 1010.55,1928.79 1011.87,1929.2 1013.18,1929.5 1014.5,1929.71 1015.82,1930.31 1017.14,1929.98 1018.46,1929.67 1019.77,1929.83 1021.09,1930.27 1022.41,1930.31 1023.73,1930.1 1025.05,1930.16 1026.36,1930.48 1027.68,1930.56 1029,1931.21 1030.32,1931.06 1031.64,1930.74 1032.95,1930.72 1034.27,1930.68 1035.59,1930.82 1036.91,1931.59 1038.23,1931.32 1039.54,1931.17 1040.86,1931.85 1042.18,1932.18 1043.5,1932.11 1044.82,1932.18 1046.13,1932.8 1047.45,1933.34 1048.77,1933.86 1050.09,1933.8 1051.41,1933.56 1052.72,1933.4 1054.04,1933.66 1055.36,1933.69 1056.68,1934 1058,1933.72 1059.31,1933.86 1060.63,1934.12 1061.95,1933.8 1063.27,1933.99 1064.59,1934.26 1065.9,1934.74 1067.22,1934.82 1068.54,1934.35 1069.86,1934.88 1071.18,1934.55 1072.49,1935.07 1073.81,1935.42 1075.13,1935.07 1076.45,1935.48 1077.77,1935.61 1079.08,1935.76 1080.4,1935.3 1081.72,1935.19 1083.04,1935.46 1084.36,1935.66 1085.67,1935.56 1086.99,1935.87 1088.31,1935.66 1089.63,1935.33 1090.95,1935.2 1092.26,1935.71 1093.58,1935.29 1094.9,1935.44 1096.22,1935.04 1097.54,1935.05 1098.85,1935.31 1100.17,1936.13 1101.49,1935.56 1102.81,1935.99 1104.13,1935.94 1105.44,1935.72 1106.76,1935.38 1108.08,1935.95 1109.4,1935.5 1110.72,1935.96" fill="none" stroke="#bdbdbd" stroke-width="5.8" stroke-linejoin="round" stroke-linecap="round"/>
<polyline points="699.5,1942.28 700.82,1942.25 702.14,1942.33 703.45,1942.54 704.77,1942.36 706.09,1942.59 707.41,1942.21 708.73,1942.23 710.04,1942.24 711.36,1942.22 712.68,1942.33 714,1941.98 715.32,1941.83 716.63,1941.3 717.95,1941.65 719.27,1941.27 720.59,1941.55 721.91,1941.56 723.22,1943.74 724.54,1946.12 725.86,1947.23 727.18,1943.64 728.5,1928.88 729.81,1890.33 731.13,1836.15 732.45,1792.85 733.77,1755.74 735.09,1732.26 736.4,1720.58 737.72,1713.11 739.04,1709.27 740.36,1707.87 741.68,1708.46 742.99,1710.73 744.31,1712.61 745.63,1714.67 746.95,1718.34 748.27,1720.93 749.58,1721.66 750.9,1720.83 752.22,1719.33 753.54,1719.73 754.86,1720.7 756.17,1720.23 757.49,1720.26 758.81,1719.47 760.13,1719.12 761.45,1718.98 762.76,1718.98 764.08,1719.74 765.4,1720.73 766.72,1720.87 768.04,1721.47 769.35,1722.92 770.67,1724.12 771.99,1724.82 773.31,1725.63 774.63,1727.26 775.94,1729.3 777.26,1730.7 778.58,1732.12 779.9,1733.57 781.22,1734.54 782.53,1735.36 783.85,1735.7 785.17,1736.67 786.49,1737.68 787.81,1738.69 789.12,1739.38 790.44,1740.19 791.76,1742.14 793.08,1743.44 794.4,1744.61 795.71,1746.1 797.03,1747.14 798.35,1748.53 799.67,1749.45 800.99,1750.64 802.3,1752.03 803.62,1753.2 804.94,1754.16 806.26,1755.52 807.58,1756.8 808.89,1757.94 810.21,1758.33 811.53,1759.63 812.85,1760.56 814.17,1762.16 815.48,1763.46 816.8,1764.9 818.12,1766.37 819.44,1767.84 820.76,1769.26 822.07,1771.17 823.39,1772.42 824.71,1773.95 826.03,1775.97 827.35,1777.46 828.66,1779.34 829.98,1781.24 831.3,1783.16 832.62,1785.23 833.94,1787.45 835.25,1788.56 836.57,1789.5 837.89,1790.25 839.21,1790.45 840.53,1791.35 841.84,1792.21 843.16,1792.93 844.48,1793.74 845.8,1794.79 847.12,1796.12 848.43,1797.59 849.75,1799 851.07,1800 852.39,1801.33 853.71,1802.99 855.02,1804.3 856.34,1805.95 857.66,1807.66 858.98,1808.63 860.3,1809.71 861.61,1810.28 862.93,1811.56 864.25,1812.53 865.57,1813.92 866.89,1815.32 868.2,1815.55 869.52,1816.49 870.84,1817.6 872.16,1819.09 873.48,1819.99 874.79,1821.6 876.11,1822.45 877.43,1823.4 878.75,1824.74 880.07,1825.63 881.38,1826.65 882.7,1827.75 884.02,1828.42 885.34,1829.1 886.66,1829.99 887.97,1830.96 889.29,1831.48 890.61,1832.62 891.93,1833.69 893.25,1834.52 894.56,1835.83 895.88,1836.6 897.2,1837.21 898.52,1838.03 899.84,1838.17 901.15,1839.53 902.47,1840.52 903.79,1841.72 905.11,1842.49 906.43,1843.47 907.74,1844.54 909.06,1846.09 910.38,1846.95 911.7,1847.95 913.02,1849.98 914.33,1851.25 915.65,1853.16 916.97,1854.96 918.29,1856.37 919.61,1858.18 920.92,1859.31 922.24,1860.72 923.56,1861.88 924.88,1862.55 926.2,1863.18 927.51,1863.63 928.83,1864.79 930.15,1865.97 931.47,1867.2 932.79,1868.24 934.1,1868.71 935.42,1869.43 936.74,1869.5 938.06,1869.83 939.38,1870.1 940.69,1871.11 942.01,1872.72 943.33,1873.55 944.65,1874.03 945.97,1874.76 947.28,1875.57 948.6,1876.69 949.92,1877.22 951.24,1877.02 952.56,1877.19 953.87,1877.94 955.19,1878.82 956.51,1879.02 957.83,1879.29 959.15,1880.23 960.46,1880.23 961.78,1880.72 963.1,1881.27 964.42,1881.55 965.74,1882.13 967.05,1883.04 968.37,1884.34 969.69,1885.35 971.01,1885.26 972.33,1886.06 973.64,1886.58 974.96,1887.09 976.28,1887.73 977.6,1888.07 978.92,1889.42 980.23,1889.51 981.55,1890.37 982.87,1890.86 984.19,1891.4 985.51,1891.87 986.82,1891.77 988.14,1892.46 989.46,1892.98 990.78,1892.99 992.1,1893.69 993.41,1894.63 994.73,1894.75 996.05,1894.98 997.37,1895.47 998.69,1895.98 1000,1895.85 1001.32,1895.62 1002.64,1896.23 1003.96,1896.76 1005.28,1896.81 1006.59,1897.4 1007.91,1897.7 1009.23,1898.09 1010.55,1898.11 1011.87,1897.96 1013.18,1898.78 1014.5,1899.7 1015.82,1900.34 1017.14,1901.11 1018.46,1901.5 1019.77,1901.4 1021.09,1902.18 1022.41,1902.18 1023.73,1902.77 1025.05,1902.51 1026.36,1902.7 1027.68,1902.59 1029,1903.05 1030.32,1903.38 1031.64,1903.26 1032.95,1903.35 1034.27,1903.54 1035.59,1903.62 1036.91,1903.66 1038.23,1904.42 1039.54,1905.1 1040.86,1905.87 1042.18,1906.2 1043.5,1906.32 1044.82,1906.69 1046.13,1906.84 1047.45,1907.09 1048.77,1907.12 1050.09,1908.08 1051.41,1908.65 1052.72,1909.13 1054.04,1909.48 1055.36,1910.03 1056.68,1910.08 1058,1909.83 1059.31,1909.49 1060.63,1909.79 1061.95,1909.7 1063.27,1910.01 1064.59,1910.1 1065.9,1910.39 1067.22,1910.08 1068.54,1910.79 1069.86,1911.82 1071.18,1911.82 1072.49,1912.14 1073.81,1912.81 1075.13,1912.84 1076.45,1913.21 1077.77,1914.05 1079.08,1914.45 1080.4,1914.54 1081.72,1914.41 1083.04,1914.65 1084.36,1914.88 1085.67,1914.92 1086.99,1915.25 1088.31,1915.47 1089.63,1914.88 1090.95,1914.89 1092.26,1914.64 1093.58,1914.94 1094.9,1914.27 1096.22,1914.37 1097.54,1914.87 1098.85,1914.64 1100.17,1914.44 1101.49,1914.61 1102.81,1914.79 1104.13,1915.31 1105.44,1916.13 1106.76,1915.62 1108.08,1915.45 1109.4,1915.48 1110.72,1915.38" fill="none" stroke="#000" stroke-width="5.4" stroke-linejoin="round" stroke-linecap="round"/>
<polyline points="699.5,1942.22 700.82,1942.14 702.14,1941.92 703.45,1942 704.77,1942.06 706.09,1942.65 707.41,1943.19 708.73,1942.98 710.04,1943.56 711.36,1943.19 712.68,1943.23 714,1943.24 715.32,1943.49 716.63,1943.5 717.95,1943.58 719.27,1943.47 720.59,1943.4 721.91,1943.47 723.22,1943.75 724.54,1945.98 725.86,1947.71 727.18,1946.23 728.5,1938.69 729.81,1919.12 731.13,1877.19 732.45,1833.8 733.77,1807.24 735.09,1789.51 736.4,1776.77 737.72,1765.39 739.04,1758.36 740.36,1753.39 741.68,1747.17 742.99,1743.39 744.31,1753.68 745.63,1764.13 746.95,1760.11 748.27,1753.51 749.58,1750.59 750.9,1750.47 752.22,1750.73 753.54,1750.26 754.86,1750.94 756.17,1750.33 757.49,1750.61 758.81,1752.24 760.13,1753.75 761.45,1756.08 762.76,1757.17 764.08,1757.73 765.4,1758.38 766.72,1758.77 768.04,1759.01 769.35,1759.39 770.67,1759.29 771.99,1759.02 773.31,1759.28 774.63,1760.13 775.94,1761.07 777.26,1761.98 778.58,1762.77 779.9,1763.62 781.22,1765.03 782.53,1765.44 783.85,1767.05 785.17,1768.03 786.49,1768.87 787.81,1769.85 789.12,1770.9 790.44,1772.31 791.76,1773.06 793.08,1774.11 794.4,1775.54 795.71,1776.52 797.03,1777.29 798.35,1778.52 799.67,1779.36 800.99,1780.6 802.3,1780.48 803.62,1781.64 804.94,1782.05 806.26,1782.28 807.58,1782.91 808.89,1783.64 810.21,1784.38 811.53,1785.75 812.85,1786.88 814.17,1788.08 815.48,1788.66 816.8,1790.1 818.12,1791.17 819.44,1792.66 820.76,1794.24 822.07,1795.11 823.39,1796.07 824.71,1797.36 826.03,1798.63 827.35,1799.79 828.66,1801.08 829.98,1802.58 831.3,1803.25 832.62,1804.51 833.94,1806.09 835.25,1807.46 836.57,1808.43 837.89,1808.6 839.21,1809.02 840.53,1810.06 841.84,1811.72 843.16,1812.89 844.48,1814.23 845.8,1815.26 847.12,1816 848.43,1816.64 849.75,1817.79 851.07,1818.96 852.39,1819.74 853.71,1821.23 855.02,1822.03 856.34,1823.04 857.66,1823.9 858.98,1825.45 860.3,1826.35 861.61,1827.29 862.93,1829.1 864.25,1830.48 865.57,1832.43 866.89,1833.34 868.2,1833.64 869.52,1834.65 870.84,1835.77 872.16,1837.06 873.48,1837.79 874.79,1838.57 876.11,1839.6 877.43,1840.94 878.75,1841.85 880.07,1842.65 881.38,1843.12 882.7,1843.75 884.02,1844.43 885.34,1845.17 886.66,1845.85 887.97,1846.75 889.29,1848.27 890.61,1849.31 891.93,1849.86 893.25,1850.74 894.56,1851.79 895.88,1852.53 897.2,1853.57 898.52,1854.63 899.84,1855.64 901.15,1856.54 902.47,1857.58 903.79,1859.05 905.11,1860.49 906.43,1862.21 907.74,1863.45 909.06,1864.89 910.38,1866.1 911.7,1866.74 913.02,1868 914.33,1868.8 915.65,1869.97 916.97,1870.97 918.29,1872.35 919.61,1873.63 920.92,1874.36 922.24,1875.29 923.56,1875.94 924.88,1876.82 926.2,1878.68 927.51,1879.74 928.83,1880.18 930.15,1880.53 931.47,1881.22 932.79,1882.19 934.1,1883.27 935.42,1883.71 936.74,1884.01 938.06,1884.37 939.38,1884.38 940.69,1885.5 942.01,1886.04 943.33,1886.65 944.65,1887.48 945.97,1888.47 947.28,1888.98 948.6,1889.17 949.92,1889.76 951.24,1890.48 952.56,1890.62 953.87,1891.23 955.19,1891.32 956.51,1892.21 957.83,1893.03 959.15,1893.03 960.46,1892.99 961.78,1893.78 963.1,1894.22 964.42,1894.45 965.74,1895.34 967.05,1895.99 968.37,1896.47 969.69,1896.9 971.01,1897.46 972.33,1898.13 973.64,1898.72 974.96,1898.54 976.28,1899.17 977.6,1900.14 978.92,1899.41 980.23,1899.59 981.55,1899.94 982.87,1900.45 984.19,1900.59 985.51,1900.67 986.82,1901.42 988.14,1902.08 989.46,1903 990.78,1902.92 992.1,1903.71 993.41,1904.05 994.73,1904.53 996.05,1905.42 997.37,1905.54 998.69,1905.66 1000,1906.56 1001.32,1906.63 1002.64,1906.52 1003.96,1907.07 1005.28,1907.03 1006.59,1906.93 1007.91,1906.95 1009.23,1907.79 1010.55,1908.03 1011.87,1908.21 1013.18,1908.73 1014.5,1908.9 1015.82,1909.37 1017.14,1909.03 1018.46,1909.23 1019.77,1909.91 1021.09,1909.61 1022.41,1910.11 1023.73,1910.1 1025.05,1910.01 1026.36,1910.56 1027.68,1909.8 1029,1910.36 1030.32,1910.49 1031.64,1910.25 1032.95,1911.27 1034.27,1911.66 1035.59,1911.64 1036.91,1911.9 1038.23,1912.03 1039.54,1912.31 1040.86,1912.6 1042.18,1912.19 1043.5,1912.52 1044.82,1913.16 1046.13,1913.09 1047.45,1913.28 1048.77,1913.7 1050.09,1914.24 1051.41,1915.04 1052.72,1915.84 1054.04,1915.92 1055.36,1915.95 1056.68,1915.99 1058,1915.93 1059.31,1914.92 1060.63,1915.38 1061.95,1915.38 1063.27,1915.35 1064.59,1915.51 1065.9,1915.81 1067.22,1915.7 1068.54,1915.86 1069.86,1916.16 1071.18,1915.67 1072.49,1915.98 1073.81,1916.32 1075.13,1916.9 1076.45,1917.25 1077.77,1917.26 1079.08,1917.94 1080.4,1918.12 1081.72,1918.38 1083.04,1919.02 1084.36,1918.67 1085.67,1918.72 1086.99,1918.55 1088.31,1918.71 1089.63,1918.63 1090.95,1918.78 1092.26,1918.74 1093.58,1918.6 1094.9,1919.42 1096.22,1919.33 1097.54,1919.36 1098.85,1919.52 1100.17,1920.18 1101.49,1920.36 1102.81,1920.18 1104.13,1920.11 1105.44,1921 1106.76,1921.37 1108.08,1920.92 1109.4,1921.22 1110.72,1921.47" fill="none" stroke="#000" stroke-width="5.4" stroke-linejoin="round" stroke-linecap="round"/>
<polyline points="699.5,1942.46 700.82,1942.95 702.14,1943.08 703.45,1942.87 704.77,1943.21 706.09,1943.91 707.41,1944.3 708.73,1943.74 710.04,1943.14 711.36,1942.95 712.68,1942.77 714,1942.35 715.32,1942.88 716.63,1943.26 717.95,1943.82 719.27,1943.72 720.59,1943.62 721.91,1943.3 723.22,1943.7 724.54,1944.83 725.86,1946.8 727.18,1946.12 728.5,1940 729.81,1927.53 731.13,1907.1 732.45,1878.2 733.77,1853.11 735.09,1837.09 736.4,1824.95 737.72,1814.49 739.04,1804.43 740.36,1796.13 741.68,1790.12 742.99,1786.85 744.31,1785 745.63,1782.76 746.95,1779.48 748.27,1776.05 749.58,1772.72 750.9,1769.76 752.22,1766.47 753.54,1763.39 754.86,1760.63 756.17,1759.34 757.49,1759.25 758.81,1758.41 760.13,1758.16 761.45,1758.25 762.76,1758.54 764.08,1759.02 765.4,1759.8 766.72,1760.62 768.04,1762.37 769.35,1763.72 770.67,1765.11 771.99,1766.1 773.31,1767.41 774.63,1768.44 775.94,1769.86 777.26,1769.93 778.58,1770.95 779.9,1771.93 781.22,1772.02 782.53,1773.34 783.85,1775.12 785.17,1775.44 786.49,1775.87 787.81,1776.51 789.12,1777.31 790.44,1777.86 791.76,1779.44 793.08,1781.32 794.4,1782.48 795.71,1783.03 797.03,1783.99 798.35,1785.27 799.67,1786.37 800.99,1787.35 802.3,1788.79 803.62,1790.3 804.94,1791.64 806.26,1793.34 807.58,1795.33 808.89,1797.38 810.21,1799.15 811.53,1800.89 812.85,1802.23 814.17,1803.69 815.48,1805.42 816.8,1807.15 818.12,1808.48 819.44,1810.16 820.76,1811.66 822.07,1813.69 823.39,1815.35 824.71,1817.24 826.03,1819.36 827.35,1821.7 828.66,1823.29 829.98,1824.63 831.3,1826 832.62,1827.74 833.94,1829.55 835.25,1831.75 836.57,1833.41 837.89,1835.35 839.21,1837.17 840.53,1839.07 841.84,1840.66 843.16,1842.19 844.48,1844.06 845.8,1845.27 847.12,1846.58 848.43,1847.51 849.75,1848.57 851.07,1849.97 852.39,1850.93 853.71,1852.58 855.02,1854.68 856.34,1855.99 857.66,1857.4 858.98,1859.03 860.3,1860.71 861.61,1861.32 862.93,1862.86 864.25,1864.13 865.57,1865.34 866.89,1866.23 868.2,1867.11 869.52,1867.71 870.84,1869.34 872.16,1870.4 873.48,1871.59 874.79,1872.28 876.11,1873.32 877.43,1874.18 878.75,1874.46 880.07,1875.42 881.38,1876.39 882.7,1876.85 884.02,1877.32 885.34,1879 886.66,1880.07 887.97,1881.55 889.29,1882.17 890.61,1883.25 891.93,1884.32 893.25,1884.86 894.56,1885.21 895.88,1885.94 897.2,1887.42 898.52,1888.44 899.84,1889.76 901.15,1889.72 902.47,1890.66 903.79,1892.01 905.11,1892.76 906.43,1892.88 907.74,1894.13 909.06,1895.6 910.38,1896.52 911.7,1897.45 913.02,1898.63 914.33,1899.49 915.65,1901.58 916.97,1902.66 918.29,1903.74 919.61,1904.57 920.92,1904.46 922.24,1903.98 923.56,1903.51 924.88,1903.28 926.2,1902.67 927.51,1902.52 928.83,1902.19 930.15,1902.52 931.47,1903.59 932.79,1905.53 934.1,1907.19 935.42,1908.8 936.74,1909.77 938.06,1910.62 939.38,1911.77 940.69,1912.02 942.01,1912.4 943.33,1912.73 944.65,1913.48 945.97,1913.95 947.28,1914.35 948.6,1914.88 949.92,1915.12 951.24,1915.9 952.56,1916.59 953.87,1916.56 955.19,1917.37 956.51,1917.18 957.83,1917.85 959.15,1918.86 960.46,1919.31 961.78,1920.47 963.1,1920.8 964.42,1921.87 965.74,1921.99 967.05,1922.6 968.37,1923.08 969.69,1922.54 971.01,1922 972.33,1922 973.64,1921.87 974.96,1922.14 976.28,1922.15 977.6,1922.23 978.92,1923.07 980.23,1924.13 981.55,1925.66 982.87,1926.31 984.19,1927.24 985.51,1927.27 986.82,1926.91 988.14,1927.13 989.46,1927.43 990.78,1927.52 992.1,1927.53 993.41,1927.87 994.73,1928 996.05,1928.77 997.37,1928.48 998.69,1928.58 1000,1928.03 1001.32,1928.25 1002.64,1928.22 1003.96,1928.21 1005.28,1928.54 1006.59,1928.65 1007.91,1929.47 1009.23,1930.34 1010.55,1931.13 1011.87,1932.07 1013.18,1932.66 1014.5,1933.68 1015.82,1933.91 1017.14,1934.67 1018.46,1934.69 1019.77,1934.84 1021.09,1934.84 1022.41,1934.59 1023.73,1934.32 1025.05,1933.98 1026.36,1934.24 1027.68,1933.42 1029,1933.3 1030.32,1933.33 1031.64,1933.49 1032.95,1933.2 1034.27,1933.77 1035.59,1934.01 1036.91,1934.14 1038.23,1934.65 1039.54,1935.3 1040.86,1936 1042.18,1936.1 1043.5,1936.41 1044.82,1936.41 1046.13,1936.47 1047.45,1936.41 1048.77,1937.35 1050.09,1937.36 1051.41,1937.91 1052.72,1938.34 1054.04,1938.68 1055.36,1938.75 1056.68,1938.32 1058,1938.12 1059.31,1937.92 1060.63,1938.55 1061.95,1937.88 1063.27,1937.85 1064.59,1937.53 1065.9,1937.53 1067.22,1937.6 1068.54,1938.15 1069.86,1938.21 1071.18,1939.22 1072.49,1939.23 1073.81,1939.55 1075.13,1939.28 1076.45,1939 1077.77,1939.01 1079.08,1938.87 1080.4,1938.96 1081.72,1938.43 1083.04,1938.79 1084.36,1938.58 1085.67,1939.19 1086.99,1938.91 1088.31,1938.77 1089.63,1938.8 1090.95,1938.65 1092.26,1938.41 1093.58,1938.5 1094.9,1938.49 1096.22,1938.08 1097.54,1937.84 1098.85,1937.84 1100.17,1938.6 1101.49,1938.75 1102.81,1939.23 1104.13,1939.89 1105.44,1940.42 1106.76,1940.59 1108.08,1941.18 1109.4,1941.92 1110.72,1942.51" fill="none" stroke="#000" stroke-width="5.4" stroke-linejoin="round" stroke-linecap="round"/>
<polyline points="699.5,1941.95 700.82,1941.68 702.14,1941.99 703.45,1942.21 704.77,1942.17 706.09,1942.67 707.41,1942.42 708.73,1942.85 710.04,1942.89 711.36,1943.41 712.68,1943.36 714,1943.11 715.32,1942.88 716.63,1942.92 717.95,1943.84 719.27,1944.01 720.59,1943.94 721.91,1943.51 723.22,1943.88 724.54,1946.17 725.86,1947.85 727.18,1946.31 728.5,1936.33 729.81,1911.35 731.13,1866.36 732.45,1827.33 733.77,1801.6 735.09,1783.7 736.4,1772.51 737.72,1766.46 739.04,1762.76 740.36,1757.26 741.68,1753.13 742.99,1754.26 744.31,1761.14 745.63,1766.85 746.95,1766.49 748.27,1763.52 749.58,1760.54 750.9,1757.37 752.22,1756.21 753.54,1755.03 754.86,1754.24 756.17,1754.15 757.49,1753.8 758.81,1754.02 760.13,1754.72 761.45,1755.8 762.76,1757.1 764.08,1758.02 765.4,1758.99 766.72,1760.21 768.04,1760.67 769.35,1761.25 770.67,1762.34 771.99,1762.62 773.31,1763.49 774.63,1764.45 775.94,1764.86 777.26,1766.48 778.58,1766.3 779.9,1767.68 781.22,1767.84 782.53,1769.52 783.85,1770.74 785.17,1772.34 786.49,1773.63 787.81,1774.74 789.12,1775.49 790.44,1776.73 791.76,1777.36 793.08,1778.57 794.4,1778.9 795.71,1779.93 797.03,1781.1 798.35,1782.26 799.67,1783.2 800.99,1785.01 802.3,1785.93 803.62,1787.47 804.94,1788.6 806.26,1789.69 807.58,1791.54 808.89,1792.95 810.21,1794.49 811.53,1795.87 812.85,1796.62 814.17,1797.3 815.48,1798.04 816.8,1799.75 818.12,1801.59 819.44,1803.28 820.76,1804.86 822.07,1806.09 823.39,1807.42 824.71,1809.51 826.03,1810.52 827.35,1811.67 828.66,1813.53 829.98,1815.35 831.3,1816.77 832.62,1818.55 833.94,1819.98 835.25,1821.32 836.57,1821.93 837.89,1822.96 839.21,1824.9 840.53,1825.92 841.84,1827.48 843.16,1828.49 844.48,1829.2 845.8,1830.06 847.12,1831.42 848.43,1832.16 849.75,1833.4 851.07,1834.48 852.39,1835.38 853.71,1836.48 855.02,1837.44 856.34,1839.09 857.66,1840.58 858.98,1842.06 860.3,1843.12 861.61,1844.39 862.93,1845.58 864.25,1846.3 865.57,1847.68 866.89,1849.04 868.2,1850.25 869.52,1851.36 870.84,1852 872.16,1852.9 873.48,1854.53 874.79,1855.75 876.11,1857.35 877.43,1857.89 878.75,1858.54 880.07,1860.21 881.38,1860.94 882.7,1861.92 884.02,1862.86 885.34,1863.81 886.66,1864.32 887.97,1864.64 889.29,1865.41 890.61,1865.59 891.93,1865.94 893.25,1866.55 894.56,1866.8 895.88,1866.99 897.2,1868.35 898.52,1869.05 899.84,1869.63 901.15,1870.17 902.47,1870.4 903.79,1871.5 905.11,1872.25 906.43,1873.33 907.74,1873.92 909.06,1875.5 910.38,1876.82 911.7,1877.79 913.02,1878.94 914.33,1880.64 915.65,1882.26 916.97,1883.31 918.29,1885.21 919.61,1886.54 920.92,1888.12 922.24,1888.77 923.56,1889.7 924.88,1890.87 926.2,1891.3 927.51,1892.08 928.83,1892.77 930.15,1893.01 931.47,1893.2 932.79,1893.82 934.1,1894.67 935.42,1895.15 936.74,1896.03 938.06,1896.36 939.38,1897.2 940.69,1897.82 942.01,1898.4 943.33,1898.5 944.65,1898.81 945.97,1899.29 947.28,1899.51 948.6,1899.99 949.92,1900.16 951.24,1900.19 952.56,1900.33 953.87,1900.76 955.19,1900.59 956.51,1900.87 957.83,1901.51 959.15,1901.93 960.46,1901.98 961.78,1902.71 963.1,1903.18 964.42,1903.72 965.74,1904.17 967.05,1904.61 968.37,1905.02 969.69,1904.98 971.01,1904.68 972.33,1905.32 973.64,1905.64 974.96,1905.56 976.28,1906.14 977.6,1906.92 978.92,1907.35 980.23,1907.93 981.55,1908.32 982.87,1908.99 984.19,1910.12 985.51,1910.79 986.82,1911.58 988.14,1911.9 989.46,1912.97 990.78,1913.62 992.1,1913.99 993.41,1914.3 994.73,1915.52 996.05,1915.56 997.37,1915.85 998.69,1916.42 1000,1917.03 1001.32,1918.28 1002.64,1918.65 1003.96,1919.11 1005.28,1919.06 1006.59,1919.33 1007.91,1918.8 1009.23,1919.16 1010.55,1919.07 1011.87,1917.53 1013.18,1916.61 1014.5,1916.17 1015.82,1915.47 1017.14,1915.09 1018.46,1915.31 1019.77,1915.45 1021.09,1916.3 1022.41,1916.72 1023.73,1917.07 1025.05,1917.67 1026.36,1917.89 1027.68,1918.33 1029,1918.96 1030.32,1919.51 1031.64,1920.66 1032.95,1921.5 1034.27,1921.91 1035.59,1922.61 1036.91,1922.79 1038.23,1922.87 1039.54,1922.78 1040.86,1923.37 1042.18,1922.95 1043.5,1922.74 1044.82,1922.42 1046.13,1922.39 1047.45,1922.04 1048.77,1922.98 1050.09,1923.61 1051.41,1923.92 1052.72,1924.78 1054.04,1924.7 1055.36,1924.75 1056.68,1924.84 1058,1926.11 1059.31,1926.14 1060.63,1926.68 1061.95,1927.27 1063.27,1927.35 1064.59,1928.08 1065.9,1928.23 1067.22,1928.66 1068.54,1929.09 1069.86,1928.48 1071.18,1928.51 1072.49,1928.03 1073.81,1927.93 1075.13,1927.35 1076.45,1928.02 1077.77,1927.68 1079.08,1927.61 1080.4,1927.24 1081.72,1927.05 1083.04,1926.94 1084.36,1926.89 1085.67,1926.21 1086.99,1926.14 1088.31,1926.33 1089.63,1926.44 1090.95,1926.8 1092.26,1927.02 1093.58,1927.67 1094.9,1927.7 1096.22,1927.8 1097.54,1927.58 1098.85,1928.14 1100.17,1928.8 1101.49,1929.23 1102.81,1928.99 1104.13,1929.34 1105.44,1928.9 1106.76,1929.43 1108.08,1929.63 1109.4,1929.95 1110.72,1929.82" fill="none" stroke="#000" stroke-width="5.4" stroke-linejoin="round" stroke-linecap="round"/>
<line x1="699.5" y1="1562.6" x2="699.5" y2="1999.3" stroke="#000" stroke-width="2.2" stroke-linecap="butt"/>
<line x1="699.5" y1="1985.1" x2="1122.36" y2="1985.1" stroke="#000" stroke-width="2.2" stroke-linecap="butt"/>
<line x1="685.3" y1="1942.5" x2="699.5" y2="1942.5" stroke="#000" stroke-width="2.2" stroke-linecap="butt"/>
<text transform="translate(667.5,1954.76) scale(0.98,1)" font-size="37.5" text-anchor="end">0</text>
<line x1="685.3" y1="1847.8" x2="699.5" y2="1847.8" stroke="#000" stroke-width="2.2" stroke-linecap="butt"/>
<text transform="translate(667.5,1860.06) scale(0.98,1)" font-size="37.5" text-anchor="end">2</text>
<line x1="685.3" y1="1753.1" x2="699.5" y2="1753.1" stroke="#000" stroke-width="2.2" stroke-linecap="butt"/>
<text transform="translate(667.5,1765.36) scale(0.98,1)" font-size="37.5" text-anchor="end">4</text>
<line x1="685.3" y1="1658.4" x2="699.5" y2="1658.4" stroke="#000" stroke-width="2.2" stroke-linecap="butt"/>
<text transform="translate(667.5,1670.66) scale(0.98,1)" font-size="37.5" text-anchor="end">6</text>
<line x1="685.3" y1="1563.7" x2="699.5" y2="1563.7" stroke="#000" stroke-width="2.2" stroke-linecap="butt"/>
<text transform="translate(667.5,1575.96) scale(0.98,1)" font-size="37.5" text-anchor="end">8</text>
<text transform="translate(699,2050.2) scale(0.98,1)" font-size="37.5" text-anchor="middle">0</text>
<line x1="804.94" y1="1985.1" x2="804.94" y2="1999.3" stroke="#000" stroke-width="2.2" stroke-linecap="butt"/>
<text transform="translate(804.44,2050.2) scale(0.98,1)" font-size="37.5" text-anchor="middle">40</text>
<line x1="910.38" y1="1985.1" x2="910.38" y2="1999.3" stroke="#000" stroke-width="2.2" stroke-linecap="butt"/>
<text transform="translate(909.88,2050.2) scale(0.98,1)" font-size="37.5" text-anchor="middle">80</text>
<line x1="1015.82" y1="1985.1" x2="1015.82" y2="1999.3" stroke="#000" stroke-width="2.2" stroke-linecap="butt"/>
<text transform="translate(1015.32,2050.2) scale(0.98,1)" font-size="37.5" text-anchor="middle">120</text>
<line x1="1121.26" y1="1985.1" x2="1121.26" y2="1999.3" stroke="#000" stroke-width="2.2" stroke-linecap="butt"/>
<text transform="translate(1120.76,2050.2) scale(0.98,1)" font-size="37.5" text-anchor="middle">160</text>
<text transform="translate(910,1524.9) scale(0.95,1)" font-size="42.7" text-anchor="middle" font-weight="bold">CPFX</text>
<text transform="translate(601.2,1530.6) scale(1,1)" font-size="34" text-anchor="start">(x10<tspan font-size="21.76" dy="-17.34">2</tspan><tspan dy="17.34">)</tspan></text>
<text transform="translate(607.7,1774) rotate(-90) scale(1.03,1.07)" font-size="36" text-anchor="middle">RLU</text>
<text transform="translate(910.38,2124.2) scale(1.05,1)" font-size="36" text-anchor="middle">Time (s)</text>
<polyline points="1277,1942.17 1278.31,1941.91 1279.63,1941.91 1280.94,1942.51 1282.26,1942.54 1283.57,1942.88 1284.89,1942.68 1286.2,1943.03 1287.52,1942.61 1288.83,1942.4 1290.14,1941.64 1291.46,1941.52 1292.77,1941.36 1294.09,1941.62 1295.4,1941.95 1296.72,1941.47 1298.03,1941.55 1299.35,1941.47 1300.66,1941.49 1301.98,1940.23 1303.29,1938.37 1304.6,1935.91 1305.92,1933.06 1307.23,1930.11 1308.55,1929.07 1309.86,1928.52 1311.18,1928.65 1312.49,1929.6 1313.81,1930.96 1315.12,1933.14 1316.43,1935.43 1317.75,1938.08 1319.06,1940 1320.38,1941.74 1321.69,1942.45 1323.01,1942.57 1324.32,1942.96 1325.64,1943.54 1326.95,1944.27 1328.27,1944.2 1329.58,1944.09 1330.89,1944.21 1332.21,1945.05 1333.52,1945.2 1334.84,1945.43 1336.15,1945.54 1337.47,1945.21 1338.78,1945.38 1340.1,1945.22 1341.41,1944.52 1342.72,1944.67 1344.04,1944.52 1345.35,1944.14 1346.67,1944.26 1347.98,1944.68 1349.3,1944.39 1350.61,1943.93 1351.93,1944.47 1353.24,1944.43 1354.56,1944.47 1355.87,1943.86 1357.18,1944.4 1358.5,1944.39 1359.81,1944.82 1361.13,1945.04 1362.44,1944.87 1363.76,1944.88 1365.07,1944.83 1366.39,1945 1367.7,1945.47 1369.02,1944.99 1370.33,1944.4 1371.64,1944.46 1372.96,1944.64 1374.27,1944.21 1375.59,1944.15 1376.9,1944.21 1378.22,1944.05 1379.53,1944.57 1380.85,1945.02 1382.16,1945.07 1383.47,1945.58 1384.79,1945.62 1386.1,1945.61 1387.42,1945.5 1388.73,1945.45 1390.05,1946.12 1391.36,1946.26 1392.68,1946.23 1393.99,1946 1395.31,1945.83 1396.62,1946.17 1397.93,1946.46 1399.25,1947.09 1400.56,1947.39 1401.88,1947.8 1403.19,1948.35 1404.51,1948.5 1405.82,1948.19 1407.14,1947.78 1408.45,1947.92 1409.76,1948.23 1411.08,1948.38 1412.39,1948.38 1413.71,1948.52 1415.02,1948.72 1416.34,1949.15 1417.65,1949.57 1418.97,1949.08 1420.28,1949.11 1421.6,1949.84 1422.91,1949.9 1424.22,1950.53 1425.54,1950.72 1426.85,1951.16 1428.17,1951.26 1429.48,1951.65 1430.8,1951.88 1432.11,1951.8 1433.43,1951.69 1434.74,1952.43 1436.05,1951.97 1437.37,1952.77 1438.68,1953.24 1440,1953.3 1441.31,1952.98 1442.63,1952.93 1443.94,1953.05 1445.26,1952.6 1446.57,1952.57 1447.88,1952.58 1449.2,1952.29 1450.51,1952.58 1451.83,1951.81 1453.14,1951.48 1454.46,1951.66 1455.77,1951.79 1457.09,1951.87 1458.4,1951.73 1459.72,1951.73 1461.03,1952.17 1462.34,1952.62 1463.66,1952.26 1464.97,1952.83 1466.29,1953.13 1467.6,1952.68 1468.92,1953.22 1470.23,1952.97 1471.55,1952.58 1472.86,1951.78 1474.17,1951.48 1475.49,1951.63 1476.8,1952.2 1478.12,1951.83 1479.43,1951.57 1480.75,1951.22 1482.06,1950.94 1483.38,1951.25 1484.69,1951.65 1486.01,1952.26 1487.32,1952.24 1488.63,1952.08 1489.95,1952.47 1491.26,1952.5 1492.58,1952.26 1493.89,1951.85 1495.21,1952.32 1496.52,1952.55 1497.84,1953 1499.15,1953.39 1500.46,1953.08 1501.78,1952.78 1503.09,1953.01 1504.41,1953.15 1505.72,1953.4 1507.04,1952.76 1508.35,1953.07 1509.67,1953.24 1510.98,1953.57 1512.3,1953.32 1513.61,1953.52 1514.92,1954.17 1516.24,1953.98 1517.55,1953.86 1518.87,1953.87 1520.18,1953.8 1521.5,1953.68 1522.81,1953.53 1524.13,1953.13 1525.44,1952.95 1526.76,1952.69 1528.07,1952.58 1529.38,1952.56 1530.7,1952.76 1532.01,1952.87 1533.33,1953.44 1534.64,1953.08 1535.96,1952.44 1537.27,1952.66 1538.59,1953.15 1539.9,1953.11 1541.21,1953.31 1542.53,1953.05 1543.84,1953.72 1545.16,1953.16 1546.47,1952.75 1547.79,1952.75 1549.1,1953.64 1550.42,1953.78 1551.73,1953.23 1553.05,1953.26 1554.36,1953.66 1555.67,1953.63 1556.99,1953.65 1558.3,1954.11 1559.62,1954.09 1560.93,1953.72 1562.25,1953.4 1563.56,1953.1 1564.88,1953.1 1566.19,1953.45 1567.5,1953.53 1568.82,1952.88 1570.13,1952.82 1571.45,1952.71 1572.76,1953.26 1574.08,1952.95 1575.39,1953.02 1576.71,1952.59 1578.02,1952.93 1579.34,1953.12 1580.65,1953.34 1581.96,1953.65 1583.28,1953.82 1584.59,1953.79 1585.91,1953.82 1587.22,1953.73 1588.54,1953.08 1589.85,1953 1591.17,1952.96 1592.48,1953.36 1593.79,1952.79 1595.11,1953.24 1596.42,1954.11 1597.74,1954.04 1599.05,1953.9 1600.37,1954.24 1601.68,1953.73 1603,1954.36 1604.31,1954.85 1605.62,1954.76 1606.94,1954.79 1608.25,1954.77 1609.57,1954.45 1610.88,1954.45 1612.2,1953.89 1613.51,1954.45 1614.83,1954.2 1616.14,1953.44 1617.46,1953.46 1618.77,1953.26 1620.08,1952.9 1621.4,1953.02 1622.71,1953.26 1624.03,1954.28 1625.34,1954.5 1626.66,1954.04 1627.97,1954.03 1629.29,1954.34 1630.6,1954.15 1631.91,1954.07 1633.23,1953.87 1634.54,1953.93 1635.86,1953.72 1637.17,1953.98 1638.49,1953.3 1639.8,1953.17 1641.12,1953.4 1642.43,1953.24 1643.75,1953.33 1645.06,1953.32 1646.37,1953.61 1647.69,1953.77 1649,1953.95 1650.32,1954.1 1651.63,1953.94 1652.95,1954.22 1654.26,1954.43 1655.58,1954.33 1656.89,1954.71 1658.2,1954.68 1659.52,1954.57 1660.83,1954.46 1662.15,1954.5 1663.46,1955.46 1664.78,1955.26 1666.09,1955.02 1667.41,1955.2 1668.72,1954.81 1670.04,1954.83 1671.35,1955.13 1672.66,1955.21 1673.98,1955.11 1675.29,1955.25 1676.61,1955.33 1677.92,1954.99 1679.24,1954.39 1680.55,1954.63 1681.87,1954.89 1683.18,1954.29 1684.49,1954.48 1685.81,1954.61 1687.12,1954.71" fill="none" stroke="#bdbdbd" stroke-width="5.5" stroke-linejoin="round" stroke-linecap="round"/>
<polyline points="1277,1942.18 1278.31,1942.2 1279.63,1942.35 1280.94,1942.62 1282.26,1942.51 1283.57,1942.81 1284.89,1942.5 1286.2,1942.58 1287.52,1942.66 1288.83,1942.72 1290.14,1942.89 1291.46,1942.6 1292.77,1942.5 1294.09,1942.03 1295.4,1942.41 1296.72,1942.07 1298.03,1942.37 1299.35,1942.41 1300.66,1943.03 1301.98,1942.15 1303.29,1941.03 1304.6,1939.08 1305.92,1937.56 1307.23,1936.73 1308.55,1936.06 1309.86,1935.63 1311.18,1935.46 1312.49,1936.28 1313.81,1937.33 1315.12,1938.8 1316.43,1939.78 1317.75,1940.11 1319.06,1940.85 1320.38,1942.13 1321.69,1942.1 1323.01,1941.59 1324.32,1941.06 1325.64,1939.8 1326.95,1939.56 1328.27,1939.09 1329.58,1938.32 1330.89,1938.92 1332.21,1939.51 1333.52,1938.67 1334.84,1938.36 1336.15,1937.23 1337.47,1936.53 1338.78,1936.04 1340.1,1935.63 1341.41,1935.92 1342.72,1936.36 1344.04,1935.85 1345.35,1935.7 1346.67,1936.28 1347.98,1936.5 1349.3,1936.13 1350.61,1935.73 1351.93,1935.8 1353.24,1936.05 1354.56,1935.6 1355.87,1935.33 1357.18,1935.42 1358.5,1935.32 1359.81,1935.25 1361.13,1934.83 1362.44,1935.13 1363.76,1935.55 1365.07,1936 1366.39,1936.09 1367.7,1936.22 1369.02,1937.37 1370.33,1937.72 1371.64,1937.79 1372.96,1938.11 1374.27,1937.94 1375.59,1938.11 1376.9,1937.85 1378.22,1937.93 1379.53,1938.27 1380.85,1938.41 1382.16,1938.34 1383.47,1938.69 1384.79,1938.96 1386.1,1939.08 1387.42,1938.45 1388.73,1938.7 1390.05,1938.56 1391.36,1939.03 1392.68,1939.18 1393.99,1939.46 1395.31,1939.76 1396.62,1940.03 1397.93,1940.23 1399.25,1940.89 1400.56,1940.85 1401.88,1941.06 1403.19,1941.72 1404.51,1941.8 1405.82,1942.17 1407.14,1942.35 1408.45,1942.45 1409.76,1942.76 1411.08,1943.41 1412.39,1943.27 1413.71,1943.32 1415.02,1943.4 1416.34,1943.01 1417.65,1943.25 1418.97,1943.27 1420.28,1943.01 1421.6,1942.77 1422.91,1942.72 1424.22,1942.91 1425.54,1943.21 1426.85,1943.44 1428.17,1943.26 1429.48,1943.42 1430.8,1943.93 1432.11,1944.14 1433.43,1944.73 1434.74,1945.39 1436.05,1945.33 1437.37,1945.39 1438.68,1944.96 1440,1945.24 1441.31,1945.21 1442.63,1945.62 1443.94,1946.03 1445.26,1945.28 1446.57,1945.24 1447.88,1945.37 1449.2,1945.91 1450.51,1945.84 1451.83,1946.5 1453.14,1946.4 1454.46,1946.42 1455.77,1946.81 1457.09,1946.78 1458.4,1946.87 1459.72,1947.05 1461.03,1946.81 1462.34,1946.57 1463.66,1946.56 1464.97,1946.64 1466.29,1946.27 1467.6,1946.53 1468.92,1946.73 1470.23,1946.68 1471.55,1947.12 1472.86,1947.03 1474.17,1946.77 1475.49,1946.77 1476.8,1946.14 1478.12,1946.75 1479.43,1947 1480.75,1947.44 1482.06,1947.44 1483.38,1947.59 1484.69,1947.76 1486.01,1948.33 1487.32,1948.11 1488.63,1947.86 1489.95,1948.45 1491.26,1948.12 1492.58,1948.38 1493.89,1948.53 1495.21,1948.37 1496.52,1948.76 1497.84,1948.68 1499.15,1949 1500.46,1949.13 1501.78,1948.83 1503.09,1948.54 1504.41,1948.1 1505.72,1948.43 1507.04,1948.81 1508.35,1949.27 1509.67,1949.57 1510.98,1949.34 1512.3,1949.38 1513.61,1948.79 1514.92,1948.48 1516.24,1948.11 1517.55,1948.5 1518.87,1949.48 1520.18,1949.7 1521.5,1949.57 1522.81,1949.68 1524.13,1949.89 1525.44,1950.44 1526.76,1950.43 1528.07,1949.72 1529.38,1949.39 1530.7,1949.66 1532.01,1950.09 1533.33,1949.84 1534.64,1949.67 1535.96,1950.17 1537.27,1949.75 1538.59,1949.81 1539.9,1949.93 1541.21,1949.77 1542.53,1949.91 1543.84,1950.36 1545.16,1951.19 1546.47,1951.72 1547.79,1951.13 1549.1,1951.43 1550.42,1951.44 1551.73,1951.44 1553.05,1951.56 1554.36,1951.38 1555.67,1952.22 1556.99,1951.79 1558.3,1952.14 1559.62,1952.11 1560.93,1952.13 1562.25,1952.09 1563.56,1951.48 1564.88,1951.66 1566.19,1951.69 1567.5,1951.21 1568.82,1951.42 1570.13,1951.89 1571.45,1951.54 1572.76,1951.31 1574.08,1951.36 1575.39,1951.44 1576.71,1950.88 1578.02,1950.23 1579.34,1950.43 1580.65,1950.55 1581.96,1950.21 1583.28,1950.41 1584.59,1950.33 1585.91,1950.33 1587.22,1949.99 1588.54,1949.47 1589.85,1949.93 1591.17,1950.48 1592.48,1950.77 1593.79,1951.19 1595.11,1951.24 1596.42,1950.81 1597.74,1951.27 1599.05,1950.96 1600.37,1951.25 1601.68,1950.7 1603,1950.6 1604.31,1950.2 1605.62,1950.38 1606.94,1950.43 1608.25,1950.02 1609.57,1949.82 1610.88,1949.73 1612.2,1949.51 1613.51,1949.26 1614.83,1949.7 1616.14,1950.07 1617.46,1950.52 1618.77,1950.52 1620.08,1950.3 1621.4,1950.33 1622.71,1950.14 1624.03,1950.04 1625.34,1949.72 1626.66,1950.34 1627.97,1950.56 1629.29,1950.71 1630.6,1950.72 1631.91,1950.94 1633.23,1950.67 1634.54,1950.11 1635.86,1949.46 1637.17,1949.47 1638.49,1949.09 1639.8,1949.13 1641.12,1948.97 1642.43,1949.02 1643.75,1948.48 1645.06,1948.98 1646.37,1949.8 1647.69,1949.6 1649,1949.73 1650.32,1950.22 1651.63,1950.07 1652.95,1950.28 1654.26,1950.95 1655.58,1951.19 1656.89,1951.13 1658.2,1950.84 1659.52,1950.93 1660.83,1951.02 1662.15,1950.92 1663.46,1951.1 1664.78,1951.18 1666.09,1950.45 1667.41,1950.31 1668.72,1949.91 1670.04,1950.05 1671.35,1949.24 1672.66,1949.2 1673.98,1949.57 1675.29,1949.22 1676.61,1948.89 1677.92,1948.94 1679.24,1949 1680.55,1949.41 1681.87,1950.11 1683.18,1949.49 1684.49,1949.2 1685.81,1949.11 1687.12,1948.89" fill="none" stroke="#000" stroke-width="5.5" stroke-linejoin="round" stroke-linecap="round"/>
<polyline points="1277,1942.12 1278.31,1942.15 1279.63,1942.05 1280.94,1942.26 1282.26,1942.46 1283.57,1943.19 1284.89,1943.86 1286.2,1943.79 1287.52,1944.51 1288.83,1944.27 1290.14,1944.44 1291.46,1944.57 1292.77,1944.93 1294.09,1945.04 1295.4,1945.2 1296.72,1945.16 1298.03,1945.14 1299.35,1945.25 1300.66,1945.19 1301.98,1944.04 1303.29,1942.21 1304.6,1940.01 1305.92,1938.76 1307.23,1938.78 1308.55,1937.97 1309.86,1937.73 1311.18,1937.24 1312.49,1937.07 1313.81,1938.05 1315.12,1939.2 1316.43,1941.04 1317.75,1943.64 1319.06,1946.13 1320.38,1949.06 1321.69,1950.55 1323.01,1951.28 1324.32,1952.67 1325.64,1953.15 1326.95,1953.1 1328.27,1953.27 1329.58,1953.66 1330.89,1953.14 1332.21,1953.55 1333.52,1952.52 1334.84,1951.57 1336.15,1950.97 1337.47,1949.96 1338.78,1950.22 1340.1,1950.05 1341.41,1949.68 1342.72,1949.56 1344.04,1949.33 1345.35,1949.06 1346.67,1948.99 1347.98,1948.46 1349.3,1947.74 1350.61,1947.5 1351.93,1947.74 1353.24,1947.94 1354.56,1948.01 1355.87,1947.9 1357.18,1947.8 1358.5,1948.22 1359.81,1947.63 1361.13,1948.25 1362.44,1948.25 1363.76,1948.16 1365.07,1948.23 1366.39,1948.35 1367.7,1948.83 1369.02,1948.64 1370.33,1948.75 1371.64,1949.26 1372.96,1949.37 1374.27,1949.35 1375.59,1949.87 1376.9,1950.08 1378.22,1950.74 1379.53,1950.14 1380.85,1950.88 1382.16,1950.87 1383.47,1950.66 1384.79,1950.76 1386.1,1950.83 1387.42,1950.76 1388.73,1951.14 1390.05,1951.16 1391.36,1951.18 1392.68,1950.49 1393.99,1950.6 1395.31,1950.32 1396.62,1950.43 1397.93,1950.62 1399.25,1950.12 1400.56,1949.74 1401.88,1949.74 1403.19,1949.77 1404.51,1949.77 1405.82,1949.95 1407.14,1950.37 1408.45,1949.98 1409.76,1950.21 1411.08,1950.78 1412.39,1951.17 1413.71,1951.17 1415.02,1950.38 1416.34,1949.87 1417.65,1949.98 1418.97,1950.73 1420.28,1951.03 1421.6,1951.53 1422.91,1951.73 1424.22,1951.67 1425.54,1951.53 1426.85,1951.89 1428.17,1952.25 1429.48,1952.22 1430.8,1952.86 1432.11,1952.78 1433.43,1952.85 1434.74,1952.73 1436.05,1953.23 1437.37,1953.05 1438.68,1952.9 1440,1953.6 1441.31,1953.88 1442.63,1954.75 1443.94,1954.62 1445.26,1953.93 1446.57,1954 1447.88,1954.23 1449.2,1954.67 1450.51,1954.6 1451.83,1954.61 1453.14,1954.89 1454.46,1955.49 1455.77,1955.68 1457.09,1955.74 1458.4,1955.48 1459.72,1955.35 1461.03,1955.28 1462.34,1955.27 1463.66,1955.22 1464.97,1955.39 1466.29,1956.18 1467.6,1956.46 1468.92,1956.24 1470.23,1956.31 1471.55,1956.52 1472.86,1956.38 1474.17,1956.47 1475.49,1956.54 1476.8,1956.51 1478.12,1956.34 1479.43,1956.27 1480.75,1956.61 1482.06,1956.9 1483.38,1957.47 1484.69,1957.54 1486.01,1957.82 1487.32,1957.88 1488.63,1957.39 1489.95,1957.54 1491.26,1957.26 1492.58,1957.33 1493.89,1957.22 1495.21,1957.49 1496.52,1957.66 1497.84,1957.3 1499.15,1957.17 1500.46,1956.81 1501.78,1956.72 1503.09,1957.66 1504.41,1957.88 1505.72,1957.53 1507.04,1957.13 1508.35,1957.08 1509.67,1957.36 1510.98,1957.79 1512.3,1957.59 1513.61,1957.27 1514.92,1957.05 1516.24,1956.49 1517.55,1957.06 1518.87,1957.07 1520.18,1957.17 1521.5,1957.5 1522.81,1958 1524.13,1958.04 1525.44,1957.76 1526.76,1957.9 1528.07,1958.17 1529.38,1957.88 1530.7,1958.06 1532.01,1957.73 1533.33,1958.21 1534.64,1958.64 1535.96,1958.27 1537.27,1957.88 1538.59,1958.33 1539.9,1958.45 1541.21,1958.36 1542.53,1958.95 1543.84,1959.3 1545.16,1959.49 1546.47,1959.63 1547.79,1959.9 1549.1,1960.28 1550.42,1960.57 1551.73,1960.09 1553.05,1960.42 1554.36,1961.07 1555.67,1960.02 1556.99,1959.86 1558.3,1959.85 1559.62,1959.98 1560.93,1959.74 1562.25,1959.41 1563.56,1959.74 1564.88,1959.98 1566.19,1960.47 1567.5,1959.96 1568.82,1960.32 1570.13,1960.23 1571.45,1960.28 1572.76,1960.74 1574.08,1960.43 1575.39,1960.12 1576.71,1960.6 1578.02,1960.26 1579.34,1959.75 1580.65,1959.91 1581.96,1959.48 1583.28,1959.02 1584.59,1958.67 1585.91,1959.17 1587.22,1959.08 1588.54,1958.96 1589.85,1959.19 1591.17,1959.08 1592.48,1959.29 1593.79,1958.71 1595.11,1958.67 1596.42,1959.12 1597.74,1958.6 1599.05,1958.89 1600.37,1958.67 1601.68,1958.39 1603,1958.73 1604.31,1957.78 1605.62,1958.14 1606.94,1958.09 1608.25,1957.65 1609.57,1958.46 1610.88,1958.65 1612.2,1958.42 1613.51,1958.47 1614.83,1958.37 1616.14,1958.42 1617.46,1958.48 1618.77,1957.84 1620.08,1957.93 1621.4,1958.33 1622.71,1958.03 1624.03,1957.98 1625.34,1958.17 1626.66,1958.47 1627.97,1959.03 1629.29,1959.6 1630.6,1959.44 1631.91,1959.24 1633.23,1959.05 1634.54,1958.77 1635.86,1957.53 1637.17,1957.77 1638.49,1957.55 1639.8,1957.3 1641.12,1957.25 1642.43,1957.34 1643.75,1957.03 1645.06,1956.99 1646.37,1957.08 1647.69,1956.41 1649,1956.52 1650.32,1956.67 1651.63,1957.06 1652.95,1957.22 1654.26,1957.05 1655.58,1957.54 1656.89,1957.54 1658.2,1957.62 1659.52,1958.07 1660.83,1957.55 1662.15,1957.42 1663.46,1957.07 1664.78,1957.05 1666.09,1956.8 1667.41,1956.77 1668.72,1956.54 1670.04,1956.22 1671.35,1956.87 1672.66,1956.6 1673.98,1956.46 1675.29,1956.44 1676.61,1956.93 1677.92,1956.94 1679.24,1956.59 1680.55,1956.36 1681.87,1957.07 1683.18,1957.28 1684.49,1956.65 1685.81,1956.79 1687.12,1956.87" fill="none" stroke="#000" stroke-width="5.5" stroke-linejoin="round" stroke-linecap="round"/>
<polyline points="1277,1943.3 1278.31,1943.91 1279.63,1944.15 1280.94,1944.07 1282.26,1944.55 1283.57,1945.39 1284.89,1945.91 1286.2,1945.49 1287.52,1945.04 1288.83,1944.98 1290.14,1944.92 1291.46,1944.62 1292.77,1945.27 1294.09,1945.74 1295.4,1946.39 1296.72,1946.36 1298.03,1946.32 1299.35,1946.02 1300.66,1946.44 1301.98,1945.71 1303.29,1944.52 1304.6,1943.11 1305.92,1941.65 1307.23,1940.32 1308.55,1940.38 1309.86,1939.71 1311.18,1939.37 1312.49,1939.04 1313.81,1938.39 1315.12,1939.48 1316.43,1941.04 1317.75,1943.11 1319.06,1944.98 1320.38,1946.6 1321.69,1948.49 1323.01,1950.47 1324.32,1951.64 1325.64,1952.3 1326.95,1952.83 1328.27,1953.43 1329.58,1953.32 1330.89,1953.46 1332.21,1953.64 1333.52,1953.73 1334.84,1953.6 1336.15,1952.46 1337.47,1951.75 1338.78,1951.29 1340.1,1950.9 1341.41,1950.38 1342.72,1949.97 1344.04,1949.45 1345.35,1949.74 1346.67,1949.58 1347.98,1949.49 1349.3,1949.12 1350.61,1949.26 1351.93,1949.18 1353.24,1949.53 1354.56,1948.56 1355.87,1948.56 1357.18,1948.55 1358.5,1947.67 1359.81,1948.05 1361.13,1948.9 1362.44,1948.32 1363.76,1947.86 1365.07,1947.63 1366.39,1947.61 1367.7,1947.36 1369.02,1948.16 1370.33,1949.26 1371.64,1949.62 1372.96,1949.32 1374.27,1949.4 1375.59,1949.76 1376.9,1949.9 1378.22,1949.87 1379.53,1950.23 1380.85,1950.58 1382.16,1950.69 1383.47,1951.11 1384.79,1951.73 1386.1,1952.35 1387.42,1952.61 1388.73,1952.78 1390.05,1952.47 1391.36,1952.25 1392.68,1952.26 1393.99,1952.23 1395.31,1951.76 1396.62,1951.62 1397.93,1951.27 1399.25,1951.44 1400.56,1951.25 1401.88,1951.29 1403.19,1951.59 1404.51,1952.13 1405.82,1951.94 1407.14,1951.53 1408.45,1951.15 1409.76,1951.16 1411.08,1951.25 1412.39,1951.74 1413.71,1951.71 1415.02,1951.97 1416.34,1952.15 1417.65,1952.44 1418.97,1952.46 1420.28,1952.45 1421.6,1952.81 1422.91,1952.53 1424.22,1952.39 1425.54,1951.88 1426.85,1951.53 1428.17,1951.53 1429.48,1951.12 1430.8,1951.41 1432.11,1952.17 1433.43,1952.15 1434.74,1952.25 1436.05,1952.57 1437.37,1952.96 1438.68,1952.32 1440,1952.63 1441.31,1952.69 1442.63,1952.72 1443.94,1952.49 1445.26,1952.26 1446.57,1951.81 1447.88,1952.44 1449.2,1952.55 1450.51,1952.83 1451.83,1952.65 1453.14,1952.85 1454.46,1952.88 1455.77,1952.35 1457.09,1952.49 1458.4,1952.62 1459.72,1952.24 1461.03,1951.85 1462.34,1952.68 1463.66,1952.91 1464.97,1953.55 1466.29,1953.33 1467.6,1953.56 1468.92,1953.79 1470.23,1953.47 1471.55,1952.96 1472.86,1952.82 1474.17,1953.41 1475.49,1953.55 1476.8,1953.98 1478.12,1953.06 1479.43,1953.1 1480.75,1953.56 1482.06,1953.4 1483.38,1952.59 1484.69,1952.89 1486.01,1953.4 1487.32,1953.32 1488.63,1953.12 1489.95,1952.92 1491.26,1952.29 1492.58,1952.97 1493.89,1952.87 1495.21,1953.21 1496.52,1953.86 1497.84,1953.89 1499.15,1953.64 1500.46,1953.48 1501.78,1953.57 1503.09,1953.27 1504.41,1953.36 1505.72,1953.15 1507.04,1953.23 1508.35,1953.31 1509.67,1953.76 1510.98,1953.72 1512.3,1953.67 1513.61,1953.31 1514.92,1953.3 1516.24,1953.77 1517.55,1953.46 1518.87,1953.38 1520.18,1953.31 1521.5,1953.74 1522.81,1953.93 1524.13,1954.08 1525.44,1954.37 1526.76,1954.37 1528.07,1954.88 1529.38,1955.26 1530.7,1954.87 1532.01,1955.25 1533.33,1954.51 1534.64,1954.53 1535.96,1954.81 1537.27,1954.5 1538.59,1954.9 1539.9,1954.51 1541.21,1954.94 1542.53,1954.54 1543.84,1954.79 1545.16,1955.09 1546.47,1954.59 1547.79,1954.25 1549.1,1954.52 1550.42,1954.67 1551.73,1955.15 1553.05,1955.22 1554.36,1954.98 1555.67,1955.12 1556.99,1955.24 1558.3,1955.75 1559.62,1955.45 1560.93,1955.65 1562.25,1955.31 1563.56,1954.82 1564.88,1954.96 1566.19,1955.19 1567.5,1955.23 1568.82,1955.22 1570.13,1955.53 1571.45,1955.64 1572.76,1956.39 1574.08,1956.09 1575.39,1956.16 1576.71,1955.56 1578.02,1955.72 1579.34,1955.59 1580.65,1955.44 1581.96,1955.39 1583.28,1954.91 1584.59,1954.99 1585.91,1955.01 1587.22,1954.92 1588.54,1955 1589.85,1954.82 1591.17,1955.21 1592.48,1955.02 1593.79,1955.63 1595.11,1955.67 1596.42,1955.91 1597.74,1956.02 1599.05,1955.91 1600.37,1955.8 1601.68,1955.62 1603,1956.03 1604.31,1955.34 1605.62,1955.32 1606.94,1955.4 1608.25,1955.55 1609.57,1955.17 1610.88,1955.55 1612.2,1955.52 1613.51,1955.32 1614.83,1955.46 1616.14,1955.7 1617.46,1955.96 1618.77,1955.61 1620.08,1955.49 1621.4,1955.05 1622.71,1954.7 1624.03,1954.28 1625.34,1954.91 1626.66,1954.67 1627.97,1955.06 1629.29,1955.38 1630.6,1955.64 1631.91,1955.62 1633.23,1955.12 1634.54,1954.85 1635.86,1954.6 1637.17,1955.19 1638.49,1954.47 1639.8,1954.4 1641.12,1954.06 1642.43,1954.03 1643.75,1954.08 1645.06,1954.61 1646.37,1954.66 1647.69,1955.65 1649,1955.65 1650.32,1955.96 1651.63,1955.67 1652.95,1955.38 1654.26,1955.37 1655.58,1955.22 1656.89,1955.29 1658.2,1954.75 1659.52,1955.09 1660.83,1954.87 1662.15,1955.46 1663.46,1955.17 1664.78,1955.01 1666.09,1955.03 1667.41,1954.87 1668.72,1954.61 1670.04,1954.68 1671.35,1954.57 1672.66,1953.98 1673.98,1953.5 1675.29,1953.19 1676.61,1953.6 1677.92,1953.36 1679.24,1953.42 1680.55,1953.66 1681.87,1953.75 1683.18,1953.48 1684.49,1953.66 1685.81,1954 1687.12,1954.23" fill="none" stroke="#000" stroke-width="5.5" stroke-linejoin="round" stroke-linecap="round"/>
<polyline points="1277,1940.9 1278.31,1940.74 1279.63,1941.18 1280.94,1941.52 1282.26,1941.61 1283.57,1942.25 1284.89,1942.15 1286.2,1942.71 1287.52,1942.89 1288.83,1943.55 1290.14,1943.63 1291.46,1943.49 1292.77,1943.37 1294.09,1943.52 1295.4,1944.52 1296.72,1944.76 1298.03,1944.74 1299.35,1944.34 1300.66,1944.37 1301.98,1943.66 1303.29,1942.56 1304.6,1941.5 1305.92,1939.75 1307.23,1938.65 1308.55,1938.19 1309.86,1937.69 1311.18,1936.93 1312.49,1936.93 1313.81,1937.36 1315.12,1937.54 1316.43,1939.34 1317.75,1940.34 1319.06,1940.61 1320.38,1940.74 1321.69,1940.82 1323.01,1941.2 1324.32,1941.53 1325.64,1941.3 1326.95,1941.41 1328.27,1940.25 1329.58,1939.79 1330.89,1938.83 1332.21,1937.93 1333.52,1937.57 1334.84,1936.95 1336.15,1936.7 1337.47,1936.56 1338.78,1936.57 1340.1,1936.7 1341.41,1936.52 1342.72,1936.57 1344.04,1937.1 1345.35,1936.95 1346.67,1936.98 1347.98,1937.55 1349.3,1937.3 1350.61,1937.61 1351.93,1937.92 1353.24,1937.59 1354.56,1938.37 1355.87,1937.27 1357.18,1937.66 1358.5,1936.79 1359.81,1937.4 1361.13,1937.55 1362.44,1938.08 1363.76,1938.31 1365.07,1938.39 1366.39,1938.11 1367.7,1938.34 1369.02,1937.98 1370.33,1938.22 1371.64,1937.6 1372.96,1937.67 1374.27,1937.89 1375.59,1938.08 1376.9,1938.03 1378.22,1938.82 1379.53,1938.71 1380.85,1939.2 1382.16,1939.25 1383.47,1939.25 1384.79,1939.97 1386.1,1940.24 1387.42,1940.61 1388.73,1940.81 1390.05,1940.39 1391.36,1939.89 1392.68,1939.43 1393.99,1939.91 1395.31,1940.48 1396.62,1940.89 1397.93,1941.18 1399.25,1941.12 1400.56,1941.17 1401.88,1941.99 1403.19,1941.75 1404.51,1941.69 1405.82,1942.37 1407.14,1943.02 1408.45,1943.28 1409.76,1943.9 1411.08,1944.19 1412.39,1944.41 1413.71,1943.9 1415.02,1943.83 1416.34,1944.68 1417.65,1944.62 1418.97,1945.1 1420.28,1945.06 1421.6,1944.74 1422.91,1944.57 1424.22,1944.93 1425.54,1944.66 1426.85,1944.91 1428.17,1945 1429.48,1944.92 1430.8,1945.03 1432.11,1945.01 1433.43,1945.66 1434.74,1946.15 1436.05,1946.63 1437.37,1946.69 1438.68,1946.96 1440,1947.17 1441.31,1946.91 1442.63,1947.33 1443.94,1947.74 1445.26,1948.02 1446.57,1948.23 1447.88,1947.98 1449.2,1948.02 1450.51,1948.8 1451.83,1949.18 1453.14,1949.96 1454.46,1949.7 1455.77,1949.56 1457.09,1950.44 1458.4,1950.4 1459.72,1950.62 1461.03,1950.82 1462.34,1951.06 1463.66,1950.88 1464.97,1950.52 1466.29,1950.63 1467.6,1950.16 1468.92,1949.85 1470.23,1949.79 1471.55,1949.37 1472.86,1948.88 1474.17,1949.53 1475.49,1949.53 1476.8,1949.44 1478.12,1949.32 1479.43,1948.88 1480.75,1949.3 1482.06,1949.34 1483.38,1949.66 1484.69,1949.44 1486.01,1950.13 1487.32,1950.48 1488.63,1950.34 1489.95,1950.19 1491.26,1950.48 1492.58,1950.62 1493.89,1950.21 1495.21,1950.72 1496.52,1950.81 1497.84,1951.36 1499.15,1951.11 1500.46,1951.21 1501.78,1951.6 1503.09,1951.33 1504.41,1951.45 1505.72,1951.52 1507.04,1951.19 1508.35,1950.85 1509.67,1950.96 1510.98,1951.33 1512.3,1951.34 1513.61,1951.77 1514.92,1951.65 1516.24,1952.05 1517.55,1952.22 1518.87,1952.34 1520.18,1952 1521.5,1951.9 1522.81,1952.01 1524.13,1951.86 1525.44,1952 1526.76,1951.84 1528.07,1951.55 1529.38,1951.4 1530.7,1951.53 1532.01,1951.08 1533.33,1951.06 1534.64,1951.42 1535.96,1951.56 1537.27,1951.32 1538.59,1951.75 1539.9,1951.91 1541.21,1952.13 1542.53,1952.25 1543.84,1952.34 1545.16,1952.37 1546.47,1951.94 1547.79,1951.23 1549.1,1951.46 1550.42,1951.36 1551.73,1950.84 1553.05,1950.98 1554.36,1951.31 1555.67,1951.29 1556.99,1951.41 1558.3,1951.33 1559.62,1951.53 1560.93,1952.19 1562.25,1952.39 1563.56,1952.71 1564.88,1952.56 1566.19,1953.15 1567.5,1953.33 1568.82,1953.23 1570.13,1953.07 1571.45,1953.83 1572.76,1953.41 1574.08,1953.23 1575.39,1953.27 1576.71,1953.31 1578.02,1953.97 1579.34,1953.75 1580.65,1953.68 1581.96,1953.18 1583.28,1953.1 1584.59,1952.35 1585.91,1952.66 1587.22,1952.94 1588.54,1952.13 1589.85,1952.1 1591.17,1952.54 1592.48,1952.5 1593.79,1952.38 1595.11,1952.53 1596.42,1952.45 1597.74,1952.97 1599.05,1952.95 1600.37,1952.79 1601.68,1952.8 1603,1952.4 1604.31,1952.19 1605.62,1952.16 1606.94,1952.08 1608.25,1952.62 1609.57,1952.9 1610.88,1952.82 1612.2,1953.11 1613.51,1953.01 1614.83,1952.91 1616.14,1952.72 1617.46,1953.23 1618.77,1952.74 1620.08,1952.49 1621.4,1952.13 1622.71,1952.07 1624.03,1951.68 1625.34,1952.57 1626.66,1953.14 1627.97,1953.38 1629.29,1954.11 1630.6,1953.83 1631.91,1953.6 1633.23,1953.36 1634.54,1954.24 1635.86,1953.86 1637.17,1953.96 1638.49,1954.11 1639.8,1953.74 1641.12,1954.05 1642.43,1953.8 1643.75,1953.88 1645.06,1954.01 1646.37,1953.17 1647.69,1953.04 1649,1952.51 1650.32,1952.41 1651.63,1951.88 1652.95,1952.64 1654.26,1952.41 1655.58,1952.46 1656.89,1952.21 1658.2,1952.13 1659.52,1952.12 1660.83,1952.13 1662.15,1951.48 1663.46,1951.38 1664.78,1951.48 1666.09,1951.44 1667.41,1951.59 1668.72,1951.57 1670.04,1951.96 1671.35,1951.73 1672.66,1951.58 1673.98,1951.12 1675.29,1951.48 1676.61,1951.99 1677.92,1952.3 1679.24,1951.97 1680.55,1952.25 1681.87,1951.75 1683.18,1952.22 1684.49,1952.37 1685.81,1952.64 1687.12,1952.44" fill="none" stroke="#000" stroke-width="5.5" stroke-linejoin="round" stroke-linecap="round"/>
<line x1="1277" y1="1562.9" x2="1277" y2="1998.8" stroke="#000" stroke-width="2.2" stroke-linecap="butt"/>
<line x1="1277" y1="1984.6" x2="1698.74" y2="1984.6" stroke="#000" stroke-width="2.2" stroke-linecap="butt"/>
<line x1="1262.8" y1="1942.4" x2="1277" y2="1942.4" stroke="#000" stroke-width="2.2" stroke-linecap="butt"/>
<text transform="translate(1245,1954.66) scale(0.98,1)" font-size="37.5" text-anchor="end">0</text>
<line x1="1262.8" y1="1847.8" x2="1277" y2="1847.8" stroke="#000" stroke-width="2.2" stroke-linecap="butt"/>
<text transform="translate(1245,1860.06) scale(0.98,1)" font-size="37.5" text-anchor="end">2</text>
<line x1="1262.8" y1="1753.2" x2="1277" y2="1753.2" stroke="#000" stroke-width="2.2" stroke-linecap="butt"/>
<text transform="translate(1245,1765.46) scale(0.98,1)" font-size="37.5" text-anchor="end">4</text>
<line x1="1262.8" y1="1658.6" x2="1277" y2="1658.6" stroke="#000" stroke-width="2.2" stroke-linecap="butt"/>
<text transform="translate(1245,1670.86) scale(0.98,1)" font-size="37.5" text-anchor="end">6</text>
<line x1="1262.8" y1="1564" x2="1277" y2="1564" stroke="#000" stroke-width="2.2" stroke-linecap="butt"/>
<text transform="translate(1245,1576.26) scale(0.98,1)" font-size="37.5" text-anchor="end">8</text>
<text transform="translate(1276.5,2050.2) scale(0.98,1)" font-size="37.5" text-anchor="middle">0</text>
<line x1="1382.16" y1="1984.6" x2="1382.16" y2="1998.8" stroke="#000" stroke-width="2.2" stroke-linecap="butt"/>
<text transform="translate(1381.66,2050.2) scale(0.98,1)" font-size="37.5" text-anchor="middle">40</text>
<line x1="1487.32" y1="1984.6" x2="1487.32" y2="1998.8" stroke="#000" stroke-width="2.2" stroke-linecap="butt"/>
<text transform="translate(1486.82,2050.2) scale(0.98,1)" font-size="37.5" text-anchor="middle">80</text>
<line x1="1592.48" y1="1984.6" x2="1592.48" y2="1998.8" stroke="#000" stroke-width="2.2" stroke-linecap="butt"/>
<text transform="translate(1591.98,2050.2) scale(0.98,1)" font-size="37.5" text-anchor="middle">120</text>
<line x1="1697.64" y1="1984.6" x2="1697.64" y2="1998.8" stroke="#000" stroke-width="2.2" stroke-linecap="butt"/>
<text transform="translate(1697.14,2050.2) scale(0.98,1)" font-size="37.5" text-anchor="middle">160</text>
<text transform="translate(1487,1524.9) scale(0.95,1)" font-size="42.7" text-anchor="middle" font-weight="bold">PZFX</text>
<text transform="translate(1178.2,1530.6) scale(1,1)" font-size="34" text-anchor="start">(x10<tspan font-size="21.76" dy="-17.34">2</tspan><tspan dy="17.34">)</tspan></text>
<text transform="translate(1185.7,1773.9) rotate(-90) scale(1.03,1.07)" font-size="36" text-anchor="middle">RLU</text>
<text transform="translate(1487.32,2124.2) scale(1.05,1)" font-size="36" text-anchor="middle">Time (s)</text>
<line x1="1356.4" y1="1605.5" x2="1437.2" y2="1605.5" stroke="#bdbdbd" stroke-width="6" stroke-linecap="round"/>
<line x1="1356.4" y1="1652.1" x2="1437.2" y2="1652.1" stroke="#000" stroke-width="6" stroke-linecap="round"/>
<text transform="translate(1460.2,1617.7) scale(1.01,1)" font-size="36.7" text-anchor="start">Human MRGPRX2</text>
<text transform="translate(1460.2,1664.3) scale(1.01,1)" font-size="36.7" text-anchor="start">Dog MRGPRX2</text>
</svg>
</body>
</html>
